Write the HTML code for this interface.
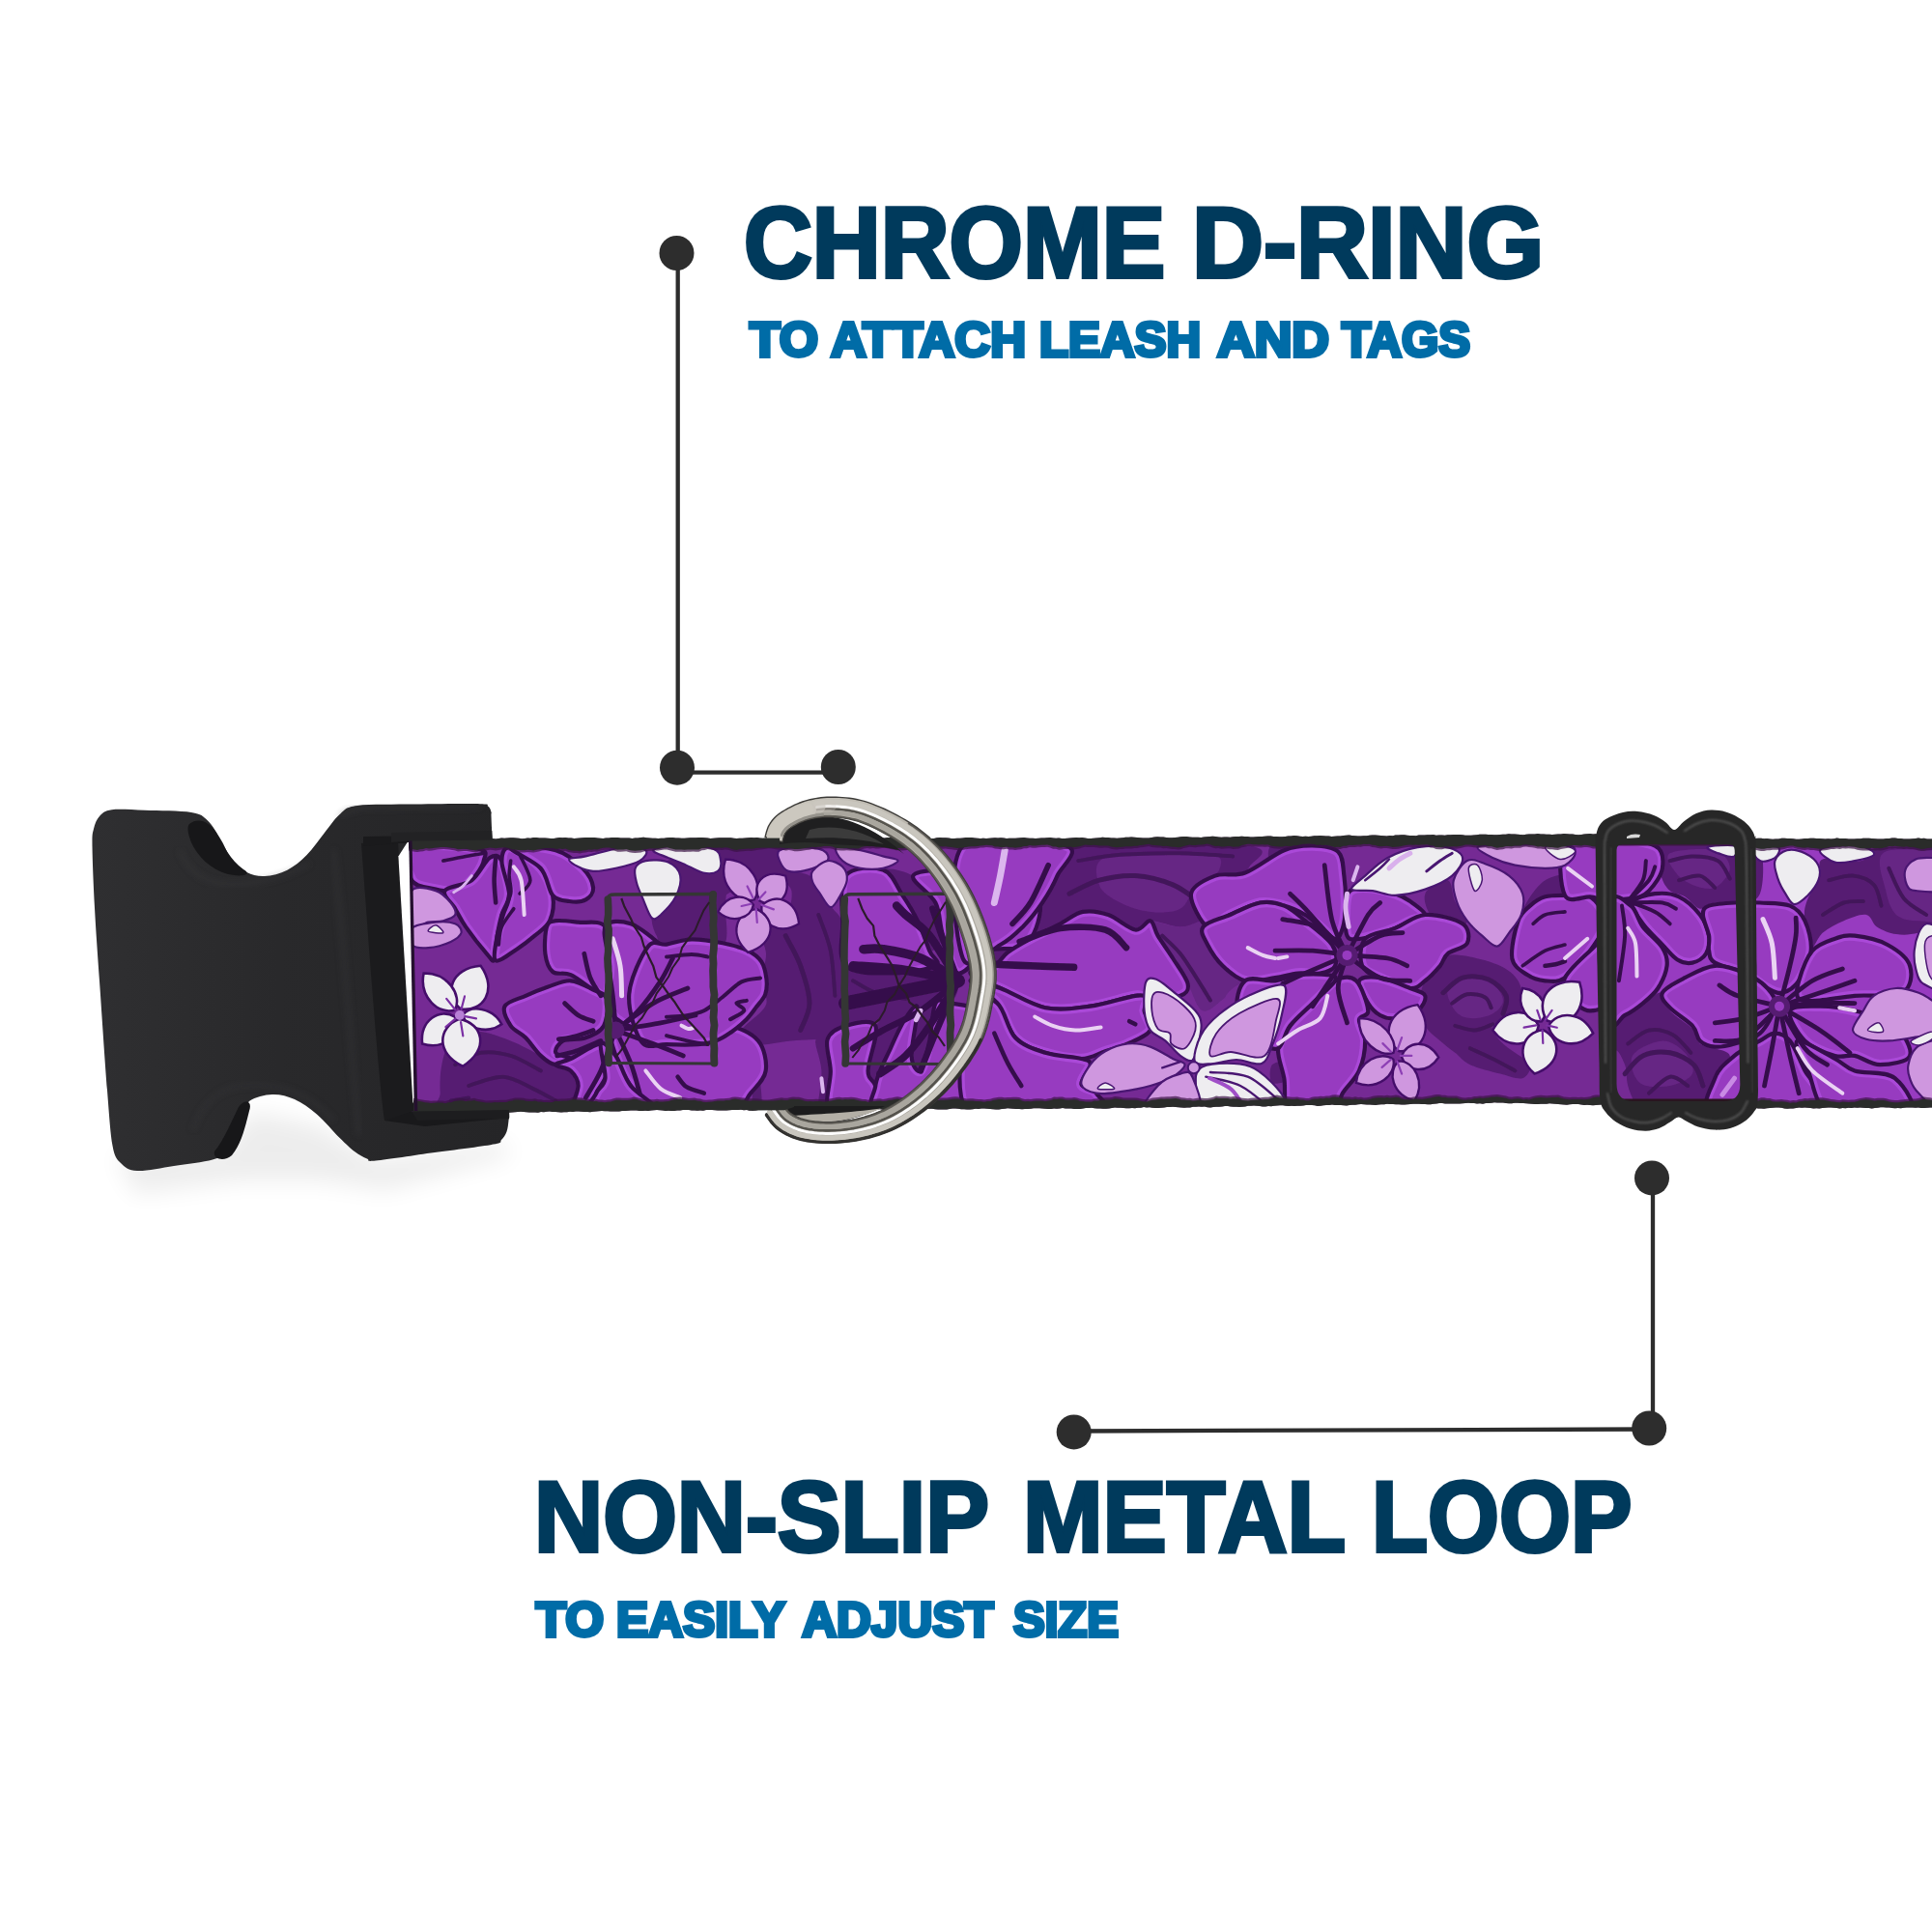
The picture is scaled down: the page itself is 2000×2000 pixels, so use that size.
<!DOCTYPE html>
<html lang="en">
<head>
<meta charset="utf-8">
<title>Collar features</title>
<style>
html,body{margin:0;padding:0;background:#fff;}
body{width:2000px;height:2000px;overflow:hidden;}
svg{display:block;}
text{font-family:"Liberation Sans",sans-serif;font-weight:bold;stroke-linejoin:miter;paint-order:stroke fill;}
.t1{fill:#003a5c;stroke:#003a5c;stroke-width:4px;font-size:103.2px;}
.t2{fill:#006ca7;stroke:#006ca7;stroke-width:4px;font-size:49.8px;}
</style>
</head>
<body>
<svg width="2000" height="2000" viewBox="0 0 2000 2000">
<rect width="2000" height="2000" fill="#ffffff"/>
<defs>
<clipPath id="clipA"><path d="M424.5,870 L424,870.1 L600,869.3 L1100,869.5 L1350,867.5 L1590,865.5 L1664,865.5 L1664,1145 L1664,1142.0 L1640,1141.8 L1560,1139.8 L1430,1141.5 L1130,1145.5 L660,1147.8 L600,1149.0 L424,1150.5 L430.5,1150Z"/></clipPath>
<clipPath id="clipB"><path d="M1664,873 L1810,873 L1810,870 L2000,870 L2000,1145.5 L1810,1145.5 L1810,1140.5 L1664,1140.5Z"/></clipPath>
<filter id="softP" x="0" y="0" width="100%" height="100%" filterUnits="userSpaceOnUse"><feGaussianBlur stdDeviation="0.55"/></filter>
</defs>
<g id="labels">
<text class="t1" y="286.75"><tspan x="770.0" textLength="436.1" lengthAdjust="spacingAndGlyphs">CHROME</tspan> <tspan x="1234.0" textLength="364.3" lengthAdjust="spacingAndGlyphs">D-RING</tspan></text>
<text class="t2" y="368.75"><tspan x="776.0" textLength="71.0" lengthAdjust="spacingAndGlyphs">TO</tspan> <tspan x="860.0" textLength="202.0" lengthAdjust="spacingAndGlyphs">ATTACH</tspan> <tspan x="1076.0" textLength="167.1" lengthAdjust="spacingAndGlyphs">LEASH</tspan> <tspan x="1260.0" textLength="116.0" lengthAdjust="spacingAndGlyphs">AND</tspan> <tspan x="1389.0" textLength="133.0" lengthAdjust="spacingAndGlyphs">TAGS</tspan></text>
<text class="t1" y="1605.5"><tspan x="553.0" textLength="469.1" lengthAdjust="spacingAndGlyphs">NON-SLIP</tspan> <tspan x="1059.0" textLength="332.3" lengthAdjust="spacingAndGlyphs">METAL</tspan> <tspan x="1420.0" textLength="269.4" lengthAdjust="spacingAndGlyphs">LOOP</tspan></text>
<text class="t2" y="1693.7"><tspan x="554.8" textLength="70.2" lengthAdjust="spacingAndGlyphs">TO</tspan> <tspan x="638.0" textLength="174.0" lengthAdjust="spacingAndGlyphs">EASILY</tspan> <tspan x="830.2" textLength="198.4" lengthAdjust="spacingAndGlyphs">ADJUST</tspan> <tspan x="1049.0" textLength="109.0" lengthAdjust="spacingAndGlyphs">SIZE</tspan></text>
</g>
<g id="callouts" fill="#2d2d2d" stroke="#2d2d2d" stroke-width="4.3" stroke-linecap="butt">
<line x1="701.7" y1="262" x2="701.7" y2="795"/>
<line x1="701" y1="799.6" x2="868" y2="799.6"/>
<circle cx="700.5" cy="262" r="18" stroke="none"/>
<circle cx="701" cy="794.7" r="18" stroke="none"/>
<circle cx="867.8" cy="794" r="18" stroke="none"/>
<line x1="1711" y1="1219" x2="1711" y2="1478"/>
<line x1="1112" y1="1481.5" x2="1707" y2="1479.5"/>
<circle cx="1710" cy="1219.4" r="18" stroke="none"/>
<circle cx="1707.2" cy="1478.5" r="18" stroke="none"/>
<circle cx="1111.7" cy="1482.4" r="18" stroke="none"/>
</g>
<g id="buckle">
<defs><linearGradient id="bkG" x1="0" y1="0" x2="1" y2="0"><stop offset="0" stop-color="#2f2f31"/><stop offset="0.45" stop-color="#29292b"/><stop offset="1" stop-color="#252527"/></linearGradient><filter id="blur12" x="-20%" y="-50%" width="140%" height="200%"><feGaussianBlur stdDeviation="12"/></filter><filter id="blur3"><feGaussianBlur stdDeviation="3"/></filter></defs>
<path d="M120,1195 L230,1190 L260,1150 L330,1165 L390,1200 L520,1182 L530,1196 L400,1232 L330,1222 L250,1222 L140,1236Z" fill="#000" opacity="0.07" filter="url(#blur12)"/>
<path d="M95.5,876C95.3,862.3 95.8,863.2 97,858C98.2,852.8 99.9,848.3 103,845C106.1,841.7 107.9,839.2 115.7,838.2C123.5,837.2 136.3,838.3 150,838.8C163.7,839.3 187.2,839.2 198,841C208.8,842.8 209.8,844.7 215,849.5C220.2,854.3 224.8,863 229,869.7C233.2,876.5 235.6,884.5 240,890C244.4,895.5 249.8,900.2 255.5,903C261.2,905.8 267,907.4 274,907C281,906.6 290.1,904.4 297.4,900.7C304.7,897 311.2,891.5 317.6,885C324,878.5 330.3,869 336,862C341.7,855 346,847.7 351.7,843C357.4,838.3 356.9,835.7 370,834C383.1,832.3 408.8,832.9 430,832.6C451.2,832.3 484.5,831.9 497,832.2C509.5,832.5 503.1,832.9 505,834.5C506.9,836.1 507.9,836.8 508.6,842C509.4,847.2 507.3,823 509.5,866C511.7,909 519.1,1052.7 522,1100C524.9,1147.3 526.2,1140 527,1150C527.8,1160 526.9,1156.4 526.5,1160C526.1,1163.6 525.8,1168.2 524.5,1171.5C523.2,1174.8 521.3,1177.8 519,1180C516.7,1182.2 522.3,1182.3 510.8,1184.5C499.3,1186.7 470.3,1190.2 450,1193C429.7,1195.8 400.7,1200.4 389,1201.5C377.3,1202.6 383.7,1201.1 380,1199.5C376.3,1197.9 371.7,1195.6 367,1192C362.3,1188.4 358.2,1184.4 351.7,1178C345.2,1171.6 335.8,1160.2 328,1153.5C320.2,1146.8 312.7,1141.4 305,1138C297.3,1134.6 289.6,1132.7 281.9,1133C274.2,1133.3 263.8,1135.7 258.6,1139.6C253.4,1143.5 253.1,1150.7 250.8,1156.6C248.5,1162.5 247.2,1169.1 244.6,1175C242,1180.9 239.1,1187.8 235,1192C230.9,1196.2 229.2,1198 220,1200.5C210.8,1203 193,1205.1 180,1207C167,1208.9 151.2,1212.5 142,1212C132.8,1211.5 129.2,1208.3 125,1204C120.8,1199.7 118.8,1198.5 116.5,1186C114.2,1173.5 113.2,1156.4 111,1128.7C108.8,1101 105.5,1051.5 103.3,1020C101.1,988.5 99.3,964 98,940C96.7,916 95.7,889.7 95.5,876Z" fill="url(#bkG)"/>
<path d="M196,853 C205,846 216,850 224,862 C232,876 238,890 252,900 C262,906 250,908 236,905 C218,900 204,886 198,872 C195,864 193,857 196,853Z" fill="#171719"/>
<path d="M222,1192 C232,1180 240,1160 247,1146 C252,1138 262,1138 258,1150 C254,1166 250,1184 240,1196 C232,1203 220,1200 222,1192Z" fill="#171719"/>
<path d="M186,880 C192,896 204,910 226,914 C250,918 290,912 320,894" fill="none" stroke="#3a3a3d" stroke-width="3" opacity="0.55" filter="url(#blur3)"/>
<path d="M200,1170 C206,1150 220,1128 250,1124 C290,1120 320,1132 346,1160" fill="none" stroke="#38383b" stroke-width="3" opacity="0.5" filter="url(#blur3)"/>
<path d="M374,873 L412,871 L427.5,1142 L431,1150 L398,1160 C390,1100 380,950 374,873Z" fill="#1b1b1d"/>
<path d="M376,866 L509,864 L509.5,872 L412,873 L376,876Z" fill="#1a1a1c"/>
<path d="M398,1160 L431,1149 L527,1147 L527,1157 L440,1166Z" fill="#19191b"/>
<path d="M352,846 C360,838 372,836 384,836 L498,834.5" fill="none" stroke="#3b3b3e" stroke-width="3" opacity="0.6" filter="url(#blur3)"/>
<path d="M345,880 C355,960 362,1080 372,1175" fill="none" stroke="#363639" stroke-width="5" opacity="0.5" filter="url(#blur3)"/>
<path d="M412.4,886.5 L421.5,872.3 L424.3,871.5 L430,1141.5 L427.4,1141.5Z" fill="#ffffff"/>
</g>
<g id="pattern" filter="url(#softP)">
<g clip-path="url(#clipA)">
<rect x="415" y="860" width="1260" height="295" fill="#742c94"/>
<path d="M457.3,1102.2C459.1,1093.7 460.4,1086.2 466.6,1080.5C472.8,1074.8 484.2,1068.6 494.5,1068.1C504.9,1067.6 517.8,1073.3 528.7,1077.4C539.6,1081.5 552,1088.8 559.8,1092.9C567.5,1097.1 569.3,1099.6 575.3,1102.2C581.2,1104.8 590.3,1104.8 595.5,1108.4C600.6,1112.1 605.8,1118.8 606.3,1124C606.9,1129.2 601.2,1134.3 598.6,1139.5C596,1144.7 613.8,1152.4 590.8,1155C567.8,1157.6 482.9,1158.9 460.4,1155C437.9,1151.1 456.2,1140.5 455.7,1131.7C455.2,1122.9 455.5,1110.8 457.3,1102.2Z" fill="#571d72"/>
<path d="M429.3,878.6C432.9,872.7 444.8,875.3 451.1,875.5C457.3,875.8 466.6,876.3 466.6,880.2C466.6,884.1 457.3,893.6 451.1,898.8C444.8,904 432.9,914.6 429.3,911.2C425.7,907.9 425.7,884.6 429.3,878.6Z" fill="#571d72"/>
<path d="M704.2,906.6C707.6,900.4 713,896.2 720,891.1C727,885.9 731.4,878.1 746.1,875.5C760.8,872.9 796.6,870.4 808.2,875.5C819.8,880.7 819.8,900.6 816,906.6C812.1,912.5 796.6,907.4 784.9,911.2C773.3,915.1 756.9,921.9 746.1,929.9C735.3,937.9 727.8,947.7 720,959.4C712.2,971 705.5,995.6 699.5,999.8C693.5,1003.9 687.1,992 684,984.2C680.9,976.5 678.3,962.5 680.9,953.2C683.5,943.9 695.6,936.1 699.5,928.3C703.4,920.6 700.7,912.8 704.2,906.6Z" fill="#571d72"/>
<path d="M807,905C810.1,902.4 829.2,901.1 838,906.6C846.8,912 854.1,929.4 859.8,937.6C865.4,945.9 869.6,945.9 872.2,956.3C874.8,966.6 867,991.2 875.3,999.8C883.6,1008.3 906.3,1007.5 921.9,1007.5C937.4,1007.5 956.8,999.8 968.4,999.8C980.1,999.8 989.2,1001 991.7,1007.5C994.3,1014 993,1030.8 984,1038.6C974.9,1046.3 952.9,1050.2 937.4,1054.1C921.9,1058 903.7,1058.5 890.8,1061.9C877.9,1065.2 871.7,1071.7 859.8,1074.3C847.8,1076.9 832.3,1076.1 819.4,1077.4C806.4,1078.7 792.7,1082 782.1,1082C771.5,1082 757.5,1080.8 755.7,1077.4C753.9,1074 765,1068.1 771.2,1061.9C777.5,1055.7 790.1,1047.9 793,1040.1C795.8,1032.4 788.3,1024.1 788.3,1015.3C788.3,1006.5 793.2,996.6 793,987.3C792.7,978 783.4,966.1 786.8,959.4C790.1,952.7 807.7,953.2 813.2,947C818.6,940.7 820.4,929.1 819.4,922.1C818.3,915.1 803.9,907.6 807,905Z" fill="#571d72"/>
<path d="M914.1,900.4C915.9,897 936.1,900.9 945.2,906.6C954.2,912.3 963.3,924.2 968.4,934.5C973.6,944.9 977.2,960.4 976.2,968.7C975.2,977 966.6,986.8 962.2,984.2C957.8,981.6 954.5,962.7 949.8,953.2C945.2,943.6 940.2,935.6 934.3,926.8C928.3,918 912.3,903.7 914.1,900.4Z" fill="#571d72"/>
<path d="M772.8,1083.6C773.3,1077.9 779.8,1076.6 782.1,1082C784.4,1087.5 785.7,1105.3 786.8,1116.2C787.8,1127.1 789.6,1142.1 788.3,1147.3C787,1152.4 780.6,1152.4 779,1147.3C777.5,1142.1 780,1126.8 779,1116.2C778,1105.6 772.3,1089.3 772.8,1083.6Z" fill="#571d72"/>
<path d="M844.2,1077.4C845.3,1072 854.1,1070.7 856.6,1075.8C859.2,1081 859.2,1096.5 859.8,1108.4C860.3,1120.4 861.8,1140.8 859.8,1147.3C857.7,1153.7 848.9,1153.7 847.3,1147.3C845.8,1140.8 851,1120.1 850.4,1108.4C849.9,1096.8 843.2,1082.8 844.2,1077.4Z" fill="#571d72"/>
<path d="M906.3,1061.9C912.8,1052.8 934.8,1050.2 937.4,1054.1C940,1058 927,1073.5 921.9,1085.2C916.7,1096.8 910.2,1120.1 906.3,1124C902.5,1127.9 898.6,1118.8 898.6,1108.4C898.6,1098.1 899.9,1070.9 906.3,1061.9Z" fill="#571d72"/>
<path d="M949.8,1043.2C954,1034.2 966.4,1032.9 968.4,1038.6C970.5,1044.3 964.8,1065.7 962.2,1077.4C959.6,1089 956,1105.9 952.9,1108.4C949.8,1111 944.1,1103.8 943.6,1092.9C943.1,1082 945.7,1052.3 949.8,1043.2Z" fill="#571d72"/>
<path d="M1103.9,875.5C1136.7,870.4 1260.2,871.9 1291.7,875.5C1323.3,879.2 1295.9,891.3 1293.3,897.3C1290.7,903.2 1282.9,906.6 1276.2,911.2C1269.5,915.9 1258.9,920.3 1252.9,925.2C1247,930.1 1241,936.1 1240.5,940.7C1240,945.4 1252.9,950.1 1249.8,953.2C1246.7,956.3 1231.7,959.4 1221.9,959.4C1212,959.4 1198.6,952.7 1190.8,953.2C1183,953.7 1182.5,963.5 1175.3,962.5C1168,961.4 1156.4,950.1 1147.3,947C1138.3,943.9 1129.2,942.3 1120.9,943.9C1112.7,945.4 1106.7,951.6 1097.6,956.3C1088.6,960.9 1075.6,966.9 1066.6,971.8C1057.5,976.7 1049.5,981.1 1043.3,985.8C1037.1,990.4 1035.8,996.1 1029.3,999.8C1022.8,1003.4 1009.9,1008.8 1004.5,1007.5C999,1006.2 991.5,996.9 996.7,992C1001.9,987.1 1025.2,983.4 1035.5,978C1045.9,972.6 1051.6,966.6 1058.8,959.4C1066.1,952.1 1073.1,943.3 1079,934.5C1085,925.7 1090.4,916.4 1094.5,906.6C1098.7,896.7 1071,880.7 1103.9,875.5Z" fill="#571d72"/>
<path d="M1147.3,886.4C1166,881 1230.7,881 1249.8,883.3C1269,885.6 1264.3,894.4 1262.2,900.4C1260.2,906.3 1244.1,912.3 1237.4,919C1230.7,925.7 1229.6,936.6 1221.9,940.7C1214.1,944.9 1201.2,944.9 1190.8,943.9C1180.5,942.8 1168.6,939.2 1159.8,934.5C1151,929.9 1140.1,923.9 1138,915.9C1135.9,907.9 1128.7,891.8 1147.3,886.4Z" fill="#662584"/>
<path d="M1187.7,953.2C1191.6,951.6 1211.5,959.4 1221.9,959.4C1232.2,959.4 1243.1,950.3 1249.8,953.2C1256.5,956 1258.1,968.7 1262.2,976.5C1266.4,984.2 1270.5,993 1274.7,999.8C1278.8,1006.5 1288.1,1011.4 1287.1,1016.8C1286,1022.3 1275.4,1027.4 1268.4,1032.4C1261.5,1037.3 1251.6,1048.7 1245.2,1046.3C1238.7,1044 1234.8,1027.4 1229.6,1018.4C1224.5,1009.3 1219.3,1000.3 1214.1,992C1208.9,983.7 1203,975.2 1198.6,968.7C1194.2,962.2 1183.8,954.7 1187.7,953.2Z" fill="#662584"/>
<path d="M1268.4,1032.4C1269,1028.7 1278.5,1019.7 1287.1,1016.8C1295.7,1014 1314.5,1013 1320,1015.3C1325.5,1017.6 1326,1026.9 1320,1030.8C1314,1034.7 1292.6,1038.3 1284,1038.6C1275.4,1038.8 1267.9,1036 1268.4,1032.4Z" fill="#742c94"/>
<path d="M1316.9,874C1324.1,869.6 1353.6,871.6 1360.4,874C1367.1,876.3 1361.4,884.6 1357.3,888C1353.1,891.3 1342.3,892.1 1335.5,894.2C1328.8,896.2 1320,903.7 1316.9,900.4C1313.8,897 1309.6,878.4 1316.9,874Z" fill="#571d72"/>
<path d="M1475.3,1015.3C1478.9,1008.8 1486.9,1004.2 1490.8,999.8C1494.7,995.4 1493.4,990.4 1498.6,988.9C1503.7,987.3 1512.8,988.6 1521.9,990.4C1530.9,992.2 1544.6,995.6 1552.9,999.8C1561.2,1003.9 1567.7,1008.8 1571.6,1015.3C1575.4,1021.7 1576.7,1032.1 1576.2,1038.6C1575.7,1045 1573.6,1050.2 1568.4,1054.1C1563.3,1058 1547.7,1058 1545.2,1061.9C1542.6,1065.7 1549,1072.7 1552.9,1077.4C1556.8,1082 1563.3,1085.7 1568.4,1089.8C1573.6,1094 1582.7,1097.8 1584,1102.2C1585.3,1106.6 1581.4,1114.7 1576.2,1116.2C1571,1117.8 1562,1113.9 1552.9,1111.6C1543.9,1109.2 1529.6,1105.9 1521.9,1102.2C1514.1,1098.6 1511.5,1094 1506.3,1089.8C1501.2,1085.7 1496,1082 1490.8,1077.4C1485.6,1072.7 1478.9,1068.3 1475.3,1061.9C1471.7,1055.4 1469.1,1046.3 1469.1,1038.6C1469.1,1030.8 1471.7,1021.7 1475.3,1015.3Z" fill="#571d72"/>
<path d="M1498.6,1023C1501.2,1017.3 1514.1,1013 1521.9,1012.2C1529.6,1011.4 1539.5,1014.5 1545.2,1018.4C1550.8,1022.3 1556,1030.3 1556,1035.5C1556,1040.6 1550.8,1046.3 1545.2,1049.4C1539.5,1052.5 1528.3,1054.6 1521.9,1054.1C1515.4,1053.6 1510.2,1051.5 1506.3,1046.3C1502.5,1041.2 1496,1028.7 1498.6,1023Z" fill="#662584"/>
<path d="M1316.9,1102.2C1320,1098.6 1330.9,1098.1 1335.5,1099.1C1340.2,1100.2 1344.8,1105.3 1344.8,1108.4C1344.8,1111.6 1340.2,1115.7 1335.5,1117.8C1330.9,1119.8 1320,1123.5 1316.9,1120.9C1313.8,1118.3 1313.8,1105.9 1316.9,1102.2Z" fill="#571d72"/>
<path d="M1475.3,925.2C1477.9,918.7 1493.4,909.9 1498.6,911.2C1503.7,912.5 1503,926 1506.3,933C1509.7,940 1518.8,948.8 1518.8,953.2C1518.8,957.6 1512.3,959.9 1506.3,959.4C1500.4,958.9 1488.2,955.8 1483,950.1C1477.9,944.4 1472.7,931.7 1475.3,925.2Z" fill="#571d72"/>
<path d="M1574.7,947C1574.7,944.9 1579.8,934.3 1584,928.3C1588.1,922.4 1593.5,914.9 1599.5,911.2C1605.5,907.6 1616.6,904 1620,906.6C1623.4,909.2 1623.4,923.1 1620,926.8C1616.6,930.4 1605.5,926 1599.5,928.3C1593.5,930.7 1588.1,937.6 1584,940.7C1579.8,943.9 1574.7,949 1574.7,947Z" fill="#571d72"/>
<path d="M682.2,894.8C694.5,885.3 736.8,887.5 748.2,894.8C759.6,902.2 750.6,925 750.8,938.8C751,952.6 755.3,971.7 749.5,977.6C743.7,983.5 725.8,974.1 715.9,974.4C706,974.7 696.9,983.3 690,979.6C683.1,975.8 675.8,965.9 674.5,951.7C673.2,937.6 669.9,904.3 682.2,894.8Z" fill="#571d72"/>
<path d="M1493.9,1027.7C1497.3,1025.1 1506.3,1014.5 1514.1,1012.2C1521.9,1009.8 1533,1010.6 1540.5,1013.7C1548,1016.8 1556.5,1024.9 1559.1,1030.8C1561.7,1036.8 1556.5,1046.3 1556,1049.4" fill="none" stroke="#43145a" stroke-width="5" stroke-linecap="round" stroke-linejoin="round"/>
<path d="M1506.3,1061.9C1509.7,1062.6 1520.1,1066.8 1526.5,1066.5C1533,1066.3 1542,1061.3 1545.2,1060.3" fill="none" stroke="#43145a" stroke-width="4" stroke-linecap="round" stroke-linejoin="round"/>
<path d="M1503.2,1038.6C1505.8,1037 1513.1,1030.3 1518.8,1029.3C1524.5,1028.2 1533.3,1030 1537.4,1032.4C1541.5,1034.7 1542.6,1041.4 1543.6,1043.2" fill="none" stroke="#43145a" stroke-width="4" stroke-linecap="round" stroke-linejoin="round"/>
<path d="M1521.9,1085.2C1525.7,1087 1537.4,1092.1 1545.2,1096C1552.9,1099.9 1564.6,1106.4 1568.4,1108.4" fill="none" stroke="#43145a" stroke-width="4" stroke-linecap="round" stroke-linejoin="round"/>
<path d="M471.2,1102.2C475.6,1100.2 488.1,1091.4 497.6,1089.8C507.2,1088.3 518.3,1089.8 528.7,1092.9C539,1096 554.6,1105.9 559.8,1108.4" fill="none" stroke="#43145a" stroke-width="4" stroke-linecap="round" stroke-linejoin="round"/>
<path d="M485.2,1124C491.2,1122.4 509.8,1114.1 520.9,1114.7C532.1,1115.2 542.9,1122.9 552,1127.1C561,1131.2 571.4,1137.4 575.3,1139.5" fill="none" stroke="#43145a" stroke-width="4" stroke-linecap="round" stroke-linejoin="round"/>
<path d="M466.6,1139.5 L485.2,1136.4" fill="none" stroke="#43145a" stroke-width="4" stroke-linecap="round" stroke-linejoin="round"/>
<path d="M1116.3,891.1C1123.5,890 1142.2,886.1 1159.8,884.8C1177.3,883.6 1202.5,883 1221.9,883.3C1241.3,883.6 1267.2,885.9 1276.2,886.4" fill="none" stroke="#43145a" stroke-width="4" stroke-linecap="round" stroke-linejoin="round"/>
<path d="M1107,925.2C1112.1,922.9 1126.6,914.3 1138,911.2C1149.4,908.1 1162.6,905.8 1175.3,906.6C1188,907.4 1203.2,911.5 1214.1,915.9C1225,920.3 1236.1,930.1 1240.5,933" fill="none" stroke="#43145a" stroke-width="5" stroke-linecap="round" stroke-linejoin="round"/>
<path d="M1203.2,968.7C1206.3,971.8 1215.7,979.6 1221.9,987.3C1228.1,995.1 1235.3,1007.3 1240.5,1015.3C1245.7,1023.3 1250.8,1032.1 1252.9,1035.5" fill="none" stroke="#43145a" stroke-width="4" stroke-linecap="round" stroke-linejoin="round"/>
<path d="M813.2,968.7C815.8,973.9 824.6,988.1 828.7,999.8C832.8,1011.4 838,1027.4 838,1038.6C838,1049.7 830.2,1061.9 828.7,1066.5" fill="none" stroke="#43145a" stroke-width="5" stroke-linecap="round" stroke-linejoin="round"/>
<path d="M847.3,947C849.4,953.2 856.9,970.2 859.8,984.2C862.6,998.2 863.6,1023 864.4,1030.8" fill="none" stroke="#43145a" stroke-width="4" stroke-linecap="round" stroke-linejoin="round"/>
<path d="M883,1015.3C886.9,1017.3 897.3,1024.6 906.3,1027.7C915.4,1030.8 932.2,1032.9 937.4,1033.9" fill="none" stroke="#43145a" stroke-width="4" stroke-linecap="round" stroke-linejoin="round"/>
<clipPath id="pc1"><path id="pp1" d="M426.2,877.1C437.6,871.6 482.1,876.3 494.5,878.6C507,881 501.8,885.6 500.7,891.1C499.7,896.5 493.2,906.1 488.3,911.2C483.4,916.4 477.5,920.6 471.2,922.1C465,923.7 458.6,922.4 451.1,920.6C443.6,918.7 430.4,918.5 426.2,911.2C422.1,904 414.8,882.5 426.2,877.1Z"/></clipPath><g clip-path="url(#pc1)"><use href="#pp1" fill="#973bc0"/><use href="#pp1" fill="none" stroke="#aa4ad8" stroke-width="10.5"/></g><use href="#pp1" fill="none" stroke="#36104c" stroke-width="4.2" stroke-linejoin="round"/>
<clipPath id="pc2"><path id="pp2" d="M460.4,922.1C463.2,917.2 480.6,916.9 488.3,911.2C496.1,905.5 501.8,891.3 507,888C512.1,884.6 516,884.8 519.4,891.1C522.7,897.3 527.1,915.9 527.1,925.2C527.1,934.5 521.4,939.7 519.4,947C517.3,954.2 516,960.9 514.7,968.7C513.4,976.5 513.4,990.4 511.6,993.5C509.8,996.6 508.8,993 503.9,987.3C498.9,981.6 487.5,967.1 482.1,959.4C476.7,951.6 474.9,947 471.2,940.7C467.6,934.5 457.5,927 460.4,922.1Z"/></clipPath><g clip-path="url(#pc2)"><use href="#pp2" fill="#973bc0"/><use href="#pp2" fill="none" stroke="#aa4ad8" stroke-width="10.5"/></g><use href="#pp2" fill="none" stroke="#36104c" stroke-width="4.2" stroke-linejoin="round"/>
<clipPath id="pc3"><path id="pp3" d="M519.4,891.1C519.6,883 522,875.8 528.7,877.1C535.4,878.4 552.5,890.5 559.8,898.8C567,907.1 570.6,917.7 572.2,926.8C573.7,935.8 572.2,946.2 569.1,953.2C566,960.2 559.2,963.8 553.5,968.7C547.8,973.6 541.6,978.4 534.9,982.7C528.2,986.9 516.5,996.6 513.2,994.3C509.8,992 513.4,976.6 514.7,968.7C516,960.8 518.9,954.2 520.9,947C523,939.7 527.4,934.5 527.1,925.2C526.9,915.9 519.1,899.1 519.4,891.1Z"/></clipPath><g clip-path="url(#pc3)"><use href="#pp3" fill="#973bc0"/><use href="#pp3" fill="none" stroke="#aa4ad8" stroke-width="10.5"/></g><use href="#pp3" fill="none" stroke="#36104c" stroke-width="4.2" stroke-linejoin="round"/>
<clipPath id="pc4"><path id="pp4" d="M528.7,877.1C531.3,874 562.9,876.6 575.3,880.2C587.7,883.8 596.8,892.3 603.2,898.8C609.7,905.3 613.6,913.6 614.1,919C614.6,924.4 610.5,929.1 606.3,931.4C602.2,933.8 594.9,933.8 589.3,933C583.6,932.2 577.1,932.5 572.2,926.8C567.3,921.1 567,907.1 559.8,898.8C552.5,890.5 526.1,880.2 528.7,877.1Z"/></clipPath><g clip-path="url(#pc4)"><use href="#pp4" fill="#973bc0"/><use href="#pp4" fill="none" stroke="#aa4ad8" stroke-width="10.5"/></g><use href="#pp4" fill="none" stroke="#36104c" stroke-width="4.2" stroke-linejoin="round"/>
<clipPath id="pc5"><path id="pp5" d="M566,959.4C567.8,953.7 569.8,953.9 575.3,953.2C580.7,952.4 590,953.7 598.6,954.7C607.1,955.8 621.1,951.9 626.5,959.4C632,966.9 630.9,987.8 631.2,999.8C631.4,1011.7 630.9,1026.7 628.1,1030.8C625.2,1034.9 620.3,1028.2 614.1,1024.6C607.9,1021 597.8,1012.2 590.8,1009.1C583.8,1006 576.6,1009.6 572.2,1006C567.8,1002.3 565.4,995.1 564.4,987.3C563.4,979.6 564.2,965.1 566,959.4Z"/></clipPath><g clip-path="url(#pc5)"><use href="#pp5" fill="#973bc0"/><use href="#pp5" fill="none" stroke="#aa4ad8" stroke-width="10.5"/></g><use href="#pp5" fill="none" stroke="#36104c" stroke-width="4.2" stroke-linejoin="round"/>
<clipPath id="pc6"><path id="pp6" d="M522.5,1041.7C525.1,1036.5 536.7,1034.2 544.2,1030.8C551.7,1027.4 559.8,1024.1 567.5,1021.5C575.3,1018.9 583,1014.8 590.8,1015.3C598.6,1015.8 607.9,1021.5 614.1,1024.6C620.3,1027.7 626.3,1027.7 628.1,1033.9C629.9,1040.1 628.6,1055.1 625,1061.9C621.3,1068.6 613.3,1071.7 606.3,1074.3C599.3,1076.9 588.2,1074.8 583,1077.4C577.9,1080 574,1086.7 575.3,1089.8C576.6,1092.9 590.8,1094 590.8,1096C590.8,1098.1 580.5,1102.8 575.3,1102.2C570.1,1101.7 564.9,1097.6 559.8,1092.9C554.6,1088.3 549.4,1079.5 544.2,1074.3C539,1069.1 532.3,1067.3 528.7,1061.9C525.1,1056.4 519.9,1046.9 522.5,1041.7Z"/></clipPath><g clip-path="url(#pc6)"><use href="#pp6" fill="#973bc0"/><use href="#pp6" fill="none" stroke="#aa4ad8" stroke-width="10.5"/></g><use href="#pp6" fill="none" stroke="#36104c" stroke-width="4.2" stroke-linejoin="round"/>
<clipPath id="pc7"><path id="pp7" d="M575.3,1102.2C575.3,1100.2 583,1099.6 590.8,1096C598.6,1092.4 614.6,1081 621.9,1080.5C629.1,1080 633.5,1087 634.3,1092.9C635.1,1098.9 629.4,1109.7 626.5,1116.2C623.7,1122.7 619.8,1125.3 617.2,1131.7C614.6,1138.2 615.4,1151.1 611,1155C606.6,1158.9 592.9,1160.2 590.8,1155C588.7,1149.9 598.6,1131.7 598.6,1124C598.6,1116.2 594.7,1112.1 590.8,1108.4C586.9,1104.8 575.3,1104.3 575.3,1102.2Z"/></clipPath><g clip-path="url(#pc7)"><use href="#pp7" fill="#973bc0"/><use href="#pp7" fill="none" stroke="#aa4ad8" stroke-width="10.5"/></g><use href="#pp7" fill="none" stroke="#36104c" stroke-width="4.2" stroke-linejoin="round"/>
<clipPath id="pc8"><path id="pp8" d="M626.5,959.4C630.1,952.1 643.3,953.2 652.9,956.3C662.5,959.4 674.9,970.8 684,978C693,985.3 698.2,994.1 707.3,999.8C716.3,1005.4 729.3,1005.7 738.3,1012.2C747.4,1018.6 759,1030.3 761.6,1038.6C764.2,1046.9 761.6,1057.2 753.9,1061.9C746.1,1066.5 729.3,1065.7 715,1066.5C700.8,1067.3 681.4,1068.6 668.4,1066.5C655.5,1064.5 644.1,1060.1 637.4,1054.1C630.7,1048.1 629.1,1039.9 628.1,1030.8C627,1021.7 631.4,1011.7 631.2,999.8C630.9,987.8 622.9,966.6 626.5,959.4Z"/></clipPath><g clip-path="url(#pc8)"><use href="#pp8" fill="#973bc0"/><use href="#pp8" fill="none" stroke="#aa4ad8" stroke-width="10.5"/></g><use href="#pp8" fill="none" stroke="#36104c" stroke-width="4.2" stroke-linejoin="round"/>
<clipPath id="pc9"><path id="pp9" d="M634.3,1066.5C639.5,1062.1 655,1066.5 668.4,1066.5C681.9,1066.5 700.8,1067.3 715,1066.5C729.3,1065.7 742.2,1060.1 753.9,1061.9C765.5,1063.7 778.4,1069.6 784.9,1077.4C791.4,1085.2 794,1099.4 792.7,1108.4C791.4,1117.5 783.6,1124 777.1,1131.7C770.7,1139.5 769.4,1151.1 753.9,1155C738.3,1158.9 700.8,1160.2 684,1155C667.2,1149.9 660.7,1134.3 652.9,1124C645.2,1113.6 640.5,1102.5 637.4,1092.9C634.3,1083.3 629.1,1070.9 634.3,1066.5Z"/></clipPath><g clip-path="url(#pc9)"><use href="#pp9" fill="#973bc0"/><use href="#pp9" fill="none" stroke="#aa4ad8" stroke-width="10.5"/></g><use href="#pp9" fill="none" stroke="#36104c" stroke-width="4.2" stroke-linejoin="round"/>
<clipPath id="pc10"><path id="pp10" d="M621.9,1080.5C623.7,1076.6 632.2,1085.7 637.4,1092.9C642.6,1100.2 645.2,1113.6 652.9,1124C660.7,1134.3 691,1149.9 684,1155C677,1160.2 622.1,1158.9 611,1155C599.9,1151.1 614.6,1138.2 617.2,1131.7C619.8,1125.3 625.7,1124.8 626.5,1116.2C627.3,1107.7 620.1,1084.4 621.9,1080.5Z"/></clipPath><g clip-path="url(#pc10)"><use href="#pp10" fill="#973bc0"/><use href="#pp10" fill="none" stroke="#aa4ad8" stroke-width="10.5"/></g><use href="#pp10" fill="none" stroke="#36104c" stroke-width="4.2" stroke-linejoin="round"/>
<clipPath id="pc11"><path id="pp11" d="M670.6,980.2C677.1,971.6 682.5,978.9 690,977.6C697.5,976.3 706.2,972.7 715.9,972.4C725.6,972.2 738.5,974.4 748.2,976.3C757.9,978.3 767.4,980.9 774.1,984.1C780.8,987.3 785.1,990.8 788.3,995.7C791.6,1000.7 792.8,1008.2 793.5,1013.8C794.1,1019.4 793.9,1024.6 792.2,1029.4C790.5,1034.1 786.4,1038 783.1,1042.3C779.9,1046.6 777.1,1050.9 772.8,1055.2C768.5,1059.6 762.4,1064.5 757.3,1068.2C752.1,1071.8 747.6,1075.1 741.7,1077.2C735.9,1079.4 731,1080.5 722.3,1081.1C713.7,1081.8 699.7,1081.5 690,1081.1C680.3,1080.7 670.6,1087.1 664.1,1078.5C657.7,1069.9 650.1,1045.8 651.2,1029.4C652.3,1013 664.1,988.8 670.6,980.2Z"/></clipPath><g clip-path="url(#pc11)"><use href="#pp11" fill="#973bc0"/><use href="#pp11" fill="none" stroke="#aa4ad8" stroke-width="10.5"/></g><use href="#pp11" fill="none" stroke="#36104c" stroke-width="4.2" stroke-linejoin="round"/>
<clipPath id="pc12"><path id="pp12" d="M875.3,906.6C882.3,897.3 904.3,897 914.1,900.4C923.9,903.7 928.3,918 934.3,926.8C940.2,935.6 945.2,943.6 949.8,953.2C954.5,962.7 959.1,976.5 962.2,984.2C965.3,992 975.2,995.9 968.4,999.8C961.7,1003.6 937.4,1007.5 921.9,1007.5C906.3,1007.5 883.6,1008.3 875.3,999.8C867,991.2 872.2,971.8 872.2,956.3C872.2,940.7 868.3,915.9 875.3,906.6Z"/></clipPath><g clip-path="url(#pc12)"><use href="#pp12" fill="#973bc0"/><use href="#pp12" fill="none" stroke="#aa4ad8" stroke-width="10.5"/></g><use href="#pp12" fill="none" stroke="#36104c" stroke-width="4.2" stroke-linejoin="round"/>
<clipPath id="pc13"><path id="pp13" d="M945.2,906.6C947.7,900.6 969.7,901.4 984,898.8C998.2,896.2 1017.6,891.8 1030.6,891.1C1043.5,890.3 1053.9,886.4 1061.6,894.2C1069.4,901.9 1077.1,923.7 1077.1,937.6C1077.1,951.6 1070.7,970.2 1061.6,978C1052.6,985.8 1034.4,979.3 1022.8,984.2C1011.1,989.1 999.5,1010.1 991.7,1007.5C984,1004.9 980.1,980.9 976.2,968.7C972.3,956.5 973.6,944.9 968.4,934.5C963.3,924.2 942.6,912.5 945.2,906.6Z"/></clipPath><g clip-path="url(#pc13)"><use href="#pp13" fill="#973bc0"/><use href="#pp13" fill="none" stroke="#aa4ad8" stroke-width="10.5"/></g><use href="#pp13" fill="none" stroke="#36104c" stroke-width="4.2" stroke-linejoin="round"/>
<clipPath id="pc14"><path id="pp14" d="M875.3,1061.9C883.6,1059.5 902.5,1054.1 906.3,1061.9C910.2,1069.6 898.6,1098.1 898.6,1108.4C898.6,1118.8 903.7,1116.2 906.3,1124C908.9,1131.7 921.9,1149.9 914.1,1155C906.3,1160.2 868.8,1162.8 859.8,1155C850.7,1147.3 860.3,1121.6 859.8,1108.4C859.2,1095.2 854.1,1083.6 856.6,1075.8C859.2,1068.1 867,1064.2 875.3,1061.9Z"/></clipPath><g clip-path="url(#pc14)"><use href="#pp14" fill="#973bc0"/><use href="#pp14" fill="none" stroke="#aa4ad8" stroke-width="10.5"/></g><use href="#pp14" fill="none" stroke="#36104c" stroke-width="4.2" stroke-linejoin="round"/>
<clipPath id="pc15"><path id="pp15" d="M921.9,1085.2C927,1073.5 932.7,1061.1 937.4,1054.1C942,1047.1 948.8,1036.8 949.8,1043.2C950.8,1049.7 943.1,1082 943.6,1092.9C944.1,1103.8 949.8,1111 952.9,1108.4C956,1105.9 959.6,1089 962.2,1077.4C964.8,1065.7 964.8,1045 968.4,1038.6C972.1,1032.1 976.2,1037.3 984,1038.6C991.7,1039.9 1004.7,1039.9 1015,1046.3C1025.4,1052.8 1039.6,1064.5 1046.1,1077.4C1052.6,1090.3 1053.9,1111 1053.9,1124C1053.9,1136.9 1069.4,1149.9 1046.1,1155C1022.8,1160.2 937.4,1160.2 914.1,1155C890.8,1149.9 905,1135.6 906.3,1124C907.6,1112.3 916.7,1096.8 921.9,1085.2Z"/></clipPath><g clip-path="url(#pc15)"><use href="#pp15" fill="#973bc0"/><use href="#pp15" fill="none" stroke="#aa4ad8" stroke-width="10.5"/></g><use href="#pp15" fill="none" stroke="#36104c" stroke-width="4.2" stroke-linejoin="round"/>
<clipPath id="pc16"><path id="pp16" d="M996.7,875.5C1014.6,856.1 1087.5,870.4 1103.9,875.5C1120.2,880.7 1098.7,896.7 1094.5,906.6C1090.4,916.4 1085,925.7 1079,934.5C1073.1,943.3 1066.1,952.1 1058.8,959.4C1051.6,966.6 1045.9,972.6 1035.5,978C1025.2,983.4 1003.2,1009.1 996.7,992C990.2,974.9 978.9,894.9 996.7,875.5Z"/></clipPath><g clip-path="url(#pc16)"><use href="#pp16" fill="#973bc0"/><use href="#pp16" fill="none" stroke="#aa4ad8" stroke-width="10.5"/></g><use href="#pp16" fill="none" stroke="#36104c" stroke-width="4.2" stroke-linejoin="round"/>
<clipPath id="pc17"><path id="pp17" d="M1029.3,999.8C1035.8,996.1 1037.1,990.4 1043.3,985.8C1049.5,981.1 1057.5,976.7 1066.6,971.8C1075.6,966.9 1088.6,960.9 1097.6,956.3C1106.7,951.6 1112.7,945.4 1120.9,943.9C1129.2,942.3 1138.3,943.9 1147.3,947C1156.4,950.1 1168,961.4 1175.3,962.5C1182.5,963.5 1186.9,952.1 1190.8,953.2C1194.7,954.2 1194.7,962.2 1198.6,968.7C1202.5,975.2 1208.9,983.7 1214.1,992C1219.3,1000.3 1228.3,1011.9 1229.6,1018.4C1230.9,1024.9 1228.9,1028.2 1221.9,1030.8C1214.9,1033.4 1195.5,1033.9 1187.7,1033.9C1179.9,1033.9 1185.1,1029.5 1175.3,1030.8C1165.4,1032.1 1144.2,1039.6 1128.7,1041.7C1113.2,1043.7 1097.6,1046.3 1082.1,1043.2C1066.6,1040.1 1048.5,1029 1035.5,1023C1022.6,1017.1 1005.5,1011.4 1004.5,1007.5C1003.4,1003.6 1022.8,1003.4 1029.3,999.8Z"/></clipPath><g clip-path="url(#pc17)"><use href="#pp17" fill="#973bc0"/><use href="#pp17" fill="none" stroke="#aa4ad8" stroke-width="10.5"/></g><use href="#pp17" fill="none" stroke="#36104c" stroke-width="4.2" stroke-linejoin="round"/>
<clipPath id="pc18"><path id="pp18" d="M1004.5,1015.3C1005,1012.7 1022.6,1018.4 1035.5,1023C1048.5,1027.7 1066.6,1040.1 1082.1,1043.2C1097.6,1046.3 1113.2,1043.7 1128.7,1041.7C1144.2,1039.6 1165.4,1032.1 1175.3,1030.8C1185.1,1029.5 1186.1,1031.3 1187.7,1033.9C1189.3,1036.5 1184.1,1040.9 1184.6,1046.3C1185.1,1051.8 1193.7,1060.8 1190.8,1066.5C1188,1072.2 1175.3,1076.9 1167.5,1080.5C1159.8,1084.1 1152.2,1085.7 1144.2,1088.3C1136.2,1090.8 1129.7,1095.8 1119.4,1096C1109,1096.3 1093.5,1093.4 1082.1,1089.8C1070.7,1086.2 1059.3,1082.8 1051.1,1074.3C1042.8,1065.7 1040.2,1048.4 1032.4,1038.6C1024.7,1028.7 1004,1017.9 1004.5,1015.3Z"/></clipPath><g clip-path="url(#pc18)"><use href="#pp18" fill="#973bc0"/><use href="#pp18" fill="none" stroke="#aa4ad8" stroke-width="10.5"/></g><use href="#pp18" fill="none" stroke="#36104c" stroke-width="4.2" stroke-linejoin="round"/>
<clipPath id="pc19"><path id="pp19" d="M1004.5,1038.6C1009.1,1019.2 1024.7,1032.6 1032.4,1038.6C1040.2,1044.5 1042.8,1065.7 1051.1,1074.3C1059.3,1082.8 1070.7,1086.2 1082.1,1089.8C1093.5,1093.4 1111.6,1094 1119.4,1096C1127.1,1098.1 1128.7,1097.8 1128.7,1102.2C1128.7,1106.6 1118.3,1117.5 1119.4,1122.4C1120.4,1127.3 1131.8,1126.3 1134.9,1131.7C1138,1137.2 1159.8,1151.1 1138,1155C1116.3,1158.9 1026.7,1174.4 1004.5,1155C982.2,1135.6 999.8,1058 1004.5,1038.6Z"/></clipPath><g clip-path="url(#pc19)"><use href="#pp19" fill="#973bc0"/><use href="#pp19" fill="none" stroke="#aa4ad8" stroke-width="10.5"/></g><use href="#pp19" fill="none" stroke="#36104c" stroke-width="4.2" stroke-linejoin="round"/>
<clipPath id="pc20"><path id="pp20" d="M1233,925.2C1234.3,916.4 1248.6,910.2 1257.9,906.6C1267.2,903 1277,907.9 1288.9,903.5C1300.8,899.1 1317.7,884.8 1329.3,880.2C1341,875.5 1349.5,875.3 1358.8,875.5C1368.1,875.8 1379.8,876.6 1385.2,881.7C1390.7,886.9 1390.1,897.3 1391.4,906.6C1392.7,915.9 1393.2,928.6 1393,937.6C1392.7,946.7 1391.7,955.2 1389.9,960.9C1388.1,966.6 1386,972.1 1382.1,971.8C1378.2,971.5 1371.8,963.5 1366.6,959.4C1361.4,955.2 1357.3,950.6 1351.1,947C1344.8,943.3 1337.1,939.7 1329.3,937.6C1321.6,935.6 1313.8,933 1304.5,934.5C1295.2,936.1 1282.5,942.8 1273.4,947C1264.4,951.1 1256.9,963 1250.1,959.4C1243.4,955.8 1231.7,934 1233,925.2Z"/></clipPath><g clip-path="url(#pc20)"><use href="#pp20" fill="#973bc0"/><use href="#pp20" fill="none" stroke="#aa4ad8" stroke-width="10.5"/></g><use href="#pp20" fill="none" stroke="#36104c" stroke-width="4.2" stroke-linejoin="round"/>
<clipPath id="pc21"><path id="pp21" d="M1393,937.6C1393.5,929.9 1393.8,925.2 1397.6,922.1C1401.5,919 1408.5,918.5 1416.3,919C1424,919.5 1437,922.9 1444.2,925.2C1451.5,927.5 1454.6,929.4 1459.8,933C1464.9,936.6 1475.3,943.6 1475.3,947C1475.3,950.3 1464.9,950.8 1459.8,953.2C1454.6,955.5 1450.7,958.3 1444.2,960.9C1437.8,963.5 1427.1,966.9 1420.9,968.7C1414.7,970.5 1411.4,971.8 1407,971.8C1402.6,971.8 1396.9,974.4 1394.5,968.7C1392.2,963 1392.5,945.4 1393,937.6Z"/></clipPath><g clip-path="url(#pc21)"><use href="#pp21" fill="#973bc0"/><use href="#pp21" fill="none" stroke="#aa4ad8" stroke-width="10.5"/></g><use href="#pp21" fill="none" stroke="#36104c" stroke-width="4.2" stroke-linejoin="round"/>
<clipPath id="pc22"><path id="pp22" d="M1413.2,971.8C1418.9,965.3 1433.9,965.1 1444.2,960.9C1454.6,956.8 1463.6,947.7 1475.3,947C1486.9,946.2 1506.9,951.4 1514.1,956.3C1521.3,961.2 1521.3,971.3 1518.8,976.5C1516.2,981.6 1503.2,983.4 1498.6,987.3C1493.9,991.2 1494.7,995.1 1490.8,999.8C1486.9,1004.4 1480.5,1011.4 1475.3,1015.3C1470.1,1019.2 1467.5,1023.6 1459.8,1023C1452,1022.5 1437,1016.1 1428.7,1012.2C1420.4,1008.3 1412.7,1006.5 1410.1,999.8C1407.5,993 1407.5,978.3 1413.2,971.8Z"/></clipPath><g clip-path="url(#pc22)"><use href="#pp22" fill="#973bc0"/><use href="#pp22" fill="none" stroke="#aa4ad8" stroke-width="10.5"/></g><use href="#pp22" fill="none" stroke="#36104c" stroke-width="4.2" stroke-linejoin="round"/>
<clipPath id="pc23"><path id="pp23" d="M1407,1015.3C1409,1010.9 1419.9,1010.9 1428.7,1012.2C1437.5,1013.5 1452,1019.9 1459.8,1023C1467.5,1026.1 1474,1026.9 1475.3,1030.8C1476.6,1034.7 1472.7,1042.5 1467.5,1046.3C1462.3,1050.2 1450.7,1053.3 1444.2,1054.1C1437.8,1054.9 1433.4,1053.6 1428.7,1051C1424,1048.4 1419.9,1044.5 1416.3,1038.6C1412.7,1032.6 1404.9,1019.7 1407,1015.3Z"/></clipPath><g clip-path="url(#pc23)"><use href="#pp23" fill="#973bc0"/><use href="#pp23" fill="none" stroke="#aa4ad8" stroke-width="10.5"/></g><use href="#pp23" fill="none" stroke="#36104c" stroke-width="4.2" stroke-linejoin="round"/>
<clipPath id="pc24"><path id="pp24" d="M1382.1,1015.3C1389.6,1011.4 1398.2,1010.1 1403.9,1015.3C1409.5,1020.5 1415.8,1039.6 1416.3,1046.3C1416.8,1053.1 1407.5,1050.5 1407,1055.7C1406.4,1060.8 1413.2,1068.6 1413.2,1077.4C1413.2,1086.2 1410.8,1099.4 1407,1108.4C1403.1,1117.5 1394.5,1124 1389.9,1131.7C1385.2,1139.5 1388.1,1151.1 1379,1155C1369.9,1158.9 1343.8,1161.5 1335.5,1155C1327.2,1148.6 1331.4,1127.9 1329.3,1116.2C1327.2,1104.6 1322.1,1094.2 1323.1,1085.2C1324.1,1076.1 1329.6,1069.6 1335.5,1061.9C1341.5,1054.1 1351.1,1046.3 1358.8,1038.6C1366.6,1030.8 1374.6,1019.2 1382.1,1015.3Z"/></clipPath><g clip-path="url(#pc24)"><use href="#pp24" fill="#973bc0"/><use href="#pp24" fill="none" stroke="#aa4ad8" stroke-width="10.5"/></g><use href="#pp24" fill="none" stroke="#36104c" stroke-width="4.2" stroke-linejoin="round"/>
<clipPath id="pc25"><path id="pp25" d="M1245.5,959.4C1249.3,954.2 1263.6,951.1 1273.4,947C1283.3,942.8 1295.2,936.1 1304.5,934.5C1313.8,933 1321.6,934.5 1329.3,937.6C1337.1,940.7 1342.8,946.4 1351.1,953.2C1359.3,959.9 1373.8,970.2 1379,978C1384.2,985.8 1384.2,994.8 1382.1,999.8C1380,1004.7 1373.1,1006.2 1366.6,1007.5C1360.1,1008.8 1351.1,1006.7 1343.3,1007.5C1335.5,1008.3 1329.1,1010.9 1320,1012.2C1310.9,1013.5 1298,1017.3 1288.9,1015.3C1279.9,1013.2 1272.1,1006 1265.7,999.8C1259.2,993.5 1253.5,984.7 1250.1,978C1246.8,971.3 1241.6,964.6 1245.5,959.4Z"/></clipPath><g clip-path="url(#pc25)"><use href="#pp25" fill="#973bc0"/><use href="#pp25" fill="none" stroke="#aa4ad8" stroke-width="10.5"/></g><use href="#pp25" fill="none" stroke="#36104c" stroke-width="4.2" stroke-linejoin="round"/>
<clipPath id="pc26"><path id="pp26" d="M1288.9,1015.3C1295.4,1010.1 1310.9,1016.3 1320,1015.3C1329.1,1014.2 1334.2,1010.1 1343.3,1009.1C1352.3,1008 1367.9,1008 1374.3,1009.1C1380.8,1010.1 1384.7,1010.4 1382.1,1015.3C1379.5,1020.2 1366.6,1030.8 1358.8,1038.6C1351.1,1046.3 1341.5,1054.1 1335.5,1061.9C1329.6,1069.6 1328.3,1082.6 1323.1,1085.2C1317.9,1087.7 1311.5,1083.9 1304.5,1077.4C1297.5,1070.9 1283.8,1056.7 1281.2,1046.3C1278.6,1036 1282.5,1020.5 1288.9,1015.3Z"/></clipPath><g clip-path="url(#pc26)"><use href="#pp26" fill="#973bc0"/><use href="#pp26" fill="none" stroke="#aa4ad8" stroke-width="10.5"/></g><use href="#pp26" fill="none" stroke="#36104c" stroke-width="4.2" stroke-linejoin="round"/>
<clipPath id="pc27"><path id="pp27" d="M1571.6,953.2C1574.7,944.1 1579.3,941.8 1584,937.6C1588.6,933.5 1593.5,930.1 1599.5,928.3C1605.5,926.5 1612.2,926.8 1620,926.8C1627.8,926.8 1639.2,923.9 1646.1,928.3C1653,932.7 1661.6,943.9 1661.6,953.2C1661.6,962.5 1653,974.4 1646.1,984.2C1639.2,994.1 1627.8,1007 1620,1012.2C1612.2,1017.3 1606,1015.8 1599.5,1015.3C1593,1014.8 1586.6,1013 1580.9,1009.1C1575.2,1005.2 1566.9,1001.3 1565.3,992C1563.8,982.7 1568.4,962.2 1571.6,953.2Z"/></clipPath><g clip-path="url(#pc27)"><use href="#pp27" fill="#973bc0"/><use href="#pp27" fill="none" stroke="#aa4ad8" stroke-width="10.5"/></g><use href="#pp27" fill="none" stroke="#36104c" stroke-width="4.2" stroke-linejoin="round"/>
<clipPath id="pc28"><path id="pp28" d="M1620,875.5C1628.2,867 1661.1,866.7 1669.4,875.5C1677.6,884.3 1673.3,919.5 1669.4,928.3C1665.5,937.1 1654.3,928.6 1646.1,928.3C1637.9,928.1 1624.3,935.6 1620,926.8C1615.7,918 1611.8,884.1 1620,875.5Z"/></clipPath><g clip-path="url(#pc28)"><use href="#pp28" fill="#973bc0"/><use href="#pp28" fill="none" stroke="#aa4ad8" stroke-width="10.5"/></g><use href="#pp28" fill="none" stroke="#36104c" stroke-width="4.2" stroke-linejoin="round"/>
<clipPath id="pc29"><path id="pp29" d="M1620,1012.2C1623.9,1004.4 1637.9,991.5 1646.1,984.2C1654.3,977 1665.5,960.9 1669.4,968.7C1673.3,976.5 1673.3,1017.9 1669.4,1030.8C1665.5,1043.7 1653.9,1046.3 1646.1,1046.3C1638.3,1046.3 1627.1,1036.5 1622.8,1030.8C1618.4,1025.1 1616.1,1019.9 1620,1012.2Z"/></clipPath><g clip-path="url(#pc29)"><use href="#pp29" fill="#973bc0"/><use href="#pp29" fill="none" stroke="#aa4ad8" stroke-width="10.5"/></g><use href="#pp29" fill="none" stroke="#36104c" stroke-width="4.2" stroke-linejoin="round"/>
<path d="M458.8,891.1C462.7,890.3 475.1,887.7 482.1,886.4C489.1,885.1 497.6,883.8 500.7,883.3" fill="none" stroke="#36104c" stroke-width="3.6" stroke-linecap="round" stroke-linejoin="round"/>
<path d="M513.2,888C512.9,891.8 511.6,903.5 511.6,911.2C511.6,919 512.9,930.7 513.2,934.5" fill="none" stroke="#36104c" stroke-width="4.6" stroke-linecap="round" stroke-linejoin="round"/>
<path d="M528.7,891.1C528.4,893.6 527.1,900.9 527.1,906.6C527.1,912.3 530,918.5 528.7,925.2C527.4,931.9 520.9,943.3 519.4,947" fill="none" stroke="#36104c" stroke-width="3.6" stroke-linecap="round" stroke-linejoin="round"/>
<path d="M538,884.8C539.8,889.2 548.9,904.5 548.9,911.2C548.9,918 539.8,922.9 538,925.2" fill="none" stroke="#36104c" stroke-width="3.6" stroke-linecap="round" stroke-linejoin="round"/>
<path d="M531.8,940.7C529.7,943.9 522,953.2 519.4,959.4C516.8,965.6 516.8,974.9 516.3,978" fill="none" stroke="#36104c" stroke-width="3.6" stroke-linecap="round" stroke-linejoin="round"/>
<path d="M604.8,987.3C605.8,991.5 608.1,1004.9 611,1012.2C613.8,1019.4 620.1,1027.7 621.9,1030.8" fill="none" stroke="#36104c" stroke-width="4.8" stroke-linecap="round" stroke-linejoin="round"/>
<path d="M584.6,1038.6C586.9,1040.6 593.7,1047.9 598.6,1051C603.5,1054.1 611.5,1056.2 614.1,1057.2" fill="none" stroke="#36104c" stroke-width="4.8" stroke-linecap="round" stroke-linejoin="round"/>
<path d="M578.4,1075.8C581.2,1075.3 589.5,1074.3 595.5,1072.7C601.4,1071.2 611,1067.6 614.1,1066.5" fill="none" stroke="#36104c" stroke-width="4.8" stroke-linecap="round" stroke-linejoin="round"/>
<path d="M576.8,1092.9C579.9,1092.1 588,1090.8 595.5,1088.3C603,1085.7 617.5,1079.2 621.9,1077.4" fill="none" stroke="#36104c" stroke-width="4.8" stroke-linecap="round" stroke-linejoin="round"/>
<path d="M637.4,1066.5C641.3,1063.2 652.9,1054.9 660.7,1046.3C668.4,1037.8 678,1024.3 684,1015.3C689.9,1006.2 694.3,995.9 696.4,992" fill="none" stroke="#36104c" stroke-width="4.8" stroke-linecap="round" stroke-linejoin="round"/>
<path d="M637.4,1066.5C643.9,1061.9 663.8,1045.8 676.2,1038.6C688.6,1031.3 706,1025.6 711.9,1023" fill="none" stroke="#36104c" stroke-width="4.8" stroke-linecap="round" stroke-linejoin="round"/>
<path d="M637.4,1066.5C645.2,1065.2 670.2,1061.3 684,1058.8C697.7,1056.2 714,1052.3 720,1051" fill="none" stroke="#36104c" stroke-width="4.8" stroke-linecap="round" stroke-linejoin="round"/>
<path d="M637.4,1066.5C643.9,1068.9 664.6,1076.1 676.2,1080.5C687.9,1084.9 702.1,1090.8 707.3,1092.9" fill="none" stroke="#36104c" stroke-width="4.8" stroke-linecap="round" stroke-linejoin="round"/>
<path d="M637.4,1066.5C640,1072.2 648.8,1089.8 652.9,1100.7C657.1,1111.6 660.7,1126.6 662.2,1131.7" fill="none" stroke="#36104c" stroke-width="4.8" stroke-linecap="round" stroke-linejoin="round"/>
<path d="M634.3,1074.3C632.2,1080 626.5,1098.1 621.9,1108.4C617.2,1118.8 608.9,1131.7 606.3,1136.4" fill="none" stroke="#36104c" stroke-width="4.8" stroke-linecap="round" stroke-linejoin="round"/>
<path d="M637.4,1066.5C636.9,1060.6 635.6,1041.9 634.3,1030.8C633,1019.7 630.4,1004.9 629.6,999.8" fill="none" stroke="#36104c" stroke-width="4.8" stroke-linecap="round" stroke-linejoin="round"/>
<circle cx="637.4" cy="1066.5" r="9" fill="#571d72"/>
<path d="M690,990.6C694.3,990.1 708.8,988 715.9,988C723,988 729.9,990.1 732.7,990.6" fill="none" stroke="#36104c" stroke-width="4.0" stroke-linecap="round" stroke-linejoin="round"/>
<path d="M787,1012.5C783.8,1013.2 774.1,1013.2 767.6,1016.4C761.2,1019.7 754.7,1027 748.2,1032C741.7,1036.9 735.3,1042.9 728.8,1046.2C722.3,1049.4 715.9,1050.3 709.4,1051.4C702.9,1052.4 693.2,1052.4 690,1052.7" fill="none" stroke="#36104c" stroke-width="4.0" stroke-linecap="round" stroke-linejoin="round"/>
<path d="M772.8,1035.8C771.1,1036.3 762.9,1036.7 762.4,1038.4C762,1040.1 771.3,1043.4 770.2,1046.2C769.1,1049 758.3,1053.7 756,1055.2" fill="none" stroke="#36104c" stroke-width="4.0" stroke-linecap="round" stroke-linejoin="round"/>
<path d="M690,1072.1C694.3,1073.1 708.8,1077 715.9,1078.5C723,1080 729.9,1080.7 732.7,1081.1" fill="none" stroke="#36104c" stroke-width="4.0" stroke-linecap="round" stroke-linejoin="round"/>
<path d="M701.6,1114.7C703.2,1116.5 706.2,1122.3 710.7,1125.1C715.2,1127.9 725.8,1130.5 728.8,1131.6" fill="none" stroke="#36104c" stroke-width="4.6" stroke-linecap="round" stroke-linejoin="round"/>
<path d="M705.5,1061.7C706.6,1062.2 710.1,1064.5 712,1064.9C713.9,1065.4 716.3,1064.4 717.2,1064.3" fill="none" stroke="#ead3f3" stroke-width="4" stroke-linecap="round" stroke-linejoin="round"/>
<path d="M991.7,1015.3C985.3,1011.4 965.9,997.4 952.9,992C940,986.6 923.9,984.2 914.1,982.7C904.3,981.1 897.3,982.7 893.9,982.7" fill="none" stroke="#36104c" stroke-width="9.6" stroke-linecap="round" stroke-linejoin="round"/>
<path d="M991.7,1015.3C982.7,1013.5 955.5,1007 937.4,1004.4C919.3,1001.8 892.1,1000.5 883,999.8" fill="none" stroke="#36104c" stroke-width="9.6" stroke-linecap="round" stroke-linejoin="round"/>
<path d="M991.7,1015.3C986.8,1007.5 971.3,980.1 962.2,968.7C953.2,957.3 943.1,952.1 937.4,947C931.7,941.8 929.6,939.2 928.1,937.6" fill="none" stroke="#36104c" stroke-width="8.6" stroke-linecap="round" stroke-linejoin="round"/>
<path d="M991.7,1015.3C988.9,1007.5 979.1,981.1 974.7,968.7C970.3,956.3 966.9,945.4 965.3,940.7" fill="none" stroke="#36104c" stroke-width="6.6" stroke-linecap="round" stroke-linejoin="round"/>
<path d="M991.7,1015.3C985.3,1020.5 965.9,1037.8 952.9,1046.3C940,1054.9 925.7,1060.1 914.1,1066.5C902.5,1073 888.2,1082 883,1085.2" fill="none" stroke="#36104c" stroke-width="6.6" stroke-linecap="round" stroke-linejoin="round"/>
<path d="M991.7,1015.3C986.8,1023 971.3,1048.9 962.2,1061.9C953.2,1074.8 945.9,1084.6 937.4,1092.9C928.9,1101.2 915.4,1108.4 911,1111.6" fill="none" stroke="#36104c" stroke-width="7.6" stroke-linecap="round" stroke-linejoin="round"/>
<path d="M991.7,1015.3C987.9,1024.3 974.9,1054.1 968.4,1069.6C962,1085.2 955.5,1102 952.9,1108.4" fill="none" stroke="#36104c" stroke-width="6.6" stroke-linecap="round" stroke-linejoin="round"/>
<path d="M991.7,1015.3C985.3,1016.6 972.3,1019.2 952.9,1023C933.5,1026.9 888.2,1036 875.3,1038.6" fill="none" stroke="#36104c" stroke-width="14.6" stroke-linecap="round" stroke-linejoin="round"/>
<path d="M1085.2,895.7C1082.1,902.2 1072.8,924.4 1066.6,934.5C1060.4,944.6 1051.1,952.7 1048,956.3" fill="none" stroke="#36104c" stroke-width="5.6" stroke-linecap="round" stroke-linejoin="round"/>
<path d="M1029.3,998.2C1035.5,998.5 1052.9,999.2 1066.6,999.8C1080.3,1000.3 1104.1,1001 1111.6,1001.3" fill="none" stroke="#36104c" stroke-width="7.6" stroke-linecap="round" stroke-linejoin="round"/>
<path d="M1055.7,974.9C1062.7,972.6 1082.9,963 1097.6,960.9C1112.4,958.9 1132.8,959.1 1144.2,962.5C1155.6,965.8 1162.3,978 1166,981.1" fill="none" stroke="#36104c" stroke-width="6.6" stroke-linecap="round" stroke-linejoin="round"/>
<path d="M1029.3,1069.6C1031.6,1074.8 1038.6,1091.6 1043.3,1100.7C1048,1109.7 1054.9,1120.1 1057.3,1124" fill="none" stroke="#36104c" stroke-width="4.6" stroke-linecap="round" stroke-linejoin="round"/>
<path d="M1169.1,1057.2 L1175.3,1060.3" fill="none" stroke="#36104c" stroke-width="4.6" stroke-linecap="round" stroke-linejoin="round"/>
<path d="M1394.5,988.9C1389.9,984.2 1377.7,967.1 1366.6,960.9C1355.5,954.7 1334.2,953.2 1327.8,951.6" fill="none" stroke="#36104c" stroke-width="4.8" stroke-linecap="round" stroke-linejoin="round"/>
<path d="M1394.5,988.9C1388.6,988.1 1371.2,985 1358.8,984.2C1346.4,983.4 1326.5,984.2 1320,984.2" fill="none" stroke="#36104c" stroke-width="4.8" stroke-linecap="round" stroke-linejoin="round"/>
<path d="M1394.5,988.9C1387.3,992 1362.2,1002.6 1351.1,1007.5C1339.9,1012.4 1331.6,1016.6 1327.8,1018.4" fill="none" stroke="#36104c" stroke-width="4.8" stroke-linecap="round" stroke-linejoin="round"/>
<path d="M1394.5,988.9C1390.7,994.6 1377.2,1014.2 1371.2,1023C1365.3,1031.8 1360.9,1038.6 1358.8,1041.7" fill="none" stroke="#36104c" stroke-width="4.8" stroke-linecap="round" stroke-linejoin="round"/>
<path d="M1394.5,988.9C1393,994.6 1385.2,1011.4 1385.2,1023C1385.2,1034.7 1393,1052.8 1394.5,1058.8" fill="none" stroke="#36104c" stroke-width="4.8" stroke-linecap="round" stroke-linejoin="round"/>
<path d="M1394.5,988.9C1400.2,992.8 1417.8,1007.8 1428.7,1012.2C1439.6,1016.6 1454.6,1014.8 1459.8,1015.3" fill="none" stroke="#36104c" stroke-width="4.8" stroke-linecap="round" stroke-linejoin="round"/>
<path d="M1394.5,988.9C1401.5,989.4 1426.1,990.2 1436.5,992C1446.8,993.8 1453.3,998.5 1456.6,999.8" fill="none" stroke="#36104c" stroke-width="4.8" stroke-linecap="round" stroke-linejoin="round"/>
<path d="M1394.5,988.9C1400.2,985.5 1419.1,972.6 1428.7,968.7C1438.3,964.8 1448.1,966.1 1452,965.6" fill="none" stroke="#36104c" stroke-width="4.8" stroke-linecap="round" stroke-linejoin="round"/>
<path d="M1394.5,988.9C1398.2,981.9 1410.6,956 1416.3,947C1422,937.9 1426.6,936.6 1428.7,934.5" fill="none" stroke="#36104c" stroke-width="4.8" stroke-linecap="round" stroke-linejoin="round"/>
<path d="M1394.5,988.9C1391.9,982.9 1382.9,968.7 1379,953.2C1375.1,937.6 1372.5,905.3 1371.2,895.7" fill="none" stroke="#36104c" stroke-width="4.8" stroke-linecap="round" stroke-linejoin="round"/>
<path d="M1394.5,988.9C1387.3,980.9 1360.9,951.4 1351.1,940.7C1341.2,930.1 1338.1,927.8 1335.5,925.2" fill="none" stroke="#36104c" stroke-width="4.8" stroke-linecap="round" stroke-linejoin="round"/>
<circle cx="1394.5" cy="988.9" r="11" fill="#571d72"/>
<circle cx="1394.5" cy="988.9" r="5" fill="#973bc0"/>
<path d="M1587.1,956.3C1589.2,954.7 1594,949 1599.5,947C1605,944.9 1616.6,944.4 1620,943.9" fill="none" stroke="#36104c" stroke-width="3.6" stroke-linecap="round" stroke-linejoin="round"/>
<path d="M1576.2,999.8C1580.1,997.2 1592.2,987.8 1599.5,984.2C1606.8,980.6 1616.6,979 1620,978" fill="none" stroke="#36104c" stroke-width="3.6" stroke-linecap="round" stroke-linejoin="round"/>
<path d="M1599.5,999.8C1601.3,999.5 1607,999 1610.4,998.2C1613.8,997.4 1618.4,995.6 1620,995.1" fill="none" stroke="#36104c" stroke-width="4.6" stroke-linecap="round" stroke-linejoin="round"/>
<path d="M488.3,906.6C486.8,908.4 482.1,914.6 479,917.5C475.9,920.3 471.2,922.6 469.7,923.7" fill="none" stroke="#d9b3ee" stroke-width="3" stroke-linecap="round" stroke-linejoin="round"/>
<path d="M531.8,897.3C533.1,899.6 537.8,903 539.6,911.2C541.4,919.5 542.2,941 542.7,947" fill="none" stroke="#ead3f3" stroke-width="4" stroke-linecap="round" stroke-linejoin="round"/>
<path d="M634.3,971.8C635.6,976.5 640.5,989.9 642,999.8C643.6,1009.6 643.3,1025.6 643.6,1030.8" fill="none" stroke="#ead3f3" stroke-width="5" stroke-linecap="round" stroke-linejoin="round"/>
<path d="M668.4,1108.4C671,1111.6 678,1122.4 684,1127.1C689.9,1131.7 700.8,1134.8 704.2,1136.4" fill="none" stroke="#ead3f3" stroke-width="4" stroke-linecap="round" stroke-linejoin="round"/>
<path d="M1040.2,880.2C1039.4,884.6 1037.3,897.5 1035.5,906.6C1033.7,915.6 1030.4,929.9 1029.3,934.5" fill="none" stroke="#dbb6ee" stroke-width="7" stroke-linecap="round" stroke-linejoin="round"/>
<path d="M1071.2,1052.5C1074.3,1054.1 1082.9,1059.5 1089.9,1061.9C1096.9,1064.2 1104.9,1066.3 1113.2,1066.5C1121.4,1066.8 1135.2,1063.9 1139.6,1063.4" fill="none" stroke="#ead3f3" stroke-width="4" stroke-linecap="round" stroke-linejoin="round"/>
<path d="M1291.7,981.1C1294.3,982.4 1302.6,987.1 1307.3,988.9C1312,990.7 1317.9,991.5 1320,992" fill="none" stroke="#ead3f3" stroke-width="4" stroke-linecap="round" stroke-linejoin="round"/>
<path d="M1394.5,925.2C1394.3,927.8 1392.7,935.1 1393,940.7C1393.2,946.4 1395.6,956.3 1396.1,959.4" fill="none" stroke="#dbb6ee" stroke-width="5" stroke-linecap="round" stroke-linejoin="round"/>
<path d="M1405.4,897.3 L1400.7,911.2" fill="none" stroke="#dbb6ee" stroke-width="4" stroke-linecap="round" stroke-linejoin="round"/>
<path d="M1323.1,1080.5C1326.5,1078.2 1336,1070.9 1343.3,1066.5C1350.5,1062.1 1361.4,1060.1 1366.6,1054.1C1371.8,1048.1 1373.1,1034.7 1374.3,1030.8" fill="none" stroke="#ead3f3" stroke-width="4" stroke-linecap="round" stroke-linejoin="round"/>
<path d="M1323.1,992 L1332.4,990.4" fill="none" stroke="#ead3f3" stroke-width="4" stroke-linecap="round" stroke-linejoin="round"/>
<path d="M952.9,1046.3 L948.3,1055.7" fill="none" stroke="#dbb6ee" stroke-width="5" stroke-linecap="round" stroke-linejoin="round"/>
<path d="M850.4,1116.2 L852,1130.2" fill="none" stroke="#dbb6ee" stroke-width="4" stroke-linecap="round" stroke-linejoin="round"/>
<path d="M1623.1,898.8 L1648,917.5" fill="none" stroke="#ead3f3" stroke-width="4" stroke-linecap="round" stroke-linejoin="round"/>
<path d="M1620,992 L1643.3,971.8" fill="none" stroke="#ead3f3" stroke-width="4" stroke-linecap="round" stroke-linejoin="round"/>
<path d="M476.9,1044.5C500.2,1048 515.5,1024.9 497.6,999.8C466.4,1002.2 458.9,1028.9 476.9,1044.5Z" fill="#eeedf0" stroke="#45106b" stroke-width="2.6" stroke-linejoin="miter"/>
<path d="M471,1045.4C478.9,1029.9 463.1,1006.9 438.6,1007.5C433.7,1032.2 454.1,1051.1 471,1045.4Z" fill="#eeedf0" stroke="#45106b" stroke-width="2.6" stroke-linejoin="miter"/>
<path d="M479.2,1050.6C481.6,1063.9 503.4,1071.6 519.4,1060.3C510.3,1043 487.4,1039.9 479.2,1050.6Z" fill="#eeedf0" stroke="#45106b" stroke-width="2.6" stroke-linejoin="miter"/>
<path d="M470.9,1052.6C455.4,1043 434.5,1055.9 437.1,1080.5C460.7,1087.7 477.4,1069.7 470.9,1052.6Z" fill="#eeedf0" stroke="#45106b" stroke-width="2.6" stroke-linejoin="miter"/>
<path d="M475.6,1054.9C453,1063.2 450.9,1090.7 479,1103.8C507.1,1086.3 500.2,1059.5 475.6,1054.9Z" fill="#eeedf0" stroke="#45106b" stroke-width="2.6" stroke-linejoin="miter"/>
<circle cx="475.9" cy="1051.0" r="5" fill="#b77fd6"/>
<path d="M477.6,1044.6 L481,1031.4" fill="none" stroke="#7a2fa3" stroke-width="2.2" stroke-linecap="round" stroke-linejoin="round"/>
<path d="M471.4,1045.4 L462.2,1033.9" fill="none" stroke="#7a2fa3" stroke-width="2.2" stroke-linecap="round" stroke-linejoin="round"/>
<path d="M481.5,1052.1 L493,1054.4" fill="none" stroke="#7a2fa3" stroke-width="2.2" stroke-linecap="round" stroke-linejoin="round"/>
<path d="M471.1,1054.9 L461.4,1063" fill="none" stroke="#7a2fa3" stroke-width="2.2" stroke-linecap="round" stroke-linejoin="round"/>
<path d="M477,1058 L479.3,1072.3" fill="none" stroke="#7a2fa3" stroke-width="2.2" stroke-linecap="round" stroke-linejoin="round"/>
<path d="M426.2,922.1C430.4,915.9 444.3,920 451.1,922.1C457.8,924.2 463.2,930.4 466.6,934.5C469.9,938.7 472.5,943.9 471.2,947C469.9,950.1 463.5,951.9 458.8,953.2C454.2,954.5 448.7,953.7 443.3,954.7C437.9,955.8 429.1,964.8 426.2,959.4C423.4,953.9 422.1,928.3 426.2,922.1Z" fill="#cf97df" stroke="#4a1772" stroke-width="2.2" stroke-linejoin="round"/>
<path d="M426.2,960.9C430.4,957 443.6,955.5 451.1,954.7C458.6,953.9 466.8,954.5 471.2,956.3C475.6,958.1 478.2,962.5 477.5,965.6C476.7,968.7 472.3,972.3 466.6,974.9C460.9,977.5 450,980.6 443.3,981.1C436.6,981.6 429.1,981.4 426.2,978C423.4,974.6 422.1,964.8 426.2,960.9Z" fill="#cf97df" stroke="#4a1772" stroke-width="2.2" stroke-linejoin="round"/>
<path d="M443.3,964C442,962.7 448.5,957.6 451.1,957.8C453.6,958.1 460.1,964.6 458.8,965.6C457.5,966.6 444.6,965.3 443.3,964Z" fill="#eeedf0" stroke="#4a1772" stroke-width="1.5" stroke-linejoin="round"/>
<path d="M589.3,889.5C590.5,887.7 597,888.5 606.3,886.4C615.7,884.3 634.8,878.1 645.2,877.1C655.5,876 665.6,877.9 668.4,880.2C671.3,882.5 667.4,888 662.2,891.1C657.1,894.2 645.4,897 637.4,898.8C629.4,900.6 620.6,902.2 614.1,901.9C607.6,901.7 602.7,899.3 598.6,897.3C594.4,895.2 588,891.3 589.3,889.5Z" fill="#eeedf0" stroke="#4a1772" stroke-width="2.2" stroke-linejoin="round"/>
<path d="M657.6,898.8C659.1,894.9 662.8,892.1 668.4,891.1C674.1,890 685.8,890 691.7,892.6C697.7,895.2 702.9,900.6 704.2,906.6C705.5,912.5 702.9,921.6 699.5,928.3C696.1,935.1 688.1,943.3 684,947C679.8,950.6 677.8,952.9 674.7,950.1C671.6,947.2 667.9,935.8 665.3,929.9C662.8,923.9 660.4,919.5 659.1,914.3C657.8,909.2 656,902.7 657.6,898.8Z" fill="#eeedf0" stroke="#4a1772" stroke-width="2.2" stroke-linejoin="round"/>
<path d="M676.2,880.2C677.5,878.1 689.2,875.8 699.5,875.5C709.9,875.3 730.6,876 738.3,878.6C746.1,881.2 745.3,887.2 746.1,891.1C746.9,894.9 746,899.9 743,901.9C739.9,904 733.7,904.8 727.8,903.5C721.8,902.2 713.3,896.7 707.3,894.2C701.3,891.6 696.9,890.3 691.7,888C686.6,885.6 674.9,882.3 676.2,880.2Z" fill="#eeedf0" stroke="#4a1772" stroke-width="2.2" stroke-linejoin="round"/>
<path d="M780.8,931.3C791.3,915.5 777.6,890.2 751.1,889.5C743.2,914.6 762.4,935.9 780.8,931.3Z" fill="#cf97df" stroke="#45106b" stroke-width="2.4" stroke-linejoin="miter"/>
<path d="M786.7,932.8C802.8,941.8 819.7,929.4 813.2,906.6C789,899 777,916.2 786.7,932.8Z" fill="#cf97df" stroke="#45106b" stroke-width="2.4" stroke-linejoin="miter"/>
<path d="M788.5,937.7C786.2,955.9 806.5,968.9 827.1,956.3C824.5,930.5 801.4,923.7 788.5,937.7Z" fill="#cf97df" stroke="#45106b" stroke-width="2.4" stroke-linejoin="miter"/>
<path d="M783.5,941.1C762.1,943.1 753.6,967.3 774.3,985.8C803.3,976.9 803.9,951.2 783.5,941.1Z" fill="#cf97df" stroke="#45106b" stroke-width="2.4" stroke-linejoin="miter"/>
<path d="M779.9,936.7C772.4,924.3 751.6,925.6 743.3,943.9C757.7,957 777.5,950.6 779.9,936.7Z" fill="#cf97df" stroke="#45106b" stroke-width="2.4" stroke-linejoin="miter"/>
<path d="M779.3,928.9 L773.6,917.5" fill="none" stroke="#8d3fb5" stroke-width="2.2" stroke-linecap="round" stroke-linejoin="round"/>
<path d="M785.5,930.9 L792.4,923.4" fill="none" stroke="#8d3fb5" stroke-width="2.2" stroke-linecap="round" stroke-linejoin="round"/>
<path d="M788.3,936.8 L800.9,941.4" fill="none" stroke="#8d3fb5" stroke-width="2.2" stroke-linecap="round" stroke-linejoin="round"/>
<path d="M782.7,941.2 L783.8,955" fill="none" stroke="#8d3fb5" stroke-width="2.2" stroke-linecap="round" stroke-linejoin="round"/>
<path d="M777.4,935.7 L767.6,938" fill="none" stroke="#8d3fb5" stroke-width="2.2" stroke-linecap="round" stroke-linejoin="round"/>
<path d="M807,880.2C810.6,877.9 821.2,877.1 828.7,877.1C836.2,877.1 847.3,877.9 852,880.2C856.6,882.5 859.2,887.7 856.6,891.1C854.1,894.4 843.2,898.6 836.5,900.4C829.7,902.2 821.2,903.5 816.3,901.9C811.4,900.4 808.5,894.7 807,891.1C805.4,887.4 803.3,882.5 807,880.2Z" fill="#cf97df" stroke="#4a1772" stroke-width="2.2" stroke-linejoin="round"/>
<path d="M866,877.1C869.1,875.3 882.8,878.6 890.8,880.2C898.8,881.7 907.6,884.6 914.1,886.4C920.6,888.2 929.6,889 929.6,891.1C929.6,893.1 920.6,897.5 914.1,898.8C907.6,900.1 897.8,900.1 890.8,898.8C883.8,897.5 876.3,894.7 872.2,891.1C868,887.4 862.9,878.9 866,877.1Z" fill="#cf97df" stroke="#4a1772" stroke-width="2.2" stroke-linejoin="round"/>
<path d="M841.1,901.9C843.7,898.3 851.5,891.8 856.6,891.1C861.8,890.3 868.8,893.9 872.2,897.3C875.5,900.6 877.3,906.1 876.8,911.2C876.3,916.4 871.9,923.7 869.1,928.3C866.2,933 863.1,939.7 859.8,939.2C856.4,938.7 852,929.6 848.9,925.2C845.8,920.8 842.4,916.7 841.1,912.8C839.8,908.9 838.5,905.5 841.1,901.9Z" fill="#cf97df" stroke="#4a1772" stroke-width="2.2" stroke-linejoin="round"/>
<path d="M1186.1,1016.8C1188.2,1011.4 1192.4,1012.2 1197,1013.7C1201.7,1015.3 1207.4,1020.7 1214.1,1026.1C1220.8,1031.6 1232.5,1040.6 1237.4,1046.3C1242.3,1052 1243.1,1054.6 1243.6,1060.3C1244.1,1066 1242,1074.3 1240.5,1080.5C1238.9,1086.7 1237.4,1095.5 1234.3,1097.6C1231.2,1099.6 1226.5,1096.3 1221.9,1092.9C1217.2,1089.6 1211.5,1081.8 1206.3,1077.4C1201.2,1073 1194.4,1071.7 1190.8,1066.5C1187.2,1061.3 1185.4,1054.6 1184.6,1046.3C1183.8,1038.1 1184.1,1022.3 1186.1,1016.8Z" fill="#eeedf0" stroke="#4a1772" stroke-width="2.2" stroke-linejoin="round"/>
<path d="M1195.5,1027.7C1199.1,1025.4 1207.6,1028.5 1214.1,1032.4C1220.6,1036.2 1230.4,1045.3 1234.3,1051C1238.2,1056.7 1238.7,1060.8 1237.4,1066.5C1236.1,1072.2 1230.7,1082.8 1226.5,1085.2C1222.4,1087.5 1215.1,1083.1 1212.5,1080.5C1210,1077.9 1213.3,1072.2 1211,1069.6C1208.7,1067 1201.7,1068.9 1198.6,1065C1195.5,1061.1 1192.9,1052.5 1192.4,1046.3C1191.8,1040.1 1191.8,1030 1195.5,1027.7Z" fill="#cf97df" stroke="#4a1772" stroke-width="1.8" stroke-linejoin="round"/>
<path d="M1119.4,1122.4C1118.3,1117.5 1124.6,1107.9 1128.7,1102.2C1132.8,1096.5 1137.8,1091.9 1144.2,1088.3C1150.7,1084.6 1159.8,1081.3 1167.5,1080.5C1175.3,1079.7 1183,1081 1190.8,1083.6C1198.6,1086.2 1208.1,1092.9 1214.1,1096C1220.1,1099.1 1226.5,1099.1 1226.5,1102.2C1226.5,1105.3 1220.1,1111 1214.1,1114.7C1208.1,1118.3 1199.9,1121.4 1190.8,1124C1181.7,1126.6 1169.1,1128.9 1159.8,1130.2C1150.4,1131.5 1141.6,1133 1134.9,1131.7C1128.2,1130.4 1120.4,1127.3 1119.4,1122.4Z" fill="#cf97df" stroke="#4a1772" stroke-width="2.2" stroke-linejoin="round"/>
<path d="M1237,1099C1234.8,1094.2 1238.8,1080.2 1243,1072C1247.2,1063.8 1253.5,1057 1262,1050C1270.5,1043 1282.8,1035 1294,1030C1305.2,1025 1323.5,1016.7 1329,1020C1334.5,1023.3 1329,1039.7 1327,1050C1325,1060.3 1320.5,1073.5 1317,1082C1313.5,1090.5 1312.2,1098.5 1306,1101C1299.8,1103.5 1288.3,1097 1280,1097C1271.7,1097 1263.2,1100.7 1256,1101C1248.8,1101.3 1239.2,1103.8 1237,1099Z" fill="#eeedf0" stroke="#4a1772" stroke-width="2.2" stroke-linejoin="round"/>
<path d="M1259,1070C1264,1062.7 1272.5,1055 1283,1049C1293.5,1043 1315.7,1032.8 1322,1034C1328.3,1035.2 1323.2,1046.2 1321,1056C1318.8,1065.8 1316.8,1087.5 1309,1093C1301.2,1098.5 1283.3,1089 1274,1089C1264.7,1089 1255.5,1096.2 1253,1093C1250.5,1089.8 1254,1077.3 1259,1070Z" fill="#cf97df" stroke="#4a1772" stroke-width="1.8" stroke-linejoin="round"/>
<path d="M1241,1107C1245,1103 1253.2,1101.5 1262,1101C1270.8,1100.5 1285,1100.8 1294,1104C1303,1107.2 1309.7,1113.8 1316,1120C1322.3,1126.2 1329,1135 1332,1141C1335,1147 1348.8,1153.5 1334,1156C1319.2,1158.5 1259,1161.2 1243,1156C1227,1150.8 1238.3,1133.2 1238,1125C1237.7,1116.8 1237,1111 1241,1107Z" fill="#eeedf0" stroke="#4a1772" stroke-width="2.2" stroke-linejoin="round"/>
<path d="M1183,1155C1176.1,1149.9 1192.1,1131.2 1198.6,1124C1205,1116.7 1215.9,1113.1 1221.9,1111.6C1227.8,1110 1231.2,1107.4 1234.3,1114.7C1237.4,1121.9 1249,1148.3 1240.5,1155C1232,1161.8 1190,1160.2 1183,1155Z" fill="#cf97df" stroke="#4a1772" stroke-width="2.2" stroke-linejoin="round"/>
<path d="M1136.5,1127.1C1134.9,1126 1141.4,1120.9 1144.2,1120.9C1147.1,1120.9 1154.8,1126 1153.5,1127.1C1152.2,1128.1 1138,1128.1 1136.5,1127.1Z" fill="#eeedf0" stroke="#4a1772" stroke-width="1.5" stroke-linejoin="round"/>
<circle cx="1235.8" cy="1105.3" r="6" fill="#cf97df" stroke="#4a1772" stroke-width="2"/>
<path d="M1248.3,1114.7C1254.2,1116.2 1272.8,1118.5 1284,1124C1295.1,1129.4 1309.9,1143.4 1315,1147.3" fill="none" stroke="#4a1772" stroke-width="2.4" stroke-linecap="round" stroke-linejoin="round"/>
<path d="M1252.9,1110C1259.4,1110.8 1279.8,1109.7 1291.7,1114.7C1303.6,1119.6 1318.9,1135.4 1324.3,1139.5" fill="none" stroke="#4a1772" stroke-width="2.4" stroke-linecap="round" stroke-linejoin="round"/>
<path d="M1203.2,1105.3 L1221.9,1099.1" fill="none" stroke="#4a1772" stroke-width="2.4" stroke-linecap="round" stroke-linejoin="round"/>
<path d="M1252,1116C1255.8,1118 1268.7,1122.3 1275,1128C1281.3,1133.7 1287.5,1146.3 1290,1150" fill="none" stroke="#a050c8" stroke-width="4" stroke-linecap="round" stroke-linejoin="round"/>
<path d="M1399.2,920.6C1397.9,918 1407,912 1413.2,906.6C1419.4,901.1 1427.4,892.9 1436.5,888C1445.5,883 1457.2,878.9 1467.5,877.1C1477.9,875.3 1490.8,875.3 1498.6,877.1C1506.3,878.9 1513.3,883 1514.1,888C1514.9,892.9 1509.7,901.1 1503.2,906.6C1496.8,912 1485.1,917.2 1475.3,920.6C1465.4,923.9 1453.3,926.5 1444.2,926.8C1435.2,927 1428.4,923.1 1420.9,922.1C1413.4,921.1 1400.5,923.1 1399.2,920.6Z" fill="#eeedf0" stroke="#4a1772" stroke-width="2.2" stroke-linejoin="round"/>
<path d="M1504.8,911.2C1506.6,904.3 1513.3,893.9 1518.8,891.1C1524.2,888.2 1530.1,891.6 1537.4,894.2C1544.6,896.7 1555.8,901.4 1562.2,906.6C1568.7,911.8 1574.1,918.5 1576.2,925.2C1578.3,931.9 1577,940.2 1574.7,947C1572.3,953.7 1566.4,960.2 1562.2,965.6C1558.1,971 1554.5,979 1549.8,979.6C1545.2,980.1 1539.5,973.1 1534.3,968.7C1529.1,964.3 1523.2,959.1 1518.8,953.2C1514.4,947.2 1510.2,940 1507.9,933C1505.6,926 1503,918.2 1504.8,911.2Z" fill="#cf97df" stroke="#4a1772" stroke-width="2.2" stroke-linejoin="round"/>
<path d="M1529.6,877.1C1530.9,874.9 1537.9,875.1 1552.9,874.8C1568,874.4 1607.1,873.3 1620,874.8C1632.9,876.2 1630.6,879.8 1630.6,883.3C1630.6,886.8 1625.2,893.1 1620,895.7C1614.8,898.3 1608.1,898.8 1599.5,898.8C1590.9,898.8 1577.5,897.5 1568.4,895.7C1559.4,893.9 1551.6,891.1 1545.2,888C1538.7,884.8 1528.3,879.3 1529.6,877.1Z" fill="#cf97df" stroke="#4a1772" stroke-width="2.2" stroke-linejoin="round"/>
<path d="M1599.5,877.1C1600.3,874.8 1614.8,874.8 1620,875.5C1625.2,876.3 1631.4,879.4 1630.6,881.7C1629.7,884.1 1620.2,890.3 1615,889.5C1609.9,888.7 1598.7,879.4 1599.5,877.1Z" fill="#eeedf0" stroke="#4a1772" stroke-width="1.5" stroke-linejoin="round"/>
<path d="M1413.2,911.2C1415.8,909.2 1424.6,902.4 1428.7,898.8C1432.8,895.2 1436.5,891.1 1438,889.5" fill="none" stroke="#4a1772" stroke-width="2.5" stroke-linecap="round" stroke-linejoin="round"/>
<path d="M1476.8,901.9C1479.2,900.1 1486.4,894.2 1490.8,891.1C1495.2,888 1501.2,884.6 1503.2,883.3" fill="none" stroke="#4a1772" stroke-width="3" stroke-linecap="round" stroke-linejoin="round"/>
<path d="M1438,898.8C1439.8,897.3 1445.3,892.1 1448.9,889.5C1452.5,886.9 1457.9,884.3 1459.8,883.3" fill="none" stroke="#d9b0ec" stroke-width="5" stroke-linecap="round" stroke-linejoin="round"/>
<path d="M1520.3,898.8C1520.8,894.4 1527.3,893.6 1529.6,895.7C1532,897.8 1534.8,906.8 1534.3,911.2C1533.8,915.6 1528.9,924.2 1526.5,922.1C1524.2,920 1519.8,903.2 1520.3,898.8Z" fill="#eeedf0" stroke="#4a1772" stroke-width="1.5" stroke-linejoin="round"/>
<path d="M1448.3,1088.2C1471.5,1089.9 1485.8,1064.6 1467.5,1040.1C1435.7,1045 1429.4,1073.4 1448.3,1088.2Z" fill="#cf97df" stroke="#45106b" stroke-width="2.4" stroke-linejoin="miter"/>
<path d="M1442.5,1089.8C1447.6,1075.2 1429.7,1053.5 1407,1054.1C1405.8,1077.4 1427.6,1095.3 1442.5,1089.8Z" fill="#cf97df" stroke="#45106b" stroke-width="2.4" stroke-linejoin="miter"/>
<path d="M1450.8,1093.7C1455.7,1109.6 1477,1113 1489.3,1094.5C1477.6,1075 1456.2,1077.7 1450.8,1093.7Z" fill="#cf97df" stroke="#45106b" stroke-width="2.4" stroke-linejoin="miter"/>
<path d="M1442.4,1096.6C1429.2,1087.1 1406.3,1098.3 1403.9,1120.9C1426,1129.3 1445.7,1113.1 1442.4,1096.6Z" fill="#cf97df" stroke="#45106b" stroke-width="2.4" stroke-linejoin="miter"/>
<path d="M1448,1098.4C1435.4,1109.6 1441.4,1133.7 1464.4,1139.5C1475.8,1120.3 1464.3,1098.4 1448,1098.4Z" fill="#cf97df" stroke="#45106b" stroke-width="2.4" stroke-linejoin="miter"/>
<path d="M1446.5,1086.8 L1451.1,1074.1" fill="none" stroke="#8d3fb5" stroke-width="2.2" stroke-linecap="round" stroke-linejoin="round"/>
<path d="M1440,1088.7 L1431.4,1080.1" fill="none" stroke="#8d3fb5" stroke-width="2.2" stroke-linecap="round" stroke-linejoin="round"/>
<path d="M1449.8,1092.9 L1461.3,1092.9" fill="none" stroke="#8d3fb5" stroke-width="2.2" stroke-linecap="round" stroke-linejoin="round"/>
<path d="M1439.8,1096.8 L1430.6,1104.9" fill="none" stroke="#8d3fb5" stroke-width="2.2" stroke-linecap="round" stroke-linejoin="round"/>
<path d="M1446.5,1099.1 L1451.1,1111.7" fill="none" stroke="#8d3fb5" stroke-width="2.2" stroke-linecap="round" stroke-linejoin="round"/>
<path d="M1592.7,1061.8C1584.4,1043.2 1557.6,1042.3 1545.2,1066.5C1562.4,1088.8 1588.4,1082.3 1592.7,1061.8Z" fill="#eeedf0" stroke="#45106b" stroke-width="2.6" stroke-linejoin="miter"/>
<path d="M1596,1057.2C1605.3,1045.8 1596.8,1025.4 1576.2,1023C1568.9,1041.3 1581.9,1059.2 1596,1057.2Z" fill="#eeedf0" stroke="#45106b" stroke-width="2.6" stroke-linejoin="miter"/>
<path d="M1601.5,1056.5C1623.1,1065.6 1644.9,1046.2 1635.2,1016.8C1603.7,1011.4 1588.4,1036.4 1601.5,1056.5Z" fill="#eeedf0" stroke="#45106b" stroke-width="2.6" stroke-linejoin="miter"/>
<path d="M1597.4,1066.2C1576,1068.5 1567.6,1093.1 1588.6,1111.6C1616.9,1102.2 1617.4,1076.2 1597.4,1066.2Z" fill="#eeedf0" stroke="#45106b" stroke-width="2.6" stroke-linejoin="miter"/>
<path d="M1603.1,1062C1606.3,1080.5 1631.4,1088.1 1649.2,1069.6C1638.2,1046.9 1612.1,1045.8 1603.1,1062Z" fill="#eeedf0" stroke="#45106b" stroke-width="2.6" stroke-linejoin="miter"/>
<path d="M1590.2,1061.4 L1577.6,1063.7" fill="none" stroke="#7a2fa3" stroke-width="2.2" stroke-linecap="round" stroke-linejoin="round"/>
<path d="M1594.7,1055.6 L1591.3,1045.8" fill="none" stroke="#7a2fa3" stroke-width="2.2" stroke-linecap="round" stroke-linejoin="round"/>
<path d="M1599.8,1055.6 L1606.6,1045.8" fill="none" stroke="#7a2fa3" stroke-width="2.2" stroke-linecap="round" stroke-linejoin="round"/>
<path d="M1596.7,1066.7 L1597.3,1080" fill="none" stroke="#7a2fa3" stroke-width="2.2" stroke-linecap="round" stroke-linejoin="round"/>
<path d="M1601.4,1061.4 L1611.8,1063.7" fill="none" stroke="#7a2fa3" stroke-width="2.2" stroke-linecap="round" stroke-linejoin="round"/>
</g>
<g clip-path="url(#clipB)">
<rect x="1655" y="860" width="350" height="300" fill="#973bc0"/>
<path d="M1713.2,874C1725.8,868.5 1777.3,873.7 1795.5,874C1813.6,874.2 1817.5,867 1821.9,875.5C1826.3,884.1 1826.3,914.9 1821.9,925.2C1817.5,935.6 1803.2,936.1 1795.5,937.6C1787.7,939.2 1781.2,934 1775.3,934.5C1769.3,935.1 1764.9,941.8 1759.8,940.7C1754.6,939.7 1749.4,931.4 1744.2,928.3C1739,925.2 1732.8,925.7 1728.7,922.1C1724.6,918.5 1722,914.6 1719.4,906.6C1716.8,898.6 1700.5,879.4 1713.2,874Z" fill="#571d72"/>
<path d="M1728.7,883.3C1735.4,879.4 1764.9,877.6 1775.3,880.2C1785.6,882.8 1790.8,892.3 1790.8,898.8C1790.8,905.3 1781.7,916.2 1775.3,919C1768.8,921.9 1758.7,918.5 1752,915.9C1745.3,913.3 1738.8,908.9 1734.9,903.5C1731,898 1722,887.2 1728.7,883.3Z" fill="#662584"/>
<path d="M1671.2,1057.2C1676.2,1038.1 1692.7,1045 1700.7,1040.1C1708.8,1035.2 1714.7,1026.7 1719.4,1027.7C1724,1028.7 1723.3,1040.1 1728.7,1046.3C1734.1,1052.5 1746.8,1059.3 1752,1065C1757.2,1070.7 1755.9,1077.1 1759.8,1080.5C1763.6,1083.9 1770.1,1083.1 1775.3,1085.2C1780.5,1087.2 1789.5,1087.7 1790.8,1092.9C1792.1,1098.1 1785.6,1105.9 1783,1116.2C1780.5,1126.6 1793.9,1148.6 1775.3,1155C1756.6,1161.5 1688.6,1171.3 1671.2,1155C1653.9,1138.7 1666.3,1076.4 1671.2,1057.2Z" fill="#571d72"/>
<path d="M1689.9,1092.9C1693.8,1085.7 1711.9,1077.9 1720.9,1077.4C1730,1076.9 1739,1084.1 1744.2,1089.8C1749.4,1095.5 1754.6,1105.9 1752,1111.6C1749.4,1117.2 1737.8,1122.4 1728.7,1124C1719.6,1125.5 1704.1,1126 1697.6,1120.9C1691.2,1115.7 1686,1100.2 1689.9,1092.9Z" fill="#662584"/>
<path d="M1671.2,1089.8C1669.4,1098.6 1667.4,1144.2 1671.2,1155C1675.1,1165.9 1692.2,1160.2 1694.5,1155C1696.9,1149.9 1687.3,1132.8 1685.2,1124C1683.1,1115.2 1684.4,1107.9 1682.1,1102.2C1679.8,1096.5 1673.1,1081 1671.2,1089.8Z" fill="#742c94"/>
<path d="M1869.9,934.5C1872.5,926.8 1881,914.1 1883.9,906.6C1886.7,899.1 1879.7,892.1 1887,889.5C1894.2,886.9 1918.5,892.9 1927.3,891.1C1936.1,889.2 1927.6,881.2 1939.8,878.6C1951.9,876 1987.1,876 2000,875.5C2012.9,875 2014.5,862.6 2017.4,875.5C2020.3,888.5 2022.6,938.2 2017.4,953.2C2012.2,968.2 1995.4,963.3 1986.3,965.6C1977.3,967.9 1970.3,968.2 1963,967.1C1955.8,966.1 1948,962.7 1942.9,959.4C1937.7,956 1937.7,948 1932,947C1926.3,945.9 1916.2,950.1 1908.7,953.2C1901.2,956.3 1892.9,960.4 1887,965.6C1881,970.8 1876.1,986.3 1873,984.2C1869.9,982.2 1868.8,961.4 1868.3,953.2C1867.8,944.9 1867.3,942.3 1869.9,934.5Z" fill="#571d72"/>
<path d="M1949.1,883.3C1957,876.3 1988.6,880.7 2000,880.2C2011.4,879.7 2014.5,869.1 2017.4,880.2C2020.3,891.3 2022.6,934.8 2017.4,947C2012.2,959.1 1995.4,953.2 1986.3,953.2C1977.3,953.2 1968.7,952.1 1963,947C1957.3,941.8 1954.5,932.7 1952.2,922.1C1949.8,911.5 1941.1,890.3 1949.1,883.3Z" fill="#662584"/>
<path d="M1685.2,1080.5C1688.8,1078.2 1699.2,1068.1 1707,1066.5C1714.7,1065 1724.6,1067.3 1731.8,1071.2C1739,1075.1 1747.3,1086.7 1750.4,1089.8" fill="none" stroke="#43145a" stroke-width="4" stroke-linecap="round" stroke-linejoin="round"/>
<path d="M1682.1,1111.6C1685.2,1108.4 1693,1096.5 1700.7,1092.9C1708.5,1089.3 1719.9,1088.3 1728.7,1089.8C1737.5,1091.4 1747.8,1096.5 1753.5,1102.2C1759.2,1107.9 1761.3,1120.4 1762.9,1124" fill="none" stroke="#43145a" stroke-width="5" stroke-linecap="round" stroke-linejoin="round"/>
<path d="M1707,1131.7C1710.6,1128.9 1722,1116 1728.7,1114.7C1735.4,1113.4 1744.2,1122.4 1747.3,1124" fill="none" stroke="#43145a" stroke-width="4" stroke-linecap="round" stroke-linejoin="round"/>
<path d="M1728.7,891.1C1732.6,890.3 1743.7,886.4 1752,886.4C1760.3,886.4 1771.9,887.2 1778.4,891.1C1784.9,894.9 1788.7,906.6 1790.8,909.7" fill="none" stroke="#43145a" stroke-width="4" stroke-linecap="round" stroke-linejoin="round"/>
<path d="M1738,911.2C1741.6,910.5 1753.5,905.3 1759.8,906.6C1766,907.9 1772.7,916.9 1775.3,919" fill="none" stroke="#43145a" stroke-width="4" stroke-linecap="round" stroke-linejoin="round"/>
<path d="M1893.2,911.2C1897.3,910.5 1910.2,905.8 1918,906.6C1925.8,907.4 1934.8,910.7 1939.8,915.9C1944.7,921.1 1946.2,934 1947.5,937.6" fill="none" stroke="#43145a" stroke-width="4" stroke-linecap="round" stroke-linejoin="round"/>
<path d="M1887,947C1890.6,944.9 1901.7,936.9 1908.7,934.5C1915.7,932.2 1925.5,933.2 1928.9,933" fill="none" stroke="#43145a" stroke-width="4" stroke-linecap="round" stroke-linejoin="round"/>
<path d="M1955.3,898.8C1957.9,904 1964.3,921.9 1970.8,929.9C1977.3,937.9 1990.2,944.1 1994.1,947" fill="none" stroke="#43145a" stroke-width="4" stroke-linecap="round" stroke-linejoin="round"/>
<clipPath id="pc30"><path id="pp30" d="M1666.6,874C1674.3,865.7 1704.1,871.4 1713.2,875.5C1722.2,879.7 1722,891.1 1720.9,898.8C1719.9,906.6 1712.1,916.9 1707,922.1C1701.8,927.3 1696.6,929.4 1689.9,929.9C1683.1,930.4 1670.5,934.5 1666.6,925.2C1662.7,915.9 1658.8,882.3 1666.6,874Z"/></clipPath><g clip-path="url(#pc30)"><use href="#pp30" fill="#973bc0"/><use href="#pp30" fill="none" stroke="#aa4ad8" stroke-width="10.5"/></g><use href="#pp30" fill="none" stroke="#36104c" stroke-width="4.2" stroke-linejoin="round"/>
<clipPath id="pc31"><path id="pp31" d="M1689.9,934.5C1691.9,929.4 1705.1,926.3 1713.2,925.2C1721.2,924.2 1730.2,924.7 1738,928.3C1745.8,931.9 1754.6,940.2 1759.8,947C1764.9,953.7 1768,962 1769.1,968.7C1770.1,975.4 1768.8,982.7 1766,987.3C1763.1,992 1756.9,995.6 1752,996.6C1747.1,997.7 1741.6,996.6 1736.5,993.5C1731.3,990.4 1726.9,984.2 1720.9,978C1715,971.8 1705.9,963.5 1700.7,956.3C1695.6,949 1687.8,939.7 1689.9,934.5Z"/></clipPath><g clip-path="url(#pc31)"><use href="#pp31" fill="#973bc0"/><use href="#pp31" fill="none" stroke="#aa4ad8" stroke-width="10.5"/></g><use href="#pp31" fill="none" stroke="#36104c" stroke-width="4.2" stroke-linejoin="round"/>
<clipPath id="pc32"><path id="pp32" d="M1666.6,937.6C1670.2,918.2 1682.6,934 1688.3,937.6C1694,941.3 1695.3,952.1 1700.7,959.4C1706.2,966.6 1716.8,974.4 1720.9,981.1C1725.1,987.8 1726.4,992.8 1725.6,999.8C1724.8,1006.7 1720.4,1016.6 1716.3,1023C1712.1,1029.5 1706.4,1033.9 1700.7,1038.6C1695.1,1043.2 1687.8,1048.4 1682.1,1051C1676.4,1053.6 1669.2,1073 1666.6,1054.1C1664,1035.2 1663,957 1666.6,937.6Z"/></clipPath><g clip-path="url(#pc32)"><use href="#pp32" fill="#973bc0"/><use href="#pp32" fill="none" stroke="#aa4ad8" stroke-width="10.5"/></g><use href="#pp32" fill="none" stroke="#36104c" stroke-width="4.2" stroke-linejoin="round"/>
<clipPath id="pc33"><path id="pp33" d="M1762.9,947C1762.9,941.8 1763.6,939.7 1769.1,937.6C1774.5,935.6 1786.7,935.1 1795.5,934.5C1804.3,934 1812.3,934 1821.9,934.5C1831.4,935.1 1845.2,934.5 1852.9,937.6C1860.7,940.7 1864.8,945.4 1868.4,953.2C1872.1,960.9 1875.7,973.9 1874.7,984.2C1873.6,994.6 1867.2,1008 1862.2,1015.3C1857.3,1022.5 1850.6,1026.4 1845.2,1027.7C1839.7,1029 1836.1,1026.4 1829.6,1023C1823.2,1019.7 1815.4,1011.9 1806.3,1007.5C1797.3,1003.1 1781.5,1000.5 1775.3,996.6C1769.1,992.8 1770.1,988.9 1769.1,984.2C1768,979.6 1770.1,974.9 1769.1,968.7C1768,962.5 1762.9,952.1 1762.9,947Z"/></clipPath><g clip-path="url(#pc33)"><use href="#pp33" fill="#973bc0"/><use href="#pp33" fill="none" stroke="#aa4ad8" stroke-width="10.5"/></g><use href="#pp33" fill="none" stroke="#36104c" stroke-width="4.2" stroke-linejoin="round"/>
<clipPath id="pc34"><path id="pp34" d="M1720.9,1027.7C1723.5,1022.5 1735.2,1016.8 1744.2,1012.2C1753.3,1007.5 1764.9,1000.5 1775.3,999.8C1785.6,999 1797.3,1003.6 1806.3,1007.5C1815.4,1011.4 1824.5,1017.3 1829.6,1023C1834.8,1028.7 1838.7,1033.9 1837.4,1041.7C1836.1,1049.4 1828.9,1063.2 1821.9,1069.6C1814.9,1076.1 1803.2,1078.2 1795.5,1080.5C1787.7,1082.8 1781.2,1084.1 1775.3,1083.6C1769.3,1083.1 1763.6,1081 1759.8,1077.4C1755.9,1073.8 1757.2,1067.6 1752,1061.9C1746.8,1056.2 1733.9,1048.9 1728.7,1043.2C1723.5,1037.5 1718.3,1032.9 1720.9,1027.7Z"/></clipPath><g clip-path="url(#pc34)"><use href="#pp34" fill="#973bc0"/><use href="#pp34" fill="none" stroke="#aa4ad8" stroke-width="10.5"/></g><use href="#pp34" fill="none" stroke="#36104c" stroke-width="4.2" stroke-linejoin="round"/>
<clipPath id="pc35"><path id="pp35" d="M1862.2,1015.3C1864.6,1007 1870,991.5 1876.2,984.2C1882.4,977 1892.2,974.4 1899.5,971.8C1906.8,969.2 1910.9,967.7 1920,968.7C1929.1,969.7 1944.3,972.8 1953.9,978C1963.4,983.2 1974.6,991.5 1977.1,999.8C1979.7,1008 1978.9,1022.5 1969.4,1027.7C1959.9,1032.9 1934.2,1029.5 1920,1030.8C1905.8,1032.1 1893.6,1034.9 1884,1035.5C1874.3,1036 1865.9,1037.3 1862.2,1033.9C1858.6,1030.5 1859.9,1023.6 1862.2,1015.3Z"/></clipPath><g clip-path="url(#pc35)"><use href="#pp35" fill="#973bc0"/><use href="#pp35" fill="none" stroke="#aa4ad8" stroke-width="10.5"/></g><use href="#pp35" fill="none" stroke="#36104c" stroke-width="4.2" stroke-linejoin="round"/>
<clipPath id="pc36"><path id="pp36" d="M1852.9,1046.3C1855.5,1040.4 1872.8,1041.7 1884,1041.7C1895.2,1041.7 1907.1,1043 1920,1046.3C1932.9,1049.7 1952.1,1054.1 1961.6,1061.9C1971.1,1069.6 1979.7,1086.2 1977.1,1092.9C1974.6,1099.6 1955.6,1102.2 1946.1,1102.2C1936.6,1102.2 1927.8,1094.5 1920,1092.9C1912.2,1091.4 1908.1,1095.5 1899.5,1092.9C1890.9,1090.3 1876.2,1085.2 1868.4,1077.4C1860.7,1069.6 1850.3,1052.3 1852.9,1046.3Z"/></clipPath><g clip-path="url(#pc36)"><use href="#pp36" fill="#973bc0"/><use href="#pp36" fill="none" stroke="#aa4ad8" stroke-width="10.5"/></g><use href="#pp36" fill="none" stroke="#36104c" stroke-width="4.2" stroke-linejoin="round"/>
<clipPath id="pc37"><path id="pp37" d="M1775.3,1116.2C1778.6,1105.9 1787.7,1099.4 1795.5,1092.9C1803.2,1086.4 1814.9,1081.3 1821.9,1077.4C1828.9,1073.5 1832.2,1069.6 1837.4,1069.6C1842.6,1069.6 1847.7,1070.9 1852.9,1077.4C1858.1,1083.9 1862,1095.5 1868.4,1108.4C1874.9,1121.4 1907.3,1147.3 1891.7,1155C1876.2,1162.8 1794.7,1161.5 1775.3,1155C1755.9,1148.6 1771.9,1126.6 1775.3,1116.2Z"/></clipPath><g clip-path="url(#pc37)"><use href="#pp37" fill="#973bc0"/><use href="#pp37" fill="none" stroke="#aa4ad8" stroke-width="10.5"/></g><use href="#pp37" fill="none" stroke="#36104c" stroke-width="4.2" stroke-linejoin="round"/>
<clipPath id="pc38"><path id="pp38" d="M1860.7,1077.4C1865.3,1075.3 1889.6,1090.8 1899.5,1096C1909.4,1101.2 1909.6,1105.1 1920,1108.4C1930.4,1111.8 1952.1,1108.4 1961.6,1116.2C1971.1,1124 1988,1148.6 1977.1,1155C1966.3,1161.5 1914,1162.8 1896.4,1155C1878.8,1147.3 1877.5,1121.4 1871.6,1108.4C1865.6,1095.5 1856,1079.5 1860.7,1077.4Z"/></clipPath><g clip-path="url(#pc38)"><use href="#pp38" fill="#973bc0"/><use href="#pp38" fill="none" stroke="#aa4ad8" stroke-width="10.5"/></g><use href="#pp38" fill="none" stroke="#36104c" stroke-width="4.2" stroke-linejoin="round"/>
<path d="M1842,1041.7C1843.9,1034.7 1850.1,1011.9 1852.9,999.8C1855.8,987.6 1858.1,977 1859.1,968.7C1860.2,960.4 1859.1,953.2 1859.1,950.1" fill="none" stroke="#36104c" stroke-width="4.8" stroke-linecap="round" stroke-linejoin="round"/>
<path d="M1842,1041.7C1847.7,1037.3 1865.3,1021.7 1876.2,1015.3C1887.1,1008.8 1902.1,1004.9 1907.3,1002.9" fill="none" stroke="#36104c" stroke-width="4.8" stroke-linecap="round" stroke-linejoin="round"/>
<path d="M1842,1041.7C1849,1041.2 1871,1039.1 1884,1038.6C1897,1038.1 1914,1038.6 1920,1038.6" fill="none" stroke="#36104c" stroke-width="4.8" stroke-linecap="round" stroke-linejoin="round"/>
<path d="M1842,1041.7C1849,1045.8 1871.8,1058.5 1884,1066.5C1896.1,1074.5 1909.9,1085.9 1915,1089.8" fill="none" stroke="#36104c" stroke-width="4.8" stroke-linecap="round" stroke-linejoin="round"/>
<path d="M1842,1041.7C1846.4,1048.9 1860.2,1075.1 1868.4,1085.2C1876.7,1095.2 1887.9,1099.4 1891.7,1102.2" fill="none" stroke="#36104c" stroke-width="4.8" stroke-linecap="round" stroke-linejoin="round"/>
<path d="M1842,1041.7C1843.9,1050.2 1849.6,1077.9 1852.9,1092.9C1856.3,1107.9 1860.7,1125.3 1862.2,1131.7" fill="none" stroke="#36104c" stroke-width="4.8" stroke-linecap="round" stroke-linejoin="round"/>
<path d="M1842,1041.7C1840.8,1048.9 1836.9,1071.4 1834.3,1085.2C1831.7,1098.9 1827.8,1117.5 1826.5,1124" fill="none" stroke="#36104c" stroke-width="4.8" stroke-linecap="round" stroke-linejoin="round"/>
<path d="M1842,1041.7C1836.1,1043.7 1817.5,1051.3 1806.3,1054.1C1795.2,1056.9 1780.5,1058 1775.3,1058.8" fill="none" stroke="#36104c" stroke-width="4.8" stroke-linecap="round" stroke-linejoin="round"/>
<path d="M1842,1041.7C1834.8,1039.9 1808.9,1034.4 1798.6,1030.8C1788.2,1027.2 1783,1021.7 1779.9,1019.9" fill="none" stroke="#36104c" stroke-width="4.8" stroke-linecap="round" stroke-linejoin="round"/>
<path d="M1842,1041.7C1836.1,1047.1 1817.5,1068.3 1806.3,1074.3C1795.2,1080.2 1780.5,1076.9 1775.3,1077.4" fill="none" stroke="#36104c" stroke-width="4.8" stroke-linecap="round" stroke-linejoin="round"/>
<path d="M1842,1041.7C1849,1039.3 1871,1032.1 1884,1027.7C1897,1023.3 1914,1017.3 1920,1015.3" fill="none" stroke="#36104c" stroke-width="4.8" stroke-linecap="round" stroke-linejoin="round"/>
<circle cx="1842.0" cy="1041.7" r="11" fill="#571d72"/>
<circle cx="1842.0" cy="1041.7" r="5" fill="#973bc0"/>
<path d="M1685.2,933C1688.8,929.4 1702.3,917.2 1707,911.2C1711.6,905.3 1712.1,899.6 1713.2,897.3" fill="none" stroke="#36104c" stroke-width="4.0" stroke-linecap="round" stroke-linejoin="round"/>
<path d="M1685.2,933C1689.9,934.8 1705.9,940 1713.2,943.9C1720.4,947.7 1726.1,954.2 1728.7,956.3" fill="none" stroke="#36104c" stroke-width="4.0" stroke-linecap="round" stroke-linejoin="round"/>
<path d="M1685.2,933C1687.8,929.4 1697.6,918.2 1700.7,911.2C1703.9,904.3 1703.3,894.4 1703.9,891.1" fill="none" stroke="#36104c" stroke-width="4.0" stroke-linecap="round" stroke-linejoin="round"/>
<path d="M1679,937.6C1679.5,942.8 1682.6,955.8 1682.1,968.7C1681.6,981.6 1676.9,1007.5 1675.9,1015.3" fill="none" stroke="#36104c" stroke-width="4.0" stroke-linecap="round" stroke-linejoin="round"/>
<path d="M1686.8,934.5C1692.5,934.5 1712.9,933.5 1720.9,934.5C1729,935.6 1732.6,939.7 1734.9,940.7" fill="none" stroke="#36104c" stroke-width="4.0" stroke-linecap="round" stroke-linejoin="round"/>
<path d="M1825,951.6C1826.5,955.8 1832.2,966.4 1834.3,976.5C1836.4,986.6 1836.9,1006.2 1837.4,1012.2" fill="none" stroke="#ead3f3" stroke-width="5" stroke-linecap="round" stroke-linejoin="round"/>
<path d="M1860.7,1085.2C1863.3,1089 1868.4,1100.7 1876.2,1108.4C1884,1116.2 1902.1,1127.9 1907.3,1131.7" fill="none" stroke="#ead3f3" stroke-width="4" stroke-linecap="round" stroke-linejoin="round"/>
<path d="M1685.2,960.9C1686.5,963.5 1691.4,968.2 1693,976.5C1694.5,984.7 1694.3,1004.9 1694.5,1010.6" fill="none" stroke="#ead3f3" stroke-width="4" stroke-linecap="round" stroke-linejoin="round"/>
<path d="M1904.2,1043.2 L1920,1046.3" fill="none" stroke="#ead3f3" stroke-width="4" stroke-linecap="round" stroke-linejoin="round"/>
<path d="M1795.5,1116.2 L1783,1133.3" fill="none" stroke="#c98be4" stroke-width="5" stroke-linecap="round" stroke-linejoin="round"/>
<path d="M1814.1,877.1C1817.2,874.8 1836.6,875.3 1840.5,877.1C1844.4,878.9 1840.5,885.6 1837.4,888C1834.3,890.3 1825.7,892.9 1821.9,891.1C1818,889.2 1811,879.4 1814.1,877.1Z" fill="#eeedf0" stroke="#4a1772" stroke-width="2.2" stroke-linejoin="round"/>
<path d="M1837.4,891.1C1838.9,886.1 1844.6,881.5 1849.8,880.2C1855,878.9 1863,880.7 1868.4,883.3C1873.9,885.9 1880.1,891.1 1882.4,895.7C1884.8,900.4 1884.2,906.1 1882.4,911.2C1880.6,916.4 1875.7,922.6 1871.6,926.8C1867.4,930.9 1861.5,936.3 1857.6,936.1C1853.7,935.8 1851.1,929.6 1848.3,925.2C1845.4,920.8 1842.3,915.4 1840.5,909.7C1838.7,904 1835.8,896 1837.4,891.1Z" fill="#eeedf0" stroke="#4a1772" stroke-width="2.2" stroke-linejoin="round"/>
<path d="M1884,880.2C1885.3,877.3 1899.5,876 1907.3,875.5C1915,875 1925.1,875.5 1930.6,877.1C1936,878.6 1941.6,882.5 1939.9,884.8C1938.1,887.2 1926.7,889.8 1920,891.1C1913.3,892.3 1905.5,894.4 1899.5,892.6C1893.5,890.8 1882.7,883 1884,880.2Z" fill="#eeedf0" stroke="#4a1772" stroke-width="2.2" stroke-linejoin="round"/>
<path d="M1767.5,877.1C1769.6,875.5 1790.8,874 1795.5,875.5C1800.1,877.1 1797.5,884.8 1795.5,886.4C1793.4,888 1787.7,886.4 1783,884.8C1778.4,883.3 1765.4,878.6 1767.5,877.1Z" fill="#eeedf0" stroke="#4a1772" stroke-width="2.2" stroke-linejoin="round"/>
<path d="M1972.4,900.4C1973.9,896 1978.6,891.6 1983.2,889.5C1987.8,887.4 1994.3,887.7 2000,888C2005.7,888.2 2014.5,885.6 2017.4,891.1C2020.3,896.5 2023.1,915.4 2017.4,920.6C2011.7,925.7 1990.5,922.9 1983.2,922.1C1976,921.3 1975.7,919.5 1973.9,915.9C1972.1,912.3 1970.8,904.8 1972.4,900.4Z" fill="#cf97df" stroke="#4a1772" stroke-width="2.2" stroke-linejoin="round"/>
<path d="M1981.7,984.2C1982.2,978 1984.3,970.2 1986.3,965.6C1988.4,960.9 1991,957.3 1994.1,956.3C1997.2,955.2 2001.1,957.3 2005,959.4C2008.9,961.4 2015.3,958.1 2017.4,968.7C2019.5,979.3 2021.8,1014.8 2017.4,1023C2013,1031.3 1996.7,1021.7 1991,1018.4C1985.3,1015 1984.8,1008.6 1983.2,1002.9C1981.7,997.2 1981.2,990.4 1981.7,984.2Z" fill="#eeedf0" stroke="#4a1772" stroke-width="2.2" stroke-linejoin="round"/>
<path d="M1992.5,978C1993.1,970.8 1997.7,968.7 2001.9,968.7C2006,968.7 2014.8,970.2 2017.4,978C2020,985.8 2020.5,1009.6 2017.4,1015.3C2014.3,1021 2002.9,1018.4 1998.8,1012.2C1994.6,1006 1992,985.3 1992.5,978Z" fill="#cf97df" stroke="#4a1772" stroke-width="1.5" stroke-linejoin="round"/>
<path d="M1918,1066.5C1917.5,1061.6 1925.3,1052.3 1928.9,1046.3C1932.5,1040.4 1934.1,1034.7 1939.8,1030.8C1945.4,1026.9 1955.3,1023.6 1963,1023C1970.8,1022.5 1980.2,1025.6 1986.3,1027.7C1992.5,1029.8 1994.8,1032.4 2000,1035.5C2005.2,1038.6 2014.5,1041.2 2017.4,1046.3C2020.3,1051.5 2023.9,1061.9 2017.4,1066.5C2010.9,1071.2 1988.9,1072.5 1978.6,1074.3C1968.2,1076.1 1963,1077.1 1955.3,1077.4C1947.5,1077.7 1938.2,1077.7 1932,1075.8C1925.8,1074 1918.5,1071.4 1918,1066.5Z" fill="#cf97df" stroke="#4a1772" stroke-width="2.2" stroke-linejoin="round"/>
<path d="M1975.5,1102.2C1976.5,1097.1 1979.1,1089.3 1983.2,1085.2C1987.3,1081 1994.3,1078.7 2000,1077.4C2005.7,1076.1 2014.5,1064.5 2017.4,1077.4C2020.3,1090.3 2022.6,1146 2017.4,1155C2012.2,1164.1 1993.1,1138.2 1986.3,1131.7C1979.6,1125.3 1978.8,1121.1 1977,1116.2C1975.2,1111.3 1974.4,1107.4 1975.5,1102.2Z" fill="#cf97df" stroke="#4a1772" stroke-width="2.2" stroke-linejoin="round"/>
<path d="M1933.5,1066.5C1932.8,1065 1941.8,1058.5 1944.4,1058.8C1947,1059 1950.9,1066.8 1949.1,1068.1C1947.3,1069.4 1934.3,1068.1 1933.5,1066.5Z" fill="#eeedf0" stroke="#4a1772" stroke-width="1.5" stroke-linejoin="round"/>
<path d="M1978.6,1077.4C1980.8,1075.1 1996.4,1068.3 2000,1068.1C2003.6,1067.8 2002.3,1073.5 2000,1075.8C1997.7,1078.2 1989.9,1081.8 1986.3,1082C1982.8,1082.3 1976.3,1079.7 1978.6,1077.4Z" fill="#eeedf0" stroke="#4a1772" stroke-width="1.5" stroke-linejoin="round"/>
</g>
</g>
<g id="edges">
<path d="M423,868.5L426,868.5L429,868.4L432,868.5L435,868L438,867.7L441,867.9L444,868L447,867.9L450,867.9L453,868.3L456.1,868.3L459.1,868.2L462.1,868.2L465.1,867.9L468.1,867.7L471.1,867.6L474.1,867.9L477.1,868.1L480.1,868L483.1,868.2L486.1,868.4L489.1,868.3L492.1,868.1L495.1,867.4L498.1,867.7L501.1,867.7L504.1,867.5L507.1,868.1L510.1,867.9L513.1,868.4L516.2,867.9L519.2,867.6L522.2,867.7L525.2,867.4L528.2,867.2L531.2,867.3L534.2,867.5L537.2,867.8L540.2,868.3L543.2,867.9L546.2,867.6L549.2,867.7L552.2,867.1L555.2,867.1L558.2,867.4L561.2,867.4L564.2,867.6L567.2,867.8L570.2,867.9L573.2,868L576.2,867.5L579.3,867.1L582.3,867.3L585.3,867L588.3,867.4L591.3,867.4L594.3,867.9L597.3,867.8L600.3,867.5L603.3,867.3L606.3,867.1L609.3,867.1L612.3,866.9L615.3,867L618.3,867.5L621.3,867.7L624.3,868L627.3,867.5L630.3,867.5L633.3,867.1L636.3,867.1L639.3,866.9L642.4,867.4L645.4,867.5L648.4,867.4L651.4,867.6L654.4,867.9L657.4,867.4L660.4,867.4L663.4,867.1L666.4,866.8L669.4,867.2L672.4,867.4L675.4,867.7L678.4,867.7L681.4,868L684.4,867.7L687.4,867.7L690.4,867.3L693.4,867.1L696.4,866.9L699.4,867.5L702.5,867.6L705.5,867.8L708.5,867.8L711.5,867.6L714.5,867.3L717.5,867.3L720.5,867.2L723.5,867.1L726.5,867.1L729.5,867.3L732.5,867.5L735.5,868L738.5,867.8L741.5,867.6L744.5,867.3L747.5,867.3L750.5,867.3L753.5,867.2L756.5,867.2L759.5,867.8L762.5,867.9L765.6,867.8L768.6,867.7L771.6,867.4L774.6,867.3L777.6,867L780.6,867.3L783.6,867.1L786.6,867.7L789.6,867.9L792.6,867.8L795.6,867.6L798.6,867.6L801.6,867.5L804.6,867L807.6,867.2L810.6,867.3L813.6,867.6L816.6,867.8L819.6,867.9L822.6,867.6L825.6,867.8L828.7,867.3L831.7,867.3L834.7,867.2L837.7,867.1L840.7,867.6L843.7,867.9L846.7,867.7L849.7,868L852.7,867.7L855.7,867.7L858.7,867.5L861.7,867.2L864.7,867.2L867.7,867.4L870.7,867.4L873.7,868.1L876.7,867.9L879.7,867.7L882.7,867.8L885.7,867.1L888.8,867.2L891.8,867.1L894.8,867.4L897.8,867.7L900.8,867.7L903.8,867.7L906.8,867.9L909.8,867.9L912.8,867.7L915.8,867.4L918.8,867L921.8,867.1L924.8,867.5L927.8,867.9L930.8,867.8L933.8,868.1L936.8,867.6L939.8,867.8L942.8,867.3L945.8,867.2L948.8,867.2L951.9,867.6L954.9,867.6L957.9,867.9L960.9,868L963.9,867.9L966.9,867.9L969.9,867.3L972.9,867L975.9,867.3L978.9,867.3L981.9,867.4L984.9,868L987.9,868.1L990.9,867.8L993.9,867.8L996.9,867.4L999.9,867L1002.9,867L1005.9,867.1L1008.9,867.5L1011.9,867.7L1015,867.9L1018,867.8L1021,867.9L1024,867.7L1027,867.5L1030,867.3L1033,867.4L1036,867.3L1039,867.5L1042,868.1L1045,867.8L1048,867.8L1051,867.8L1054,867.5L1057,867.2L1060,867L1063,867.4L1066,867.8L1069,867.8L1072,868L1075.1,867.8L1078.1,867.6L1081.1,867.5L1084.1,867.3L1087.1,867L1090.1,867.5L1093.1,867.7L1096.1,867.6L1099.1,867.9L1102.1,867.9L1105.1,867.8L1108.1,867.6L1111.1,867.3L1114.1,866.9L1117.1,867.2L1120.1,867.1L1123.1,867.5L1126.1,867.9L1129.1,867.9L1132.1,867.7L1135.1,867.4L1138.2,867.3L1141.2,866.8L1144.2,867L1147.2,867.1L1150.2,867.4L1153.2,867.5L1156.2,867.7L1159.2,867.6L1162.2,867.2L1165.2,866.7L1168.2,866.8L1171.2,866.5L1174.2,866.8L1177.2,867L1180.2,867.2L1183.2,867.6L1186.2,867.4L1189.2,867.4L1192.2,866.9L1195.2,866.4L1198.2,866.2L1201.3,866.4L1204.3,866.5L1207.3,866.9L1210.3,867.3L1213.3,867.3L1216.3,867.1L1219.3,866.8L1222.3,866.2L1225.3,866.1L1228.3,866L1231.3,866.4L1234.3,866.8L1237.3,866.8L1240.3,866.8L1243.3,866.9L1246.3,866.5L1249.3,866.2L1252.3,865.9L1255.3,865.8L1258.3,866L1261.4,866.4L1264.4,866.7L1267.4,866.4L1270.4,866.6L1273.4,866.7L1276.4,866.2L1279.4,866L1282.4,866L1285.4,865.8L1288.4,866L1291.4,866.1L1294.4,866.4L1297.4,866.4L1300.4,866.3L1303.4,866.1L1306.4,865.9L1309.4,865.8L1312.4,865.6L1315.4,865.5L1318.4,866L1321.4,866L1324.5,866.3L1327.5,866.2L1330.5,866L1333.5,865.5L1336.5,865.6L1339.5,865.1L1342.5,865.3L1345.5,865.7L1348.5,865.9L1351.5,865.8L1354.5,866L1357.5,865.7L1360.5,865.3L1363.5,865.3L1366.5,864.9L1369.5,865.3L1372.5,865.4L1375.5,865.5L1378.5,865.9L1381.5,865.8L1384.5,865.5L1387.6,865.4L1390.6,865L1393.6,864.7L1396.6,864.6L1399.6,865L1402.6,865.3L1405.6,865.6L1408.6,865.4L1411.6,865.2L1414.6,865.3L1417.6,864.8L1420.6,864.6L1423.6,864.5L1426.6,864.8L1429.6,865.1L1432.6,865.3L1435.6,865.4L1438.6,865.1L1441.6,865.2L1444.6,864.6L1447.7,864.4L1450.7,864.3L1453.7,864.3L1456.7,864.7L1459.7,865L1462.7,864.9L1465.7,865.2L1468.7,864.6L1471.7,864.6L1474.7,864.6L1477.7,864.3L1480.7,864.2L1483.7,864.1L1486.7,864.7L1489.7,864.5L1492.7,864.6L1495.7,864.8L1498.7,864.3L1501.7,864.2L1504.7,863.9L1507.7,864.1L1510.8,864L1513.8,864.3L1516.8,864.7L1519.8,864.7L1522.8,864.7L1525.8,864.5L1528.8,864.3L1531.8,863.8L1534.8,863.8L1537.8,863.7L1540.8,864L1543.8,864.1L1546.8,864.2L1549.8,864.2L1552.8,863.9L1555.8,863.7L1558.8,863.8L1561.8,863.2L1564.8,863.5L1567.8,863.4L1570.8,863.7L1573.9,863.9L1576.9,864.2L1579.9,863.8L1582.9,863.6L1585.9,863.4L1588.9,863.4L1591.9,863.1L1594.9,863.6L1597.9,863.6L1600.9,863.8L1603.9,863.8L1606.9,864.1L1609.9,863.8L1612.9,863.4L1615.9,863.4L1618.9,863L1621.9,863.2L1624.9,863.6L1627.9,863.6L1630.9,863.9L1634,864.2L1637,863.9L1640,863.5L1643,863.2L1646,863L1649,863.4L1652,863.2L1655,863.8L1658,863.9L1661,864.2L1664,864.1L1664,878.8L1661,879.2L1658,879.2L1655,878.9L1652,878.6L1649,878.4L1646,877.6L1643,877.1L1640,876.9L1637,877.6L1634,877.5L1630.9,877.3L1627.9,877.2L1624.9,877.6L1621.9,878L1618.9,878.4L1615.9,879L1612.9,880L1609.9,879.7L1606.9,879.3L1603.9,879.3L1600.9,878.4L1597.9,878.9L1594.9,878.4L1591.9,878.6L1588.9,877.8L1585.9,877.2L1582.9,876.9L1579.9,876.4L1576.9,876.7L1573.9,877.7L1570.8,877.7L1567.8,877.8L1564.8,878.5L1561.8,878.2L1558.8,878.3L1555.8,879.2L1552.8,879.4L1549.8,880L1546.8,879.2L1543.8,878.3L1540.8,878.3L1537.8,877.3L1534.8,877.5L1531.8,877.7L1528.8,877.4L1525.8,877.2L1522.8,876.8L1519.8,876.6L1516.8,876.7L1513.8,877.6L1510.8,878.2L1507.7,878.7L1504.7,878.5L1501.7,878.8L1498.7,878.8L1495.7,878.5L1492.7,879.2L1489.7,879.2L1486.7,879.1L1483.7,877.7L1480.7,877.5L1477.7,876.4L1474.7,876.7L1471.7,876.8L1468.7,876.9L1465.7,876.7L1462.7,877L1459.7,876.7L1456.7,876.9L1453.7,877.5L1450.7,878.1L1447.7,878.7L1444.6,878.9L1441.6,879.1L1438.6,878.4L1435.6,878L1432.6,878.1L1429.6,878.5L1426.6,878.1L1423.6,877.2L1420.6,877L1417.6,875.9L1414.6,876.1L1411.6,875.9L1408.6,876.7L1405.6,876.6L1402.6,877L1399.6,877.1L1396.6,876.9L1393.6,877.9L1390.6,878L1387.6,879.1L1384.5,879L1381.5,879.1L1378.5,878.1L1375.5,877.4L1372.5,877L1369.5,877.2L1366.5,876.8L1363.5,877.1L1360.5,876.3L1357.5,875.9L1354.5,875.7L1351.5,875.9L1348.5,876L1345.5,876.8L1342.5,877.5L1339.5,877.4L1336.5,878.1L1333.5,878.2L1330.5,877.9L1327.5,878.6L1324.5,878.8L1321.4,878.4L1318.4,878.2L1315.4,877.6L1312.4,876.5L1309.4,876.8L1306.4,876.5L1303.4,876.6L1300.4,876.4L1297.4,876.5L1294.4,875.9L1291.4,876L1288.4,876.8L1285.4,877.3L1282.4,878.6L1279.4,878.7L1276.4,879L1273.4,878.2L1270.4,878.3L1267.4,878.6L1264.4,878.8L1261.4,878L1258.3,878.3L1255.3,877.5L1252.3,876.2L1249.3,875.8L1246.3,876.4L1243.3,876.6L1240.3,876.8L1237.3,877.2L1234.3,877.1L1231.3,876.8L1228.3,877.5L1225.3,878.1L1222.3,879.2L1219.3,879.5L1216.3,878.9L1213.3,879L1210.3,878.4L1207.3,878L1204.3,878.3L1201.3,877.6L1198.2,877.5L1195.2,877.2L1192.2,876.9L1189.2,875.9L1186.2,876.5L1183.2,876.9L1180.2,877.3L1177.2,878L1174.2,878L1171.2,878.5L1168.2,878.4L1165.2,878.5L1162.2,879L1159.2,879.1L1156.2,879.4L1153.2,879.3L1150.2,878.7L1147.2,877.7L1144.2,877.6L1141.2,877.7L1138.2,877.7L1135.1,877.3L1132.1,877L1129.1,877.1L1126.1,877L1123.1,876.8L1120.1,877.6L1117.1,878.5L1114.1,879L1111.1,879.4L1108.1,878.6L1105.1,878.9L1102.1,879L1099.1,879.5L1096.1,879.7L1093.1,878.7L1090.1,878.8L1087.1,877.4L1084.1,876.8L1081.1,877L1078.1,876.9L1075.1,877.2L1072,877.8L1069,877.8L1066,877.3L1063,878.2L1060,878.2L1057,879.3L1054,879.5L1051,879.9L1048,879.4L1045,879.5L1042,878.7L1039,879.3L1036,879.3L1033,878.7L1030,878.6L1027,877.5L1024,877.2L1021,877L1018,877.4L1015,877.6L1011.9,878.3L1008.9,878.5L1005.9,878.4L1002.9,878.7L999.9,879.3L996.9,879.7L993.9,880L990.9,880.1L987.9,879.7L984.9,879.2L981.9,879L978.9,878.4L975.9,878.8L972.9,878.4L969.9,878.3L966.9,878.3L963.9,877.5L960.9,877L957.9,877.6L954.9,878.5L951.9,879L948.8,879.2L945.8,879.7L942.8,879.5L939.8,879.7L936.8,880.2L933.8,880.5L930.8,880.3L927.8,880.2L924.8,879.6L921.8,879L918.8,878.3L915.8,877.7L912.8,878.1L909.8,878.5L906.8,878.6L903.8,878L900.8,878.4L897.8,878.1L894.8,878.5L891.8,879.3L888.8,880.6L885.7,880.6L882.7,880.5L879.7,880.6L876.7,880.3L873.7,880.5L870.7,880.5L867.7,880.3L864.7,879.9L861.7,878.8L858.7,878.3L855.7,878.3L852.7,878.2L849.7,878.9L846.7,879L843.7,879.5L840.7,879L837.7,879.7L834.7,880L831.7,880.4L828.7,880.9L825.6,881.2L822.6,881.3L819.6,880.6L816.6,880.1L813.6,880.4L810.6,880L807.6,879.8L804.6,879.4L801.6,879.1L798.6,878.4L795.6,878.2L792.6,878.8L789.6,879.2L786.6,879.5L783.6,880L780.6,880.6L777.6,881L774.6,880.7L771.6,880.9L768.6,881.2L765.6,881.5L762.5,882.1L759.5,881.6L756.5,880.6L753.5,879.8L750.5,879.5L747.5,880L744.5,879.7L741.5,879.9L738.5,879.9L735.5,879.5L732.5,879.1L729.5,880L726.5,880.2L723.5,881.7L720.5,881.8L717.5,881.6L714.5,881.8L711.5,881.8L708.5,881.9L705.5,881.8L702.5,881.7L699.4,881.7L696.4,880.9L693.4,880.2L690.4,879.5L687.4,879.6L684.4,880.1L681.4,880.6L678.4,880.6L675.4,880.8L672.4,880.7L669.4,881.1L666.4,881.4L663.4,882.5L660.4,882.8L657.4,882.9L654.4,882.8L651.4,882.3L648.4,881.3L645.4,881.6L642.4,881.7L639.3,881.7L636.3,880.7L633.3,880.3L630.3,879.6L627.3,879.7L624.3,880L621.3,880.7L618.3,881.7L615.3,881.5L612.3,882L609.3,881.7L606.3,882.4L603.3,882.8L600.3,883.5L597.3,882.9L594.3,883L591.3,882.6L588.3,881.9L585.3,880.8L582.3,881.2L579.3,880.7L576.2,881.1L573.2,880.5L570.2,880.1L567.2,880.1L564.2,880.3L561.2,880.6L558.2,881.5L555.2,881.9L552.2,882.6L549.2,882.2L546.2,881.9L543.2,882.4L540.2,882.5L537.2,882.2L534.2,882L531.2,881.6L528.2,880.8L525.2,880L522.2,879.5L519.2,879.6L516.2,879.9L513.1,880.4L510.1,880L507.1,879.8L504.1,880.3L501.1,880.6L498.1,881.4L495.1,881.8L492.1,882.5L489.1,882L486.1,881.6L483.1,881L480.1,881L477.1,881.3L474.1,881.4L471.1,880.4L468.1,880L465.1,879.4L462.1,879.2L459.1,879.1L456.1,879.3L453,879.6L450,879.9L447,880.4L444,880.7L441,880.2L438,881.3L435,881.5L432,882.1L429,881.7L426,881.2L423,880.5Z" fill="#3a1245" opacity="0.7"/>
<path d="M423,868.5L426,868.5L429,868.4L432,868.5L435,868L438,867.7L441,867.9L444,868L447,867.9L450,867.9L453,868.3L456.1,868.3L459.1,868.2L462.1,868.2L465.1,867.9L468.1,867.7L471.1,867.6L474.1,867.9L477.1,868.1L480.1,868L483.1,868.2L486.1,868.4L489.1,868.3L492.1,868.1L495.1,867.4L498.1,867.7L501.1,867.7L504.1,867.5L507.1,868.1L510.1,867.9L513.1,868.4L516.2,867.9L519.2,867.6L522.2,867.7L525.2,867.4L528.2,867.2L531.2,867.3L534.2,867.5L537.2,867.8L540.2,868.3L543.2,867.9L546.2,867.6L549.2,867.7L552.2,867.1L555.2,867.1L558.2,867.4L561.2,867.4L564.2,867.6L567.2,867.8L570.2,867.9L573.2,868L576.2,867.5L579.3,867.1L582.3,867.3L585.3,867L588.3,867.4L591.3,867.4L594.3,867.9L597.3,867.8L600.3,867.5L603.3,867.3L606.3,867.1L609.3,867.1L612.3,866.9L615.3,867L618.3,867.5L621.3,867.7L624.3,868L627.3,867.5L630.3,867.5L633.3,867.1L636.3,867.1L639.3,866.9L642.4,867.4L645.4,867.5L648.4,867.4L651.4,867.6L654.4,867.9L657.4,867.4L660.4,867.4L663.4,867.1L666.4,866.8L669.4,867.2L672.4,867.4L675.4,867.7L678.4,867.7L681.4,868L684.4,867.7L687.4,867.7L690.4,867.3L693.4,867.1L696.4,866.9L699.4,867.5L702.5,867.6L705.5,867.8L708.5,867.8L711.5,867.6L714.5,867.3L717.5,867.3L720.5,867.2L723.5,867.1L726.5,867.1L729.5,867.3L732.5,867.5L735.5,868L738.5,867.8L741.5,867.6L744.5,867.3L747.5,867.3L750.5,867.3L753.5,867.2L756.5,867.2L759.5,867.8L762.5,867.9L765.6,867.8L768.6,867.7L771.6,867.4L774.6,867.3L777.6,867L780.6,867.3L783.6,867.1L786.6,867.7L789.6,867.9L792.6,867.8L795.6,867.6L798.6,867.6L801.6,867.5L804.6,867L807.6,867.2L810.6,867.3L813.6,867.6L816.6,867.8L819.6,867.9L822.6,867.6L825.6,867.8L828.7,867.3L831.7,867.3L834.7,867.2L837.7,867.1L840.7,867.6L843.7,867.9L846.7,867.7L849.7,868L852.7,867.7L855.7,867.7L858.7,867.5L861.7,867.2L864.7,867.2L867.7,867.4L870.7,867.4L873.7,868.1L876.7,867.9L879.7,867.7L882.7,867.8L885.7,867.1L888.8,867.2L891.8,867.1L894.8,867.4L897.8,867.7L900.8,867.7L903.8,867.7L906.8,867.9L909.8,867.9L912.8,867.7L915.8,867.4L918.8,867L921.8,867.1L924.8,867.5L927.8,867.9L930.8,867.8L933.8,868.1L936.8,867.6L939.8,867.8L942.8,867.3L945.8,867.2L948.8,867.2L951.9,867.6L954.9,867.6L957.9,867.9L960.9,868L963.9,867.9L966.9,867.9L969.9,867.3L972.9,867L975.9,867.3L978.9,867.3L981.9,867.4L984.9,868L987.9,868.1L990.9,867.8L993.9,867.8L996.9,867.4L999.9,867L1002.9,867L1005.9,867.1L1008.9,867.5L1011.9,867.7L1015,867.9L1018,867.8L1021,867.9L1024,867.7L1027,867.5L1030,867.3L1033,867.4L1036,867.3L1039,867.5L1042,868.1L1045,867.8L1048,867.8L1051,867.8L1054,867.5L1057,867.2L1060,867L1063,867.4L1066,867.8L1069,867.8L1072,868L1075.1,867.8L1078.1,867.6L1081.1,867.5L1084.1,867.3L1087.1,867L1090.1,867.5L1093.1,867.7L1096.1,867.6L1099.1,867.9L1102.1,867.9L1105.1,867.8L1108.1,867.6L1111.1,867.3L1114.1,866.9L1117.1,867.2L1120.1,867.1L1123.1,867.5L1126.1,867.9L1129.1,867.9L1132.1,867.7L1135.1,867.4L1138.2,867.3L1141.2,866.8L1144.2,867L1147.2,867.1L1150.2,867.4L1153.2,867.5L1156.2,867.7L1159.2,867.6L1162.2,867.2L1165.2,866.7L1168.2,866.8L1171.2,866.5L1174.2,866.8L1177.2,867L1180.2,867.2L1183.2,867.6L1186.2,867.4L1189.2,867.4L1192.2,866.9L1195.2,866.4L1198.2,866.2L1201.3,866.4L1204.3,866.5L1207.3,866.9L1210.3,867.3L1213.3,867.3L1216.3,867.1L1219.3,866.8L1222.3,866.2L1225.3,866.1L1228.3,866L1231.3,866.4L1234.3,866.8L1237.3,866.8L1240.3,866.8L1243.3,866.9L1246.3,866.5L1249.3,866.2L1252.3,865.9L1255.3,865.8L1258.3,866L1261.4,866.4L1264.4,866.7L1267.4,866.4L1270.4,866.6L1273.4,866.7L1276.4,866.2L1279.4,866L1282.4,866L1285.4,865.8L1288.4,866L1291.4,866.1L1294.4,866.4L1297.4,866.4L1300.4,866.3L1303.4,866.1L1306.4,865.9L1309.4,865.8L1312.4,865.6L1315.4,865.5L1318.4,866L1321.4,866L1324.5,866.3L1327.5,866.2L1330.5,866L1333.5,865.5L1336.5,865.6L1339.5,865.1L1342.5,865.3L1345.5,865.7L1348.5,865.9L1351.5,865.8L1354.5,866L1357.5,865.7L1360.5,865.3L1363.5,865.3L1366.5,864.9L1369.5,865.3L1372.5,865.4L1375.5,865.5L1378.5,865.9L1381.5,865.8L1384.5,865.5L1387.6,865.4L1390.6,865L1393.6,864.7L1396.6,864.6L1399.6,865L1402.6,865.3L1405.6,865.6L1408.6,865.4L1411.6,865.2L1414.6,865.3L1417.6,864.8L1420.6,864.6L1423.6,864.5L1426.6,864.8L1429.6,865.1L1432.6,865.3L1435.6,865.4L1438.6,865.1L1441.6,865.2L1444.6,864.6L1447.7,864.4L1450.7,864.3L1453.7,864.3L1456.7,864.7L1459.7,865L1462.7,864.9L1465.7,865.2L1468.7,864.6L1471.7,864.6L1474.7,864.6L1477.7,864.3L1480.7,864.2L1483.7,864.1L1486.7,864.7L1489.7,864.5L1492.7,864.6L1495.7,864.8L1498.7,864.3L1501.7,864.2L1504.7,863.9L1507.7,864.1L1510.8,864L1513.8,864.3L1516.8,864.7L1519.8,864.7L1522.8,864.7L1525.8,864.5L1528.8,864.3L1531.8,863.8L1534.8,863.8L1537.8,863.7L1540.8,864L1543.8,864.1L1546.8,864.2L1549.8,864.2L1552.8,863.9L1555.8,863.7L1558.8,863.8L1561.8,863.2L1564.8,863.5L1567.8,863.4L1570.8,863.7L1573.9,863.9L1576.9,864.2L1579.9,863.8L1582.9,863.6L1585.9,863.4L1588.9,863.4L1591.9,863.1L1594.9,863.6L1597.9,863.6L1600.9,863.8L1603.9,863.8L1606.9,864.1L1609.9,863.8L1612.9,863.4L1615.9,863.4L1618.9,863L1621.9,863.2L1624.9,863.6L1627.9,863.6L1630.9,863.9L1634,864.2L1637,863.9L1640,863.5L1643,863.2L1646,863L1649,863.4L1652,863.2L1655,863.8L1658,863.9L1661,864.2L1664,864.1L1664,876.6L1661,877L1658,877L1655,876.7L1652,876.4L1649,876.2L1646,875.4L1643,874.9L1640,874.7L1637,875.4L1634,875.3L1630.9,875.1L1627.9,875L1624.9,875.4L1621.9,875.8L1618.9,876.2L1615.9,876.8L1612.9,877.8L1609.9,877.5L1606.9,877.1L1603.9,877.1L1600.9,876.2L1597.9,876.7L1594.9,876.2L1591.9,876.4L1588.9,875.6L1585.9,875L1582.9,874.7L1579.9,874.2L1576.9,874.5L1573.9,875.5L1570.8,875.5L1567.8,875.6L1564.8,876.3L1561.8,876L1558.8,876.1L1555.8,877L1552.8,877.2L1549.8,877.8L1546.8,877L1543.8,876.1L1540.8,876.1L1537.8,875.1L1534.8,875.3L1531.8,875.5L1528.8,875.2L1525.8,875L1522.8,874.6L1519.8,874.4L1516.8,874.5L1513.8,875.4L1510.8,876L1507.7,876.5L1504.7,876.3L1501.7,876.6L1498.7,876.6L1495.7,876.3L1492.7,877L1489.7,877L1486.7,876.9L1483.7,875.5L1480.7,875.3L1477.7,874.2L1474.7,874.5L1471.7,874.6L1468.7,874.7L1465.7,874.5L1462.7,874.8L1459.7,874.5L1456.7,874.7L1453.7,875.3L1450.7,875.9L1447.7,876.5L1444.6,876.7L1441.6,876.9L1438.6,876.2L1435.6,875.8L1432.6,875.9L1429.6,876.3L1426.6,875.9L1423.6,875L1420.6,874.8L1417.6,873.7L1414.6,873.9L1411.6,873.7L1408.6,874.5L1405.6,874.4L1402.6,874.8L1399.6,874.9L1396.6,874.7L1393.6,875.7L1390.6,875.8L1387.6,876.9L1384.5,876.8L1381.5,876.9L1378.5,875.9L1375.5,875.2L1372.5,874.8L1369.5,875L1366.5,874.6L1363.5,874.9L1360.5,874.1L1357.5,873.7L1354.5,873.5L1351.5,873.7L1348.5,873.8L1345.5,874.6L1342.5,875.3L1339.5,875.2L1336.5,875.9L1333.5,876L1330.5,875.7L1327.5,876.4L1324.5,876.6L1321.4,876.2L1318.4,876L1315.4,875.4L1312.4,874.3L1309.4,874.6L1306.4,874.3L1303.4,874.4L1300.4,874.2L1297.4,874.3L1294.4,873.7L1291.4,873.8L1288.4,874.6L1285.4,875.1L1282.4,876.4L1279.4,876.5L1276.4,876.8L1273.4,876L1270.4,876.1L1267.4,876.4L1264.4,876.6L1261.4,875.8L1258.3,876.1L1255.3,875.3L1252.3,874L1249.3,873.6L1246.3,874.2L1243.3,874.4L1240.3,874.6L1237.3,875L1234.3,874.9L1231.3,874.6L1228.3,875.3L1225.3,875.9L1222.3,877L1219.3,877.3L1216.3,876.7L1213.3,876.8L1210.3,876.2L1207.3,875.8L1204.3,876.1L1201.3,875.4L1198.2,875.3L1195.2,875L1192.2,874.7L1189.2,873.7L1186.2,874.3L1183.2,874.7L1180.2,875.1L1177.2,875.8L1174.2,875.8L1171.2,876.3L1168.2,876.2L1165.2,876.3L1162.2,876.8L1159.2,876.9L1156.2,877.2L1153.2,877.1L1150.2,876.5L1147.2,875.5L1144.2,875.4L1141.2,875.5L1138.2,875.5L1135.1,875.1L1132.1,874.8L1129.1,874.9L1126.1,874.8L1123.1,874.6L1120.1,875.4L1117.1,876.3L1114.1,876.8L1111.1,877.2L1108.1,876.4L1105.1,876.7L1102.1,876.8L1099.1,877.3L1096.1,877.5L1093.1,876.5L1090.1,876.6L1087.1,875.2L1084.1,874.6L1081.1,874.8L1078.1,874.7L1075.1,875L1072,875.6L1069,875.6L1066,875.1L1063,876L1060,876L1057,877.1L1054,877.3L1051,877.7L1048,877.2L1045,877.3L1042,876.5L1039,877.1L1036,877.1L1033,876.5L1030,876.4L1027,875.3L1024,875L1021,874.8L1018,875.2L1015,875.4L1011.9,876.1L1008.9,876.3L1005.9,876.2L1002.9,876.5L999.9,877.1L996.9,877.5L993.9,877.8L990.9,877.9L987.9,877.5L984.9,877L981.9,876.8L978.9,876.2L975.9,876.6L972.9,876.2L969.9,876.1L966.9,876.1L963.9,875.3L960.9,874.8L957.9,875.4L954.9,876.3L951.9,876.8L948.8,877L945.8,877.5L942.8,877.3L939.8,877.5L936.8,878L933.8,878.3L930.8,878.1L927.8,878L924.8,877.4L921.8,876.8L918.8,876.1L915.8,875.5L912.8,875.9L909.8,876.3L906.8,876.4L903.8,875.8L900.8,876.2L897.8,875.9L894.8,876.3L891.8,877.1L888.8,878.4L885.7,878.4L882.7,878.3L879.7,878.4L876.7,878.1L873.7,878.3L870.7,878.3L867.7,878.1L864.7,877.7L861.7,876.6L858.7,876.1L855.7,876.1L852.7,876L849.7,876.7L846.7,876.8L843.7,877.3L840.7,876.8L837.7,877.5L834.7,877.8L831.7,878.2L828.7,878.7L825.6,879L822.6,879.1L819.6,878.4L816.6,877.9L813.6,878.2L810.6,877.8L807.6,877.6L804.6,877.2L801.6,876.9L798.6,876.2L795.6,876L792.6,876.6L789.6,877L786.6,877.3L783.6,877.8L780.6,878.4L777.6,878.8L774.6,878.5L771.6,878.7L768.6,879L765.6,879.3L762.5,879.9L759.5,879.4L756.5,878.4L753.5,877.6L750.5,877.3L747.5,877.8L744.5,877.5L741.5,877.7L738.5,877.7L735.5,877.3L732.5,876.9L729.5,877.8L726.5,878L723.5,879.5L720.5,879.6L717.5,879.4L714.5,879.6L711.5,879.6L708.5,879.7L705.5,879.6L702.5,879.5L699.4,879.5L696.4,878.7L693.4,878L690.4,877.3L687.4,877.4L684.4,877.9L681.4,878.4L678.4,878.4L675.4,878.6L672.4,878.5L669.4,878.9L666.4,879.2L663.4,880.3L660.4,880.6L657.4,880.7L654.4,880.6L651.4,880.1L648.4,879.1L645.4,879.4L642.4,879.5L639.3,879.5L636.3,878.5L633.3,878.1L630.3,877.4L627.3,877.5L624.3,877.8L621.3,878.5L618.3,879.5L615.3,879.3L612.3,879.8L609.3,879.5L606.3,880.2L603.3,880.6L600.3,881.3L597.3,880.7L594.3,880.8L591.3,880.4L588.3,879.7L585.3,878.6L582.3,879L579.3,878.5L576.2,878.9L573.2,878.3L570.2,877.9L567.2,877.9L564.2,878.1L561.2,878.4L558.2,879.3L555.2,879.7L552.2,880.4L549.2,880L546.2,879.7L543.2,880.2L540.2,880.3L537.2,880L534.2,879.8L531.2,879.4L528.2,878.6L525.2,877.8L522.2,877.3L519.2,877.4L516.2,877.7L513.1,878.2L510.1,877.8L507.1,877.6L504.1,878.1L501.1,878.4L498.1,879.2L495.1,879.6L492.1,880.3L489.1,879.8L486.1,879.4L483.1,878.8L480.1,878.8L477.1,879.1L474.1,879.2L471.1,878.2L468.1,877.8L465.1,877.2L462.1,877L459.1,876.9L456.1,877.1L453,877.4L450,877.7L447,878.2L444,878.5L441,878L438,879.1L435,879.3L432,879.9L429,879.5L426,879L423,878.3Z" fill="#2a2c2a"/>
<path d="M428,1152.1L431,1151.8L434,1152.1L437,1152.5L440,1152.6L443,1152.5L446,1152.3L449,1152L452,1151.7L455,1151.7L458,1151.9L461,1151.7L464,1152.1L467,1152.6L470,1152.2L473,1152.1L476,1152.1L479,1151.9L482,1151.4L485,1151.4L488,1151.6L491,1151.7L494,1152.1L497,1152.4L500,1152.1L503,1152L506,1151.4L509,1151.3L512,1151.4L515,1151.1L518,1151.4L521,1151.6L524,1151.8L527,1151.7L530,1151.6L533,1151.3L536,1151.1L539,1150.8L542,1150.9L545,1151.2L548,1151.4L551,1151.4L554,1151.6L557,1151.7L560,1151.1L563,1151.2L566,1150.7L569,1150.5L572,1151.1L575,1151.1L578,1151.2L581,1151.6L584,1151.3L587,1151.2L590,1150.8L593,1150.9L596,1150.4L599,1150.5L602,1150.8L605,1151.1L608,1151L611,1151.2L614,1150.7L617,1150.5L620,1150.2L623,1150.1L626,1150.2L629,1150.3L632,1150.4L635,1150.6L638,1150.5L641,1150.5L644,1149.9L647,1150L650,1149.8L653,1149.5L656,1149.4L659,1149.6L662,1150.1L665,1150.1L668,1149.8L671,1149.9L674,1149.4L677,1149.2L680,1149L683,1149.2L686,1149.6L689,1149.9L692,1149.7L695,1149.9L698,1149.9L701,1149.4L704,1149.5L707,1149L710,1148.9L713,1149.1L716,1149.5L719,1149.5L722,1149.8L725,1149.6L728,1149.7L731,1149.1L734,1149.1L737,1149L740,1149.3L743,1149.4L746,1149.6L749,1149.6L752,1149.5L755,1149.3L758,1149L761,1149.1L764,1149L767,1148.8L770,1149.2L773,1149.1L776,1149.7L779,1149.7L782,1149.4L785,1149.1L788,1148.8L791,1148.8L794,1148.5L797,1149.1L800,1148.9L803,1149.5L806,1149.3L809,1149.2L812,1149.3L815,1148.6L818,1148.3L821,1148.3L824,1148.5L827,1148.8L830,1148.9L833,1149.4L836,1149L839,1149L842,1148.8L845,1148.7L848,1148.4L851,1148.5L854,1148.6L857,1149L860,1149.3L863,1149.3L866,1149.2L869,1148.7L872,1148.5L875,1148.4L878,1148L881,1148.2L884,1148.4L887,1148.7L890,1149L893,1149.1L896,1148.9L899,1148.2L902,1148.2L905,1148.2L908,1148.2L911,1148.3L914,1148.7L917,1149.1L920,1149L923,1148.5L926,1148.4L929,1147.8L932,1148L935,1148.2L938,1148.1L941,1148.7L944,1148.7L947,1148.8L950,1148.5L953,1148.2L956,1147.8L959,1148.1L962,1147.7L965,1147.8L968,1148.3L971,1148.5L974,1148.6L977,1148.4L980,1148.5L983,1148L986,1147.6L989,1147.5L992,1147.7L995,1148.3L998,1148.2L1001,1148.4L1004,1148.5L1007,1148.3L1010,1147.8L1013,1147.9L1016,1147.4L1019,1147.5L1022,1147.7L1025,1148.1L1028,1148.3L1031,1148.5L1034,1148.4L1037,1147.9L1040,1147.7L1043,1147.3L1046,1147.6L1049,1147.7L1052,1148L1055,1148L1058,1148.3L1061,1148L1064,1148L1067,1147.7L1070,1147.3L1073,1147.2L1076,1147.2L1079,1147.5L1082,1147.7L1085,1147.9L1088,1148L1091,1147.6L1094,1147.7L1097,1147.5L1100,1147.1L1103,1147.4L1106,1147.4L1109,1147.5L1112,1148L1115,1147.9L1118,1147.9L1121,1147.5L1124,1147L1127,1147L1130,1146.8L1133,1147.2L1136,1147.6L1139,1147.6L1142,1147.8L1145,1147.7L1148,1147.4L1151,1147L1154,1146.6L1157,1146.8L1160,1146.7L1163,1147L1166,1147.2L1169,1147.2L1172,1147L1175,1147.2L1178,1146.7L1181,1146.7L1184,1146.1L1187,1146.5L1190,1146.3L1193,1146.8L1196,1146.9L1199,1147L1202,1146.8L1205,1146.6L1208,1146L1211,1146L1214,1145.7L1217,1146L1220,1146.3L1223,1146.5L1226,1146.7L1229,1146.6L1232,1146.4L1235,1145.8L1238,1145.7L1241,1145.4L1244,1145.8L1247,1145.6L1250,1146.2L1253,1146.4L1256,1146.1L1259,1145.8L1262,1145.8L1265,1145.4L1268,1145L1271,1145L1274,1145.4L1277,1145.8L1280,1145.8L1283,1145.9L1286,1145.8L1289,1145.4L1292,1144.8L1295,1144.8L1298,1144.6L1301,1144.8L1304,1145.1L1307,1145.4L1310,1145.4L1313,1145.1L1316,1145.2L1319,1144.8L1322,1144.5L1325,1144.3L1328,1144.3L1331,1144.8L1334,1145.1L1337,1144.8L1340,1145L1343,1144.8L1346,1144.7L1349,1144.4L1352,1143.9L1355,1143.9L1358,1144.1L1361,1144.3L1364,1144.9L1367,1144.7L1370,1144.2L1373,1144L1376,1143.9L1379,1143.5L1382,1143.9L1385,1143.9L1388,1143.9L1391,1144.2L1394,1144.4L1397,1144L1400,1143.8L1403,1143.8L1406,1143.3L1409,1143.1L1412,1143.3L1415,1143.5L1418,1143.6L1421,1143.7L1424,1144L1427,1143.6L1430,1143.3L1433,1143.3L1436,1142.7L1439,1143.1L1442,1143L1445,1143.3L1448,1143.3L1451,1143.4L1454,1143.4L1457,1143.3L1460,1142.9L1463,1142.7L1466,1142.8L1469,1142.7L1472,1143L1475,1143L1478,1143.3L1481,1143.2L1484,1142.8L1487,1142.6L1490,1142.1L1493,1142L1496,1142.5L1499,1142.5L1502,1142.6L1505,1142.6L1508,1142.6L1511,1142.4L1514,1142.3L1517,1142.1L1520,1141.7L1523,1142.1L1526,1142.1L1529,1142.4L1532,1142.2L1535,1142.7L1538,1142.1L1541,1142.1L1544,1141.7L1547,1141.3L1550,1141.4L1553,1141.4L1556,1141.6L1559,1142L1562,1142.3L1565,1142.3L1568,1141.8L1571,1141.8L1574,1141.9L1577,1142L1580,1142.2L1583,1142.4L1586,1142.7L1589,1142.9L1592,1143L1595,1142.8L1598,1142.7L1601,1142.7L1604,1142.3L1607,1142.4L1610,1142.8L1613,1143L1616,1143.3L1619,1143.4L1622,1143.7L1625,1143.2L1628,1143.1L1631,1142.9L1634,1143.1L1637,1143.4L1640,1144L1643,1143.8L1646,1144L1649,1144.2L1652,1144L1655,1143.7L1658,1143.5L1661,1143.6L1664,1143.7L1664,1134.4L1661,1133.5L1658,1133.7L1655,1133.4L1652,1133.6L1649,1134L1646,1135.3L1643,1135.8L1640,1136.1L1637,1135.8L1634,1135.9L1631,1135.8L1628,1135.8L1625,1136.1L1622,1135.8L1619,1135.4L1616,1134.6L1613,1133.6L1610,1133.8L1607,1133.7L1604,1134.1L1601,1134.3L1598,1134L1595,1133.8L1592,1134L1589,1134.4L1586,1135.2L1583,1136.2L1580,1135.9L1577,1136.3L1574,1135.4L1571,1135.1L1568,1135.3L1565,1135.7L1562,1135.5L1559,1134.6L1556,1134L1553,1133.6L1550,1133L1547,1133.3L1544,1133.4L1541,1134.1L1538,1134.2L1535,1134.7L1532,1134.4L1529,1134.9L1526,1135.1L1523,1136.1L1520,1136.1L1517,1136.5L1514,1136.3L1511,1135.6L1508,1134.4L1505,1134.5L1502,1134.4L1499,1134.4L1496,1133.7L1493,1133.8L1490,1132.9L1487,1133L1484,1133.6L1481,1134.3L1478,1134.7L1475,1135.2L1472,1135.7L1469,1135.5L1466,1135.2L1463,1135.5L1460,1136.3L1457,1136.1L1454,1136L1451,1135.4L1448,1133.9L1445,1133.5L1442,1134.1L1439,1134.3L1436,1133.8L1433,1134.3L1430,1134.1L1427,1134.1L1424,1134.3L1421,1134.8L1418,1135.7L1415,1136.2L1412,1136.5L1409,1135.7L1406,1136.1L1403,1135.3L1400,1136L1397,1135.6L1394,1135.6L1391,1135.4L1388,1134.1L1385,1133.5L1382,1133.3L1379,1133.6L1376,1134.6L1373,1134.4L1370,1135L1367,1134.7L1364,1135.2L1361,1135.3L1358,1135.8L1355,1137L1352,1137L1349,1136.4L1346,1136.2L1343,1135.4L1340,1135.7L1337,1135.8L1334,1135.2L1331,1135.1L1328,1134.4L1325,1134.2L1322,1133.6L1319,1133.9L1316,1134.9L1313,1135.8L1310,1135.7L1307,1136L1304,1136.4L1301,1136.3L1298,1136.5L1295,1136.7L1292,1137.2L1289,1137.1L1286,1136.7L1283,1135.9L1280,1135.2L1277,1135.1L1274,1135.5L1271,1134.9L1268,1134.8L1265,1134.7L1262,1134.9L1259,1134.4L1256,1135.7L1253,1136.4L1250,1136.9L1247,1137L1244,1136.7L1241,1136.6L1238,1137L1235,1137.4L1232,1136.8L1229,1136.9L1226,1136.4L1223,1136.3L1220,1135.2L1217,1134.8L1214,1135L1211,1135.2L1208,1135.2L1205,1135.6L1202,1135.4L1199,1135.9L1196,1136.3L1193,1136.6L1190,1137.4L1187,1138.3L1184,1138.1L1181,1137.5L1178,1136.8L1175,1136.6L1172,1136.5L1169,1136.5L1166,1136.5L1163,1136.4L1160,1135.7L1157,1135.2L1154,1135L1151,1136L1148,1136.2L1145,1136.2L1142,1136.6L1139,1136.8L1136,1137.3L1133,1137.4L1130,1138.3L1127,1138.3L1124,1138.3L1121,1137.9L1118,1137.5L1115,1136.4L1112,1136.1L1109,1136.4L1106,1136.6L1103,1136.4L1100,1135.5L1097,1135.4L1094,1135.7L1091,1135.6L1088,1136.9L1085,1137.2L1082,1137.9L1079,1137.4L1076,1137.3L1073,1137.2L1070,1137.6L1067,1138L1064,1137.8L1061,1138.1L1058,1137.3L1055,1135.9L1052,1135.7L1049,1135.8L1046,1135.9L1043,1136.1L1040,1136.3L1037,1135.8L1034,1135.8L1031,1136.2L1028,1136.8L1025,1137.7L1022,1137.9L1019,1138.6L1016,1138L1013,1137.9L1010,1137.8L1007,1137.2L1004,1137.2L1001,1137.4L998,1137L995,1136L992,1135.4L989,1135.2L986,1135.6L983,1136.1L980,1136.4L977,1136.5L974,1136.6L971,1136.9L968,1136.9L965,1138L962,1138.3L959,1138.8L956,1138.4L953,1137.9L950,1137L947,1136.9L944,1136.6L941,1137.2L938,1136.5L935,1136.3L932,1135.8L929,1135.2L926,1135.8L923,1136.6L920,1136.8L917,1137.6L914,1137.9L911,1137.2L908,1137.5L905,1137.8L902,1138L899,1138.8L896,1137.9L893,1137.9L890,1137.3L887,1136.5L884,1135.9L881,1135.8L878,1136L875,1135.9L872,1136.2L869,1135.8L866,1136.1L863,1136.7L860,1137.3L857,1137.8L854,1138.3L851,1138.1L848,1137.9L845,1137.8L842,1138L839,1137.9L836,1138L833,1137.5L830,1136.6L827,1135.8L824,1135.8L821,1135.5L818,1135.9L815,1136.7L812,1136.8L809,1136.3L806,1136.8L803,1137.2L800,1137.8L797,1138.3L794,1138.5L791,1138.4L788,1138.1L785,1137.6L782,1137.2L779,1137.2L776,1137.3L773,1137.2L770,1136.4L767,1136.3L764,1135.7L761,1135.4L758,1135.7L755,1136.7L752,1136.9L749,1137.3L746,1137.3L743,1137.4L740,1137.9L737,1138.4L734,1138.6L731,1138.7L728,1138.5L725,1137.5L722,1137.2L719,1136.6L716,1136.7L713,1136.9L710,1136.4L707,1136L704,1135.5L701,1135.7L698,1136.1L695,1136.7L692,1137.7L689,1138L686,1138.3L683,1138.2L680,1137.7L677,1138.2L674,1138.2L671,1138.3L668,1138.1L665,1137.5L662,1136.8L659,1135.9L656,1135.6L653,1136.4L650,1136.8L647,1136.8L644,1136.7L641,1136.5L638,1136.6L635,1137.3L632,1138.3L629,1138.5L626,1139.1L623,1138.6L620,1138.5L617,1137.6L614,1138L611,1137.9L608,1137.4L605,1136.9L602,1136.6L599,1136.3L596,1136L593,1135.7L590,1136.9L587,1137.2L584,1137.4L581,1137.5L578,1137.8L575,1137.5L572,1138.8L569,1139L566,1138.8L563,1138.9L560,1138.3L557,1138.2L554,1137.2L551,1137.7L548,1137.7L545,1137.6L542,1136.8L539,1136.5L536,1136.4L533,1136.4L530,1137.3L527,1137.9L524,1138.7L521,1138.7L518,1138.7L515,1139L512,1138.9L509,1139.2L506,1139.2L503,1139.4L500,1138.7L497,1138.2L494,1137.8L491,1136.8L488,1137.2L485,1137.4L482,1137.8L479,1137.1L476,1137L473,1137.3L470,1137.9L467,1139.1L464,1139.1L461,1140.1L458,1139.4L455,1139.4L452,1139.4L449,1139.5L446,1139.7L443,1139.2L440,1139.1L437,1138.4L434,1137.9L431,1137.1L428,1137Z" fill="#3a1245" opacity="0.7"/>
<path d="M428,1152.1L431,1151.8L434,1152.1L437,1152.5L440,1152.6L443,1152.5L446,1152.3L449,1152L452,1151.7L455,1151.7L458,1151.9L461,1151.7L464,1152.1L467,1152.6L470,1152.2L473,1152.1L476,1152.1L479,1151.9L482,1151.4L485,1151.4L488,1151.6L491,1151.7L494,1152.1L497,1152.4L500,1152.1L503,1152L506,1151.4L509,1151.3L512,1151.4L515,1151.1L518,1151.4L521,1151.6L524,1151.8L527,1151.7L530,1151.6L533,1151.3L536,1151.1L539,1150.8L542,1150.9L545,1151.2L548,1151.4L551,1151.4L554,1151.6L557,1151.7L560,1151.1L563,1151.2L566,1150.7L569,1150.5L572,1151.1L575,1151.1L578,1151.2L581,1151.6L584,1151.3L587,1151.2L590,1150.8L593,1150.9L596,1150.4L599,1150.5L602,1150.8L605,1151.1L608,1151L611,1151.2L614,1150.7L617,1150.5L620,1150.2L623,1150.1L626,1150.2L629,1150.3L632,1150.4L635,1150.6L638,1150.5L641,1150.5L644,1149.9L647,1150L650,1149.8L653,1149.5L656,1149.4L659,1149.6L662,1150.1L665,1150.1L668,1149.8L671,1149.9L674,1149.4L677,1149.2L680,1149L683,1149.2L686,1149.6L689,1149.9L692,1149.7L695,1149.9L698,1149.9L701,1149.4L704,1149.5L707,1149L710,1148.9L713,1149.1L716,1149.5L719,1149.5L722,1149.8L725,1149.6L728,1149.7L731,1149.1L734,1149.1L737,1149L740,1149.3L743,1149.4L746,1149.6L749,1149.6L752,1149.5L755,1149.3L758,1149L761,1149.1L764,1149L767,1148.8L770,1149.2L773,1149.1L776,1149.7L779,1149.7L782,1149.4L785,1149.1L788,1148.8L791,1148.8L794,1148.5L797,1149.1L800,1148.9L803,1149.5L806,1149.3L809,1149.2L812,1149.3L815,1148.6L818,1148.3L821,1148.3L824,1148.5L827,1148.8L830,1148.9L833,1149.4L836,1149L839,1149L842,1148.8L845,1148.7L848,1148.4L851,1148.5L854,1148.6L857,1149L860,1149.3L863,1149.3L866,1149.2L869,1148.7L872,1148.5L875,1148.4L878,1148L881,1148.2L884,1148.4L887,1148.7L890,1149L893,1149.1L896,1148.9L899,1148.2L902,1148.2L905,1148.2L908,1148.2L911,1148.3L914,1148.7L917,1149.1L920,1149L923,1148.5L926,1148.4L929,1147.8L932,1148L935,1148.2L938,1148.1L941,1148.7L944,1148.7L947,1148.8L950,1148.5L953,1148.2L956,1147.8L959,1148.1L962,1147.7L965,1147.8L968,1148.3L971,1148.5L974,1148.6L977,1148.4L980,1148.5L983,1148L986,1147.6L989,1147.5L992,1147.7L995,1148.3L998,1148.2L1001,1148.4L1004,1148.5L1007,1148.3L1010,1147.8L1013,1147.9L1016,1147.4L1019,1147.5L1022,1147.7L1025,1148.1L1028,1148.3L1031,1148.5L1034,1148.4L1037,1147.9L1040,1147.7L1043,1147.3L1046,1147.6L1049,1147.7L1052,1148L1055,1148L1058,1148.3L1061,1148L1064,1148L1067,1147.7L1070,1147.3L1073,1147.2L1076,1147.2L1079,1147.5L1082,1147.7L1085,1147.9L1088,1148L1091,1147.6L1094,1147.7L1097,1147.5L1100,1147.1L1103,1147.4L1106,1147.4L1109,1147.5L1112,1148L1115,1147.9L1118,1147.9L1121,1147.5L1124,1147L1127,1147L1130,1146.8L1133,1147.2L1136,1147.6L1139,1147.6L1142,1147.8L1145,1147.7L1148,1147.4L1151,1147L1154,1146.6L1157,1146.8L1160,1146.7L1163,1147L1166,1147.2L1169,1147.2L1172,1147L1175,1147.2L1178,1146.7L1181,1146.7L1184,1146.1L1187,1146.5L1190,1146.3L1193,1146.8L1196,1146.9L1199,1147L1202,1146.8L1205,1146.6L1208,1146L1211,1146L1214,1145.7L1217,1146L1220,1146.3L1223,1146.5L1226,1146.7L1229,1146.6L1232,1146.4L1235,1145.8L1238,1145.7L1241,1145.4L1244,1145.8L1247,1145.6L1250,1146.2L1253,1146.4L1256,1146.1L1259,1145.8L1262,1145.8L1265,1145.4L1268,1145L1271,1145L1274,1145.4L1277,1145.8L1280,1145.8L1283,1145.9L1286,1145.8L1289,1145.4L1292,1144.8L1295,1144.8L1298,1144.6L1301,1144.8L1304,1145.1L1307,1145.4L1310,1145.4L1313,1145.1L1316,1145.2L1319,1144.8L1322,1144.5L1325,1144.3L1328,1144.3L1331,1144.8L1334,1145.1L1337,1144.8L1340,1145L1343,1144.8L1346,1144.7L1349,1144.4L1352,1143.9L1355,1143.9L1358,1144.1L1361,1144.3L1364,1144.9L1367,1144.7L1370,1144.2L1373,1144L1376,1143.9L1379,1143.5L1382,1143.9L1385,1143.9L1388,1143.9L1391,1144.2L1394,1144.4L1397,1144L1400,1143.8L1403,1143.8L1406,1143.3L1409,1143.1L1412,1143.3L1415,1143.5L1418,1143.6L1421,1143.7L1424,1144L1427,1143.6L1430,1143.3L1433,1143.3L1436,1142.7L1439,1143.1L1442,1143L1445,1143.3L1448,1143.3L1451,1143.4L1454,1143.4L1457,1143.3L1460,1142.9L1463,1142.7L1466,1142.8L1469,1142.7L1472,1143L1475,1143L1478,1143.3L1481,1143.2L1484,1142.8L1487,1142.6L1490,1142.1L1493,1142L1496,1142.5L1499,1142.5L1502,1142.6L1505,1142.6L1508,1142.6L1511,1142.4L1514,1142.3L1517,1142.1L1520,1141.7L1523,1142.1L1526,1142.1L1529,1142.4L1532,1142.2L1535,1142.7L1538,1142.1L1541,1142.1L1544,1141.7L1547,1141.3L1550,1141.4L1553,1141.4L1556,1141.6L1559,1142L1562,1142.3L1565,1142.3L1568,1141.8L1571,1141.8L1574,1141.9L1577,1142L1580,1142.2L1583,1142.4L1586,1142.7L1589,1142.9L1592,1143L1595,1142.8L1598,1142.7L1601,1142.7L1604,1142.3L1607,1142.4L1610,1142.8L1613,1143L1616,1143.3L1619,1143.4L1622,1143.7L1625,1143.2L1628,1143.1L1631,1142.9L1634,1143.1L1637,1143.4L1640,1144L1643,1143.8L1646,1144L1649,1144.2L1652,1144L1655,1143.7L1658,1143.5L1661,1143.6L1664,1143.7L1664,1136.6L1661,1135.7L1658,1135.9L1655,1135.6L1652,1135.8L1649,1136.2L1646,1137.5L1643,1138L1640,1138.3L1637,1138L1634,1138.1L1631,1138L1628,1138L1625,1138.3L1622,1138L1619,1137.6L1616,1136.8L1613,1135.8L1610,1136L1607,1135.9L1604,1136.3L1601,1136.5L1598,1136.2L1595,1136L1592,1136.2L1589,1136.6L1586,1137.4L1583,1138.4L1580,1138.1L1577,1138.5L1574,1137.6L1571,1137.3L1568,1137.5L1565,1137.9L1562,1137.7L1559,1136.8L1556,1136.2L1553,1135.8L1550,1135.2L1547,1135.5L1544,1135.6L1541,1136.3L1538,1136.4L1535,1136.9L1532,1136.6L1529,1137.1L1526,1137.3L1523,1138.3L1520,1138.3L1517,1138.7L1514,1138.5L1511,1137.8L1508,1136.6L1505,1136.7L1502,1136.6L1499,1136.6L1496,1135.9L1493,1136L1490,1135.1L1487,1135.2L1484,1135.8L1481,1136.5L1478,1136.9L1475,1137.4L1472,1137.9L1469,1137.7L1466,1137.4L1463,1137.7L1460,1138.5L1457,1138.3L1454,1138.2L1451,1137.6L1448,1136.1L1445,1135.7L1442,1136.3L1439,1136.5L1436,1136L1433,1136.5L1430,1136.3L1427,1136.3L1424,1136.5L1421,1137L1418,1137.9L1415,1138.4L1412,1138.7L1409,1137.9L1406,1138.3L1403,1137.5L1400,1138.2L1397,1137.8L1394,1137.8L1391,1137.6L1388,1136.3L1385,1135.7L1382,1135.5L1379,1135.8L1376,1136.8L1373,1136.6L1370,1137.2L1367,1136.9L1364,1137.4L1361,1137.5L1358,1138L1355,1139.2L1352,1139.2L1349,1138.6L1346,1138.4L1343,1137.6L1340,1137.9L1337,1138L1334,1137.4L1331,1137.3L1328,1136.6L1325,1136.4L1322,1135.8L1319,1136.1L1316,1137.1L1313,1138L1310,1137.9L1307,1138.2L1304,1138.6L1301,1138.5L1298,1138.7L1295,1138.9L1292,1139.4L1289,1139.3L1286,1138.9L1283,1138.1L1280,1137.4L1277,1137.3L1274,1137.7L1271,1137.1L1268,1137L1265,1136.9L1262,1137.1L1259,1136.6L1256,1137.9L1253,1138.6L1250,1139.1L1247,1139.2L1244,1138.9L1241,1138.8L1238,1139.2L1235,1139.6L1232,1139L1229,1139.1L1226,1138.6L1223,1138.5L1220,1137.4L1217,1137L1214,1137.2L1211,1137.4L1208,1137.4L1205,1137.8L1202,1137.6L1199,1138.1L1196,1138.5L1193,1138.8L1190,1139.6L1187,1140.5L1184,1140.3L1181,1139.7L1178,1139L1175,1138.8L1172,1138.7L1169,1138.7L1166,1138.7L1163,1138.6L1160,1137.9L1157,1137.4L1154,1137.2L1151,1138.2L1148,1138.4L1145,1138.4L1142,1138.8L1139,1139L1136,1139.5L1133,1139.6L1130,1140.5L1127,1140.5L1124,1140.5L1121,1140.1L1118,1139.7L1115,1138.6L1112,1138.3L1109,1138.6L1106,1138.8L1103,1138.6L1100,1137.7L1097,1137.6L1094,1137.9L1091,1137.8L1088,1139.1L1085,1139.4L1082,1140.1L1079,1139.6L1076,1139.5L1073,1139.4L1070,1139.8L1067,1140.2L1064,1140L1061,1140.3L1058,1139.5L1055,1138.1L1052,1137.9L1049,1138L1046,1138.1L1043,1138.3L1040,1138.5L1037,1138L1034,1138L1031,1138.4L1028,1139L1025,1139.9L1022,1140.1L1019,1140.8L1016,1140.2L1013,1140.1L1010,1140L1007,1139.4L1004,1139.4L1001,1139.6L998,1139.2L995,1138.2L992,1137.6L989,1137.4L986,1137.8L983,1138.3L980,1138.6L977,1138.7L974,1138.8L971,1139.1L968,1139.1L965,1140.2L962,1140.5L959,1141L956,1140.6L953,1140.1L950,1139.2L947,1139.1L944,1138.8L941,1139.4L938,1138.7L935,1138.5L932,1138L929,1137.4L926,1138L923,1138.8L920,1139L917,1139.8L914,1140.1L911,1139.4L908,1139.7L905,1140L902,1140.2L899,1141L896,1140.1L893,1140.1L890,1139.5L887,1138.7L884,1138.1L881,1138L878,1138.2L875,1138.1L872,1138.4L869,1138L866,1138.3L863,1138.9L860,1139.5L857,1140L854,1140.5L851,1140.3L848,1140.1L845,1140L842,1140.2L839,1140.1L836,1140.2L833,1139.7L830,1138.8L827,1138L824,1138L821,1137.7L818,1138.1L815,1138.9L812,1139L809,1138.5L806,1139L803,1139.4L800,1140L797,1140.5L794,1140.7L791,1140.6L788,1140.3L785,1139.8L782,1139.4L779,1139.4L776,1139.5L773,1139.4L770,1138.6L767,1138.5L764,1137.9L761,1137.6L758,1137.9L755,1138.9L752,1139.1L749,1139.5L746,1139.5L743,1139.6L740,1140.1L737,1140.6L734,1140.8L731,1140.9L728,1140.7L725,1139.7L722,1139.4L719,1138.8L716,1138.9L713,1139.1L710,1138.6L707,1138.2L704,1137.7L701,1137.9L698,1138.3L695,1138.9L692,1139.9L689,1140.2L686,1140.5L683,1140.4L680,1139.9L677,1140.4L674,1140.4L671,1140.5L668,1140.3L665,1139.7L662,1139L659,1138.1L656,1137.8L653,1138.6L650,1139L647,1139L644,1138.9L641,1138.7L638,1138.8L635,1139.5L632,1140.5L629,1140.7L626,1141.3L623,1140.8L620,1140.7L617,1139.8L614,1140.2L611,1140.1L608,1139.6L605,1139.1L602,1138.8L599,1138.5L596,1138.2L593,1137.9L590,1139.1L587,1139.4L584,1139.6L581,1139.7L578,1140L575,1139.7L572,1141L569,1141.2L566,1141L563,1141.1L560,1140.5L557,1140.4L554,1139.4L551,1139.9L548,1139.9L545,1139.8L542,1139L539,1138.7L536,1138.6L533,1138.6L530,1139.5L527,1140.1L524,1140.9L521,1140.9L518,1140.9L515,1141.2L512,1141.1L509,1141.4L506,1141.4L503,1141.6L500,1140.9L497,1140.4L494,1140L491,1139L488,1139.4L485,1139.6L482,1140L479,1139.3L476,1139.2L473,1139.5L470,1140.1L467,1141.3L464,1141.3L461,1142.3L458,1141.6L455,1141.6L452,1141.6L449,1141.7L446,1141.9L443,1141.4L440,1141.3L437,1140.6L434,1140.1L431,1139.3L428,1139.2Z" fill="#2a2c2a"/>
<path d="M423.2,868 L426.5,868 L432.3,1150 L428.8,1150Z" fill="#25102f"/>
<rect x="1664" y="872.5" width="146" height="3" fill="#3a1840"/>
<rect x="1664" y="1137.5" width="146" height="3.5" fill="#2a1420"/>
<path d="M1808,868.7L1811,868.2L1814,867.9L1817,868L1820.1,867.8L1823.1,867.8L1826.1,868.3L1829.1,868.1L1832.1,868.4L1835.1,868.7L1838.2,868.6L1841.2,868.4L1844.2,867.8L1847.2,867.8L1850.2,867.9L1853.2,868L1856.2,868.2L1859.3,868.7L1862.3,868.8L1865.3,868.5L1868.3,868.1L1871.3,868L1874.3,867.7L1877.4,867.7L1880.4,868L1883.4,868L1886.4,868.3L1889.4,868.4L1892.4,868.3L1895.5,868.6L1898.5,868.2L1901.5,867.6L1904.5,868L1907.5,868L1910.5,868.1L1913.5,868.6L1916.6,868.4L1919.6,868.5L1922.6,868.2L1925.6,868.2L1928.6,867.8L1931.6,867.8L1934.7,867.8L1937.7,868L1940.7,868.2L1943.7,868.4L1946.7,868.4L1949.7,868.5L1952.8,868L1955.8,867.9L1958.8,867.6L1961.8,867.6L1964.8,867.9L1967.8,868.1L1970.8,868.4L1973.9,868.4L1976.9,868.5L1979.9,868.3L1982.9,868.1L1985.9,867.6L1988.9,868L1992,867.8L1995,868.4L1998,868.5L2001,868.5L2001,879.6L1998,880L1995,880.3L1992,881L1988.9,881.1L1985.9,880.4L1982.9,879.6L1979.9,879.1L1976.9,879.1L1973.9,878.5L1970.8,879L1967.8,878.6L1964.8,878.5L1961.8,878L1958.8,878.5L1955.8,878.2L1952.8,879.2L1949.7,880L1946.7,880.5L1943.7,880.2L1940.7,880.4L1937.7,880L1934.7,880.4L1931.6,880.5L1928.6,880.5L1925.6,880.3L1922.6,879.8L1919.6,878.8L1916.6,878.4L1913.5,878.3L1910.5,878.6L1907.5,878.3L1904.5,879L1901.5,878.4L1898.5,879L1895.5,878.9L1892.4,879.7L1889.4,880.2L1886.4,880.6L1883.4,880.9L1880.4,880.5L1877.4,880.1L1874.3,879.9L1871.3,879.5L1868.3,879.9L1865.3,879.7L1862.3,879.2L1859.3,878.6L1856.2,877.6L1853.2,877.8L1850.2,878.1L1847.2,878.9L1844.2,879.5L1841.2,879.7L1838.2,879.7L1835.1,879.8L1832.1,880.2L1829.1,880.3L1826.1,881L1823.1,880.9L1820.1,880.4L1817,879.7L1814,879.1L1811,878.8L1808,879.2Z" fill="#3a1245" opacity="0.7"/>
<path d="M1808,868.7L1811,868.2L1814,867.9L1817,868L1820.1,867.8L1823.1,867.8L1826.1,868.3L1829.1,868.1L1832.1,868.4L1835.1,868.7L1838.2,868.6L1841.2,868.4L1844.2,867.8L1847.2,867.8L1850.2,867.9L1853.2,868L1856.2,868.2L1859.3,868.7L1862.3,868.8L1865.3,868.5L1868.3,868.1L1871.3,868L1874.3,867.7L1877.4,867.7L1880.4,868L1883.4,868L1886.4,868.3L1889.4,868.4L1892.4,868.3L1895.5,868.6L1898.5,868.2L1901.5,867.6L1904.5,868L1907.5,868L1910.5,868.1L1913.5,868.6L1916.6,868.4L1919.6,868.5L1922.6,868.2L1925.6,868.2L1928.6,867.8L1931.6,867.8L1934.7,867.8L1937.7,868L1940.7,868.2L1943.7,868.4L1946.7,868.4L1949.7,868.5L1952.8,868L1955.8,867.9L1958.8,867.6L1961.8,867.6L1964.8,867.9L1967.8,868.1L1970.8,868.4L1973.9,868.4L1976.9,868.5L1979.9,868.3L1982.9,868.1L1985.9,867.6L1988.9,868L1992,867.8L1995,868.4L1998,868.5L2001,868.5L2001,877.4L1998,877.8L1995,878.1L1992,878.8L1988.9,878.9L1985.9,878.2L1982.9,877.4L1979.9,876.9L1976.9,876.9L1973.9,876.3L1970.8,876.8L1967.8,876.4L1964.8,876.3L1961.8,875.8L1958.8,876.3L1955.8,876L1952.8,877L1949.7,877.8L1946.7,878.3L1943.7,878L1940.7,878.2L1937.7,877.8L1934.7,878.2L1931.6,878.3L1928.6,878.3L1925.6,878.1L1922.6,877.6L1919.6,876.6L1916.6,876.2L1913.5,876.1L1910.5,876.4L1907.5,876.1L1904.5,876.8L1901.5,876.2L1898.5,876.8L1895.5,876.7L1892.4,877.5L1889.4,878L1886.4,878.4L1883.4,878.7L1880.4,878.3L1877.4,877.9L1874.3,877.7L1871.3,877.3L1868.3,877.7L1865.3,877.5L1862.3,877L1859.3,876.4L1856.2,875.4L1853.2,875.6L1850.2,875.9L1847.2,876.7L1844.2,877.3L1841.2,877.5L1838.2,877.5L1835.1,877.6L1832.1,878L1829.1,878.1L1826.1,878.8L1823.1,878.7L1820.1,878.2L1817,877.5L1814,876.9L1811,876.6L1808,877Z" fill="#2a2c2a"/>
<path d="M1808,1146.9L1811,1146.7L1814,1147L1817,1147.1L1820.1,1147.4L1823.1,1147.4L1826.1,1147.7L1829.1,1147.2L1832.1,1147.1L1835.1,1146.8L1838.2,1146.5L1841.2,1146.6L1844.2,1146.8L1847.2,1147.5L1850.2,1147.7L1853.2,1147.5L1856.2,1147.4L1859.3,1147.1L1862.3,1146.6L1865.3,1146.8L1868.3,1146.5L1871.3,1146.7L1874.3,1147.1L1877.4,1147.5L1880.4,1147.3L1883.4,1147.4L1886.4,1147L1889.4,1146.7L1892.4,1146.6L1895.5,1146.5L1898.5,1146.7L1901.5,1146.9L1904.5,1147.4L1907.5,1147.1L1910.5,1147.3L1913.5,1146.8L1916.6,1147L1919.6,1146.4L1922.6,1146.7L1925.6,1146.5L1928.6,1146.8L1931.6,1146.9L1934.7,1147L1937.7,1147.4L1940.7,1146.9L1943.7,1146.7L1946.7,1146.2L1949.7,1146.2L1952.8,1146.6L1955.8,1146.5L1958.8,1147.1L1961.8,1147.2L1964.8,1147.1L1967.8,1147.2L1970.8,1146.7L1973.9,1146.4L1976.9,1146.5L1979.9,1146.4L1982.9,1146.7L1985.9,1146.6L1988.9,1146.9L1992,1146.9L1995,1146.8L1998,1146.5L2001,1146.4L2001,1137.1L1998,1136.3L1995,1136.1L1992,1135.5L1988.9,1136L1985.9,1137L1982.9,1137.4L1979.9,1137.5L1976.9,1137.7L1973.9,1137.7L1970.8,1138.3L1967.8,1138.6L1964.8,1139L1961.8,1139L1958.8,1138.7L1955.8,1138.3L1952.8,1137.3L1949.7,1136.8L1946.7,1136.7L1943.7,1136.8L1940.7,1137.3L1937.7,1136.8L1934.7,1136.2L1931.6,1136.1L1928.6,1136.4L1925.6,1136.9L1922.6,1137.7L1919.6,1138.5L1916.6,1138.6L1913.5,1138.7L1910.5,1138.5L1907.5,1138.2L1904.5,1139.1L1901.5,1138.7L1898.5,1138.3L1895.5,1138L1892.4,1137.3L1889.4,1136.8L1886.4,1136.2L1883.4,1136.3L1880.4,1136.5L1877.4,1136.7L1874.3,1136.7L1871.3,1137.2L1868.3,1137.1L1865.3,1137.7L1862.3,1138.1L1859.3,1139.2L1856.2,1139L1853.2,1139.5L1850.2,1138.7L1847.2,1138.4L1844.2,1138.1L1841.2,1138.2L1838.2,1138.4L1835.1,1138L1832.1,1136.9L1829.1,1136.9L1826.1,1136.2L1823.1,1136.3L1820.1,1137.3L1817,1137.7L1814,1138L1811,1137.7L1808,1138.4Z" fill="#3a1245" opacity="0.7"/>
<path d="M1808,1146.9L1811,1146.7L1814,1147L1817,1147.1L1820.1,1147.4L1823.1,1147.4L1826.1,1147.7L1829.1,1147.2L1832.1,1147.1L1835.1,1146.8L1838.2,1146.5L1841.2,1146.6L1844.2,1146.8L1847.2,1147.5L1850.2,1147.7L1853.2,1147.5L1856.2,1147.4L1859.3,1147.1L1862.3,1146.6L1865.3,1146.8L1868.3,1146.5L1871.3,1146.7L1874.3,1147.1L1877.4,1147.5L1880.4,1147.3L1883.4,1147.4L1886.4,1147L1889.4,1146.7L1892.4,1146.6L1895.5,1146.5L1898.5,1146.7L1901.5,1146.9L1904.5,1147.4L1907.5,1147.1L1910.5,1147.3L1913.5,1146.8L1916.6,1147L1919.6,1146.4L1922.6,1146.7L1925.6,1146.5L1928.6,1146.8L1931.6,1146.9L1934.7,1147L1937.7,1147.4L1940.7,1146.9L1943.7,1146.7L1946.7,1146.2L1949.7,1146.2L1952.8,1146.6L1955.8,1146.5L1958.8,1147.1L1961.8,1147.2L1964.8,1147.1L1967.8,1147.2L1970.8,1146.7L1973.9,1146.4L1976.9,1146.5L1979.9,1146.4L1982.9,1146.7L1985.9,1146.6L1988.9,1146.9L1992,1146.9L1995,1146.8L1998,1146.5L2001,1146.4L2001,1139.3L1998,1138.5L1995,1138.3L1992,1137.7L1988.9,1138.2L1985.9,1139.2L1982.9,1139.6L1979.9,1139.7L1976.9,1139.9L1973.9,1139.9L1970.8,1140.5L1967.8,1140.8L1964.8,1141.2L1961.8,1141.2L1958.8,1140.9L1955.8,1140.5L1952.8,1139.5L1949.7,1139L1946.7,1138.9L1943.7,1139L1940.7,1139.5L1937.7,1139L1934.7,1138.4L1931.6,1138.3L1928.6,1138.6L1925.6,1139.1L1922.6,1139.9L1919.6,1140.7L1916.6,1140.8L1913.5,1140.9L1910.5,1140.7L1907.5,1140.4L1904.5,1141.3L1901.5,1140.9L1898.5,1140.5L1895.5,1140.2L1892.4,1139.5L1889.4,1139L1886.4,1138.4L1883.4,1138.5L1880.4,1138.7L1877.4,1138.9L1874.3,1138.9L1871.3,1139.4L1868.3,1139.3L1865.3,1139.9L1862.3,1140.3L1859.3,1141.4L1856.2,1141.2L1853.2,1141.7L1850.2,1140.9L1847.2,1140.6L1844.2,1140.3L1841.2,1140.4L1838.2,1140.6L1835.1,1140.2L1832.1,1139.1L1829.1,1139.1L1826.1,1138.4L1823.1,1138.5L1820.1,1139.5L1817,1139.9L1814,1140.2L1811,1139.9L1808,1140.6Z" fill="#2a2c2a"/>
</g>
<g id="stitch">
<path d="M629.3,932 C629.3,927 631.3,926 636.3,926 L738.2,925.5" fill="none" stroke="#343634" stroke-width="3.4" stroke-linecap="round"/>
<path d="M630.3,1100.5 L739.2,1101.0" fill="none" stroke="#343634" stroke-width="3.2" stroke-linecap="round"/>
<path d="M629.3,931L629.7,939.3L629.7,947L628.7,954.1L630.1,962L630,969L629.5,976.9L629.6,985L628.9,992.2L629.3,1000.9L630,1007.6L630.1,1015.2L629.9,1022.9L629.1,1031.7L629.4,1038.5L630.5,1047.1L629.6,1054.9L630,1062.2L629.5,1070.3L630.3,1078L630.6,1084.8L629.9,1092.3L630.1,1100.5" fill="none" stroke="#343634" stroke-width="7.6" stroke-linecap="round" stroke-linejoin="round"/>
<path d="M738.2,926L737.6,934.2L738.1,941.6L738.8,949.8L738.2,957.7L738.8,965L739.2,972.9L738.9,982L738,989.9L738.5,997.5L738.1,1004.7L738.4,1013.9L738.4,1021.5L739.5,1029.7L738.7,1036.8L739.1,1045.4L738.5,1053.3L739.5,1061.3L738.5,1069.4L738.7,1076.5L739.4,1085.2L739.1,1093.2L739.4,1100.5" fill="none" stroke="#343634" stroke-width="7.8" stroke-linecap="round" stroke-linejoin="round"/>
<path d="M643.3,930L646.5,938.8L653.4,951.8L656.2,958.5L663.9,970.2L666.5,979.2L671.9,991.3L676.2,999.9L679.4,1011.7L685.8,1020.2 " fill="none" stroke="#2b1b2a" stroke-width="2.2" stroke-linejoin="round"/>
<path d="M685.8,1020.2L692.4,1029.5L698,1036.7L702.3,1043.4L708.4,1052.5L714.7,1059L722.9,1068.1L728.8,1074.6L733.2,1082.5" fill="none" stroke="#2b1b2a" stroke-width="2.2" stroke-linejoin="round"/>
<path d="M734.2,934L728.5,942.4L723,954.7L719.5,963.1L712.7,971.8L706,981.2L702.8,992.7L696.1,1002L692,1011.3L685.8,1020.2" fill="none" stroke="#2b1b2a" stroke-width="2.0" stroke-linejoin="round"/>
<path d="M685.8,1020.2L679.7,1028.4L675.8,1037.3L668.9,1046.4L664.7,1053.5L657.3,1061.6L652.7,1070.3L647.9,1079L643.2,1087.2L637.3,1094.5" fill="none" stroke="#2b1b2a" stroke-width="2.0" stroke-linejoin="round"/>
<path d="M874.3,931.8 C874.3,926.8 876.3,925.8 881.3,925.8 L983,925.3" fill="none" stroke="#343634" stroke-width="3.4" stroke-linecap="round"/>
<path d="M875.3,1101 L984,1101.5" fill="none" stroke="#343634" stroke-width="3.2" stroke-linecap="round"/>
<path d="M874.3,930.8L873.8,938.8L873.8,945.9L875.1,953.6L874.6,961.7L874.4,969.5L874.1,977.7L874,984.6L873.9,992.4L874.5,1001L874.5,1007.6L874.4,1016.6L874.1,1023.8L874.6,1031.6L874.6,1039.4L874.8,1047.1L875.4,1054.7L874.4,1061.7L875.6,1070L874.6,1078.4L875.1,1085.8L875.6,1093L875.1,1101" fill="none" stroke="#343634" stroke-width="7.6" stroke-linecap="round" stroke-linejoin="round"/>
<path d="M983,925.8L982.5,934L983.4,942.4L983.6,949.7L982.8,957.2L983.3,965.6L982.7,974.1L983.4,981.8L983,989.2L982.8,997.3L983.2,1005.3L983.4,1013.9L984.2,1020.9L983.6,1028.9L984,1038L983.4,1045.6L983.6,1052.5L984.3,1061L983.5,1069.1L983.7,1077L984,1085L984.3,1092.7L984.2,1101" fill="none" stroke="#343634" stroke-width="7.8" stroke-linecap="round" stroke-linejoin="round"/>
<path d="M888.3,929.8L892.5,941L897.7,950.7L904.1,958.4L905.4,968.8L911.4,980.4L917.4,989.7L922.9,998.5L927.2,1009.3L930.6,1020.4 " fill="none" stroke="#2b1b2a" stroke-width="2.2" stroke-linejoin="round"/>
<path d="M930.6,1020.4L938.1,1028.5L941.5,1037.6L948.2,1042.5L954.7,1051.7L960.2,1058.4L965,1067.6L971.9,1074L978,1083" fill="none" stroke="#2b1b2a" stroke-width="2.2" stroke-linejoin="round"/>
<path d="M979,933.8L973.3,943L967.4,952.1L962.7,961.4L958.2,973L952.5,980.4L946.3,991.3L940.1,1002.7L936.8,1010.8L930.6,1020.4" fill="none" stroke="#2b1b2a" stroke-width="2.0" stroke-linejoin="round"/>
<path d="M930.6,1020.4L926.1,1029.2L918.3,1037.3L915.8,1046.1L910.5,1055.1L902.9,1061.2L898.6,1071.7L892.6,1079.8L888.8,1086.8L882.3,1095" fill="none" stroke="#2b1b2a" stroke-width="2.0" stroke-linejoin="round"/>
</g>
<g id="buckleOver">
<path d="M405,862 L509.3,860 L509.6,869.5 L470,870 L424,870.5 L405,872Z" fill="#222224"/>
<path d="M426,1150.5 L470,1150 L527,1149 L527,1158 L432,1160Z" fill="#1d1d1f"/>
</g>
<g id="dring">
<defs><linearGradient id="rgG" x1="0" y1="0" x2="1" y2="1"><stop offset="0" stop-color="#cbc7be"/><stop offset="0.5" stop-color="#b3afa6"/><stop offset="1" stop-color="#a19e96"/></linearGradient></defs>
<path d="M806,868 C816,854 832,846 850,845 C880,845 912,862 936,884 L930,880 C905,874 880,876 850,873 C835,871 820,872 806,874Z" fill="#1f1f20"/>
<path d="M838,859 C860,853 890,858 915,874 C890,868 862,866 834,868Z" fill="#3b3b3b"/>
<path d="M796,1145 L916,1145 C900,1153 880,1160 860,1162 C840,1163 818,1159 802,1150Z" fill="#1c1c1d"/>
<path d="M820,1155 C842,1153.5 880,1152 912,1147.5 C895,1155 875,1160 860,1161.5 C845,1162 831,1160 820,1155Z" fill="#b3afa6"/>
<path d="M792.1,866.3L792.3,865.8L792.4,865.1L792.7,864L793,862.8L793.4,861.3L793.9,859.7L794.5,858L795.2,856.1L796.1,854.3L797.2,852.5L798.1,851.1L799.1,849.8L800.1,848.5L801.2,847.3L802.4,846L803.7,844.8L805.2,843.5L806.7,842.4L808.4,841.2L810.1,840.1L811.9,839L813.9,837.9L816,836.7L818.2,835.6L820.5,834.4L822.9,833.2L825.4,832.1L828.1,831L830.8,830L833.5,829.2L836.1,828.4L838.7,827.8L841.4,827.2L844.2,826.6L847,826.2L849.9,825.8L852.9,825.5L856,825.3L859.2,825.2L862.4,825.2L865.5,825.3L868.8,825.4L872.1,825.6L875.6,825.9L879.1,826.3L882.8,826.8L886.6,827.5L890.5,828.4L894.5,829.4L898.6,830.7L902.7,832.1L906.9,833.8L911.3,835.6L915.7,837.5L920.1,839.6L924.6,841.8L928.9,844.1L933.2,846.5L937.4,848.9L941.4,851.4L945.1,853.9L948.8,856.4L952.3,859L955.8,861.7L959.2,864.5L962.5,867.4L965.7,870.4L968.9,873.4L972,876.6L975.1,879.9L978.2,883.4L981.2,887L984.2,890.7L987.2,894.5L990.1,898.5L992.9,902.5L995.6,906.5L998.3,910.6L1000.8,914.7L1003.2,918.9L1005.5,923.1L1007.7,927.4L1009.8,931.8L1011.8,936.2L1013.7,940.6L1015.5,945L1017.2,949.3L1018.8,953.6L1020.3,957.8L1021.7,961.8L1023,965.9L1024.3,969.9L1025.4,974L1026.5,978L1027.5,982L1028.4,986L1029.2,990L1029.9,994L1030.4,997.9L1030.8,1001.8L1031.1,1005.6L1031.1,1009.3L1031.1,1012.9L1030.9,1016.4L1030.6,1019.7L1030.1,1023.1L1029.6,1026.3L1029.1,1029.6L1028.5,1032.9L1027.8,1036.3L1027.1,1039.9L1026.4,1043.6L1025.6,1047.5L1024.8,1051.5L1023.8,1055.7L1022.7,1059.9L1021.4,1064.2L1020,1068.5L1018.4,1072.9L1016.6,1077.1L1014.5,1081.3L1012.4,1085.5L1010,1089.5L1007.5,1093.5L1005,1097.5L1002.4,1101.3L999.7,1105.1L997,1108.7L994.3,1112.2L991.7,1115.6L989,1118.9L986.2,1122.2L983.4,1125.3L980.5,1128.4L977.6,1131.4L974.7,1134.3L971.7,1137.1L968.8,1139.8L965.7,1142.5L962.7,1145.1L959.6,1147.6L956.5,1150.1L953.3,1152.4L950.1,1154.7L946.9,1157L943.6,1159.1L940.3,1161.2L937,1163.1L933.7,1165L930.4,1166.7L927,1168.4L923.7,1169.9L920.3,1171.4L916.9,1172.7L913.6,1173.9L910.2,1175.1L906.8,1176.1L903.5,1177.1L900.1,1178L896.7,1178.8L893.2,1179.6L889.6,1180.3L886,1181L882.4,1181.5L878.8,1182L875.2,1182.4L871.7,1182.7L868.2,1183L864.7,1183.2L861.3,1183.3L858,1183.4L854.6,1183.4L851.3,1183.3L848,1183.1L844.8,1182.9L841.6,1182.5L838.4,1182.1L835.4,1181.7L832.4,1181.1L829.5,1180.5L826.7,1179.8L823.9,1178.9L821.3,1178L818.8,1177L816.3,1175.9L814,1174.8L811.8,1173.6L809.7,1172.4L807.7,1171.1L805.6,1169.7L803.4,1168L801.4,1166.1L799.6,1164.1L798,1162.2L796.6,1160.4L795.4,1158.7L794.3,1157.2L793.5,1156L792.9,1155.2L792.5,1154.6L809.5,1141.4L810.3,1142.4L811.2,1143.6L812.1,1144.9L813,1146.2L813.9,1147.5L814.9,1148.7L815.8,1149.9L816.7,1150.8L817.5,1151.6L818.4,1152.3L819.5,1153.1L820.9,1153.9L822.3,1154.8L823.8,1155.6L825.4,1156.4L827.1,1157.1L828.8,1157.8L830.6,1158.4L832.5,1159L834.5,1159.5L836.6,1160L838.9,1160.4L841.4,1160.8L844,1161.1L846.6,1161.3L849.4,1161.5L852.1,1161.7L855,1161.8L857.8,1161.8L860.7,1161.7L863.6,1161.5L866.6,1161.3L869.7,1161L872.8,1160.7L875.9,1160.2L879.1,1159.7L882.2,1159.2L885.3,1158.6L888.3,1157.9L891.3,1157.2L894.3,1156.4L897.2,1155.5L900.1,1154.6L903,1153.6L905.8,1152.6L908.6,1151.5L911.4,1150.3L914.1,1149.1L916.9,1147.7L919.6,1146.3L922.4,1144.7L925.2,1143.1L928,1141.3L930.8,1139.5L933.6,1137.6L936.4,1135.6L939.2,1133.5L941.9,1131.4L944.6,1129.2L947.3,1126.9L949.9,1124.6L952.6,1122.2L955.2,1119.7L957.7,1117.2L960.3,1114.5L962.8,1111.9L965.2,1109.1L967.6,1106.3L970,1103.4L972.3,1100.4L974.7,1097.3L977.1,1094L979.5,1090.6L981.9,1087.2L984.1,1083.8L986.3,1080.3L988.4,1076.9L990.2,1073.5L991.9,1070.1L993.4,1066.9L994.7,1063.6L995.9,1060.3L997,1056.9L997.9,1053.3L998.8,1049.7L999.6,1046.1L1000.3,1042.4L1001,1038.8L1001.6,1035.2L1002.2,1031.7L1002.7,1028.4L1003.2,1025.3L1003.7,1022.4L1004,1019.7L1004.3,1017.1L1004.4,1014.6L1004.5,1012.1L1004.5,1009.6L1004.4,1007L1004.2,1004.2L1003.8,1001.2L1003.4,998.1L1002.9,994.9L1002.2,991.6L1001.4,988.2L1000.6,984.7L999.6,981.2L998.6,977.6L997.5,973.9L996.3,970.2L995.1,966.3L993.8,962.4L992.4,958.4L991,954.4L989.5,950.4L987.9,946.4L986.2,942.5L984.5,938.6L982.7,934.8L980.8,931.1L978.8,927.5L976.7,923.8L974.4,920.1L972.1,916.4L969.7,912.8L967.2,909.2L964.7,905.8L962.1,902.4L959.5,899.2L956.9,896.1L954.3,893.1L951.7,890.3L949,887.5L946.3,884.9L943.6,882.4L940.8,879.9L937.9,877.5L934.9,875.2L931.8,872.9L928.6,870.6L925.3,868.4L921.7,866.2L917.9,864L914.1,861.8L910.1,859.7L906.2,857.7L902.3,855.9L898.5,854.2L894.8,852.6L891.4,851.3L888.2,850.2L885.1,849.3L882.1,848.5L879.1,847.8L876.1,847.3L873.2,846.9L870.2,846.5L867.3,846.2L864.4,846L861.6,845.8L859,845.7L856.5,845.6L854.1,845.7L851.8,845.8L849.5,846L847.2,846.2L845,846.5L842.8,846.9L840.7,847.4L838.5,847.8L836.5,848.4L834.6,849L832.5,849.7L830.5,850.5L828.5,851.3L826.6,852.2L824.7,853.2L823,854.1L821.3,855L819.9,855.9L818.7,856.7L817.7,857.4L816.8,858L816.1,858.7L815.5,859.3L814.9,859.8L814.4,860.5L813.8,861.1L813.3,861.9L812.8,862.5L812.6,863L812.3,863.6L812,864.4L811.6,865.3L811.3,866.4L811,867.5L810.7,868.6L810.5,869.7L810.2,870.8L809.9,871.7Z" fill="url(#rgG)" stroke="#3c3b38" stroke-width="1.4" stroke-linejoin="round"/>
<path d="M940.7,852.3L944.5,854.8L948.1,857.4L951.6,860L955,862.6L958.4,865.4L961.7,868.3L964.9,871.2L968,874.3L971.1,877.4L974.2,880.7L977.2,884.2L980.3,887.8L983.3,891.5L986.2,895.3L989.1,899.2L991.9,903.1L994.6,907.2L997.2,911.2L999.7,915.3L1002.1,919.5L1004.4,923.7L1006.6,928L1008.7,932.3L1010.6,936.7L1012.5,941.1L1014.3,945.5L1016,949.8L1017.6,954L1019.1,958.2L1020.5,962.3L1021.8,966.3L1023,970.3L1024.1,974.4L1025.2,978.4L1026.2,982.4L1027.1,986.3L1027.9,990.3L1028.6,994.2L1029.1,998.1L1029.5,1001.9L1029.7,1005.7L1029.8,1009.3L1029.7,1012.9L1029.6,1016.3L1029.2,1019.6L1028.8,1022.9L1028.3,1026.1L1027.8,1029.4L1027.2,1032.7L1026.5,1036.1L1025.9,1039.6L1025.1,1043.3L1024.4,1047.2L1023.5,1051.3L1022.5,1055.4L1021.4,1059.6L1020.2,1063.8L1018.8,1068.1L1017.2,1072.4L1015.4,1076.6L1013.4,1080.8L1011.2,1084.9L1008.9,1088.9" fill="none" stroke="#4a4844" stroke-width="2.0" stroke-linecap="round" stroke-linejoin="round" opacity="0.85"/>
<path d="M1015.2,1076.5L1013.2,1080.7L1011,1084.7L1008.7,1088.8L1006.3,1092.7L1003.7,1096.6L1001.1,1100.5L998.5,1104.2L995.8,1107.8L993.2,1111.3L990.5,1114.7L987.8,1118L985.1,1121.2L982.3,1124.4L979.4,1127.4L976.6,1130.4L973.7,1133.3L970.7,1136.1L967.8,1138.8L964.8,1141.4L961.8,1144L958.7,1146.5L955.6,1148.9L952.5,1151.3L949.3,1153.6L946.1,1155.8L942.8,1157.9L939.6,1160L936.3,1161.9L933,1163.8L929.7,1165.5L926.4,1167.1L923.1,1168.7L919.8,1170.1L916.4,1171.4L913.1,1172.6L909.8,1173.8L906.4,1174.8L903.1,1175.8L899.7,1176.7L896.4,1177.5L892.9,1178.3L889.4,1179L885.8,1179.7L882.2,1180.2L878.7,1180.7L875.1,1181.1L871.6,1181.4L868.1,1181.7L864.7,1181.9L861.3,1182L858,1182.1L854.7,1182.1L851.4,1182L848.1,1181.8L844.9,1181.6L841.7,1181.2L838.6,1180.9L835.6,1180.4L832.7,1179.9L829.8,1179.2L827,1178.5L824.3,1177.7L821.7,1176.8L819.3,1175.8L816.9,1174.8L814.6,1173.7L812.4,1172.5L810.3,1171.3L808.4,1170L806.4,1168.7L804.3,1167L802.3,1165.1L800.6,1163.3L799,1161.4L797.6,1159.6L796.4,1158L795.4,1156.5L794.6,1155.3L794,1154.4L793.5,1153.8" fill="none" stroke="#2e2d2b" stroke-width="3.2" stroke-linecap="round" stroke-linejoin="round" opacity="0.95"/>
<path d="M844.9,831.5L847.6,831.1L850.4,830.8L853.2,830.5L856.1,830.4L859.1,830.3L862.2,830.4L865.3,830.5L868.4,830.6L871.6,830.8L875,831.2L878.4,831.6L881.9,832.1L885.5,832.8L889.2,833.6L893,834.6L896.8,835.8L900.7,837.3L904.8,838.9L909,840.6L913.3,842.6L917.6,844.6L921.9,846.8L926.2,849.1L930.3,851.4L934.4,853.8L938.2,856.2L941.8,858.6L945.3,861.1L948.7,863.7L952,866.3L955.3,869L958.4,871.8L961.5,874.7L964.6,877.6L967.6,880.7L970.5,884L973.5,887.3L976.4,890.8L979.3,894.5L982.2,898.2L985,902L987.7,905.9L990.3,909.9L992.9,913.9L995.3,917.9L997.6,921.9L999.8,926L1001.9,930.2L1003.9,934.5L1005.8,938.8L1007.7,943L1009.4,947.3L1011,951.6L1012.5,955.8L1014,959.9L1015.4,963.9L1016.6,967.9L1017.8,971.9L1019,975.8L1020,979.7L1021,983.6L1021.9,987.4L1022.6,991.2L1023.3,995L1023.8,998.7L1024.2,1002.4L1024.4,1006L1024.5,1009.4L1024.4,1012.7L1024.3,1015.9L1024,1019.1L1023.6,1022.2L1023.1,1025.4L1022.6,1028.5L1022,1031.8L1021.4,1035.2L1020.8,1038.7L1020.1,1042.4L1019.3,1046.2L1018.5,1050.2L1017.5,1054.2L1016.5,1058.3L1015.3,1062.4L1014,1066.5L1012.5,1070.6L1010.8,1074.6L1008.9,1078.5L1006.8,1082.5L1004.6,1086.4L1002.2,1090.2L999.8,1094L997.2,1097.8L994.6,1101.5L992,1105L989.4,1108.5L986.8,1111.8L984.2,1115L981.5,1118.2L978.8,1121.3L976.1,1124.3L973.3,1127.2L970.5,1130L967.6,1132.8L964.7,1135.4L961.8,1138L958.9,1140.5L955.9,1143L952.9,1145.4L949.8,1147.7L946.7,1150L943.6,1152.1L940.4,1154.2L937.2,1156.2L934.1,1158.1L930.9,1159.9L927.7,1161.6L924.5,1163.2L921.3,1164.7L918.1,1166.1L914.9,1167.4L911.6,1168.6L908.4,1169.7L905.2,1170.7L901.9,1171.7L898.6,1172.6L895.3,1173.4L892,1174.2L888.5,1174.9L885.1,1175.5L881.6,1176.1L878.1,1176.6L874.6,1177L871.2,1177.3L867.8,1177.6L864.4,1177.8L861.2,1177.9L857.9,1178L854.7,1178L851.5,1177.9L848.3,1177.7L845.2,1177.5L842.2,1177.2L839.2,1176.8L836.3,1176.4L833.5,1175.8L830.8,1175.3L828.1,1174.6L825.6,1173.8L823.2,1173L820.8,1172L818.6,1171.1L816.5,1170L814.4,1168.9L812.5,1167.8L810.6,1166.6L808.8,1165.3L807,1163.9L805.2,1162.2L803.6,1160.6L802.2,1158.8L800.9,1157.2L799.8,1155.6L798.8,1154.2L797.9,1152.9L797.3,1152L796.7,1151.3" fill="none" stroke="#c9c6be" stroke-width="5.5" stroke-linecap="round" stroke-linejoin="round" opacity="1"/>
<path d="M845.6,835.6L848.2,835.3L850.8,835L853.5,834.8L856.3,834.6L859.1,834.6L862,834.7L865,834.8L868.1,835L871.2,835.2L874.5,835.6L877.7,836L881.1,836.5L884.5,837.2L888.1,838L891.6,839L895.3,840.2L899.1,841.6L903,843.1L907.1,844.9L911.3,846.8L915.5,848.9L919.7,851L923.9,853.2L927.9,855.5L931.8,857.9L935.5,860.2L939,862.6L942.4,865L945.7,867.5L948.9,870.1L952,872.7L955,875.4L958,878.3L961,881.2L963.9,884.2L966.7,887.4L969.6,890.6L972.4,894.1L975.2,897.6L978,901.3L980.7,905.1L983.3,908.9L985.9,912.7L988.3,916.7L990.7,920.6L992.9,924.5L995,928.5L997,932.6L999,936.7L1000.8,940.9L1002.6,945.1L1004.2,949.3L1005.8,953.5L1007.3,957.6L1008.7,961.7L1010,965.7L1011.3,969.6L1012.4,973.4L1013.6,977.3L1014.6,981.1L1015.5,984.9L1016.3,988.6L1017.1,992.3L1017.7,995.9L1018.2,999.4L1018.6,1002.9L1018.8,1006.3L1018.9,1009.5L1018.9,1012.6L1018.7,1015.6L1018.5,1018.5L1018.1,1021.5L1017.7,1024.5L1017.2,1027.6L1016.6,1030.8L1016,1034.2L1015.4,1037.7L1014.7,1041.4L1014,1045.2L1013.2,1049L1012.3,1052.9L1011.3,1056.9L1010.2,1060.8L1008.9,1064.7L1007.5,1068.6L1005.9,1072.4L1004.1,1076.2L1002.2,1079.9L1000,1083.7L997.8,1087.5L995.4,1091.2L992.9,1094.8L990.4,1098.4L987.9,1101.9L985.3,1105.3L982.8,1108.6L980.2,1111.8L977.6,1114.9L975,1117.9L972.3,1120.8L969.6,1123.6L966.9,1126.4L964.1,1129.1L961.3,1131.7L958.5,1134.3L955.6,1136.7L952.7,1139.1L949.8,1141.5L946.8,1143.7L943.8,1145.9L940.8,1148.1L937.7,1150.1L934.7,1152L931.6,1153.9L928.5,1155.7L925.4,1157.3L922.4,1158.9L919.3,1160.3L916.2,1161.7L913.1,1162.9L910,1164.1L906.9,1165.2L903.7,1166.2L900.6,1167.2L897.4,1168L894.2,1168.9L891,1169.6L887.6,1170.3L884.3,1171L880.9,1171.5L877.5,1172L874.1,1172.4L870.8,1172.8L867.4,1173L864.2,1173.2L861,1173.4L857.9,1173.4L854.8,1173.4L851.7,1173.3L848.6,1173.2L845.6,1173L842.7,1172.7L839.8,1172.3L837,1171.9L834.3,1171.4L831.8,1170.8L829.4,1170.2L827,1169.5L824.8,1168.7L822.6,1167.9L820.5,1166.9L818.5,1166L816.6,1165L814.8,1163.9L813.1,1162.8L811.5,1161.7L809.9,1160.5L808.4,1159.1L807,1157.6L805.7,1156L804.6,1154.5L803.5,1153L802.5,1151.6L801.6,1150.3L800.9,1149.3L800.3,1148.5" fill="none" stroke="#fcfcfc" stroke-width="3.0" stroke-linecap="round" stroke-linejoin="round" opacity="1"/>
<path d="M846,838.4L848.5,838L851,837.8L853.6,837.6L856.3,837.5L859.1,837.5L861.9,837.6L864.9,837.7L867.9,837.9L871,838.2L874.1,838.5L877.3,838.9L880.6,839.4L883.9,840.1L887.3,840.9L890.8,841.9L894.3,843.1L898,844.4L901.8,846L905.9,847.7L910,849.6L914.1,851.7L918.3,853.8L922.3,856L926.3,858.3L930.1,860.6L933.7,862.9L937.2,865.3L940.5,867.7L943.7,870.1L946.8,872.6L949.8,875.2L952.8,877.9L955.7,880.7L958.5,883.5L961.4,886.5L964.2,889.6L967,892.9L969.8,896.2L972.5,899.7L975.2,903.4L977.8,907.1L980.4,910.8L982.9,914.6L985.3,918.5L987.6,922.4L989.8,926.2L991.8,930.1L993.8,934.1L995.7,938.2L997.5,942.3L999.2,946.5L1000.8,950.6L1002.3,954.8L1003.8,958.9L1005.2,962.9L1006.5,966.8L1007.7,970.7L1008.9,974.5L1009.9,978.3L1010.9,982L1011.9,985.7L1012.7,989.4L1013.4,993L1014,996.5L1014.5,999.9L1014.8,1003.2L1015.1,1006.4L1015.2,1009.5L1015.1,1012.4L1015,1015.3L1014.8,1018.2L1014.5,1021.1L1014,1024L1013.6,1027L1013,1030.2L1012.4,1033.5L1011.8,1037.1L1011.1,1040.7L1010.4,1044.4L1009.6,1048.2L1008.8,1052.1L1007.8,1055.9L1006.7,1059.8L1005.5,1063.6L1004.2,1067.3L1002.7,1071L1001,1074.6L999.1,1078.3L997,1081.9L994.8,1085.6L992.5,1089.3L990.1,1092.9L987.6,1096.4L985.1,1099.9L982.6,1103.2L980.1,1106.5L977.6,1109.6L975,1112.6L972.5,1115.6L969.9,1118.5L967.2,1121.3L964.5,1124L961.8,1126.7L959,1129.2L956.3,1131.7L953.5,1134.2L950.6,1136.6L947.7,1138.9L944.8,1141.1L941.9,1143.3L938.9,1145.3L935.9,1147.3L932.9,1149.3L929.9,1151.1L926.9,1152.8L923.9,1154.5L920.9,1156L917.9,1157.4L914.9,1158.7L911.9,1160L908.9,1161.1L905.9,1162.2L902.8,1163.2L899.7,1164.1L896.6,1165L893.5,1165.8L890.3,1166.6L887,1167.3L883.7,1167.9L880.4,1168.5L877.1,1168.9L873.8,1169.4L870.5,1169.7L867.2,1170L864,1170.2L860.9,1170.3L857.9,1170.4L854.8,1170.4L851.8,1170.3L848.8,1170.2L845.9,1169.9L843,1169.7L840.2,1169.3L837.5,1168.9L834.9,1168.4L832.5,1167.9L830.2,1167.3L827.9,1166.6L825.8,1165.9L823.8,1165.1L821.8,1164.2L819.9,1163.3L818.1,1162.3L816.4,1161.3L814.8,1160.3L813.3,1159.3L811.9,1158.2L810.6,1156.9L809.3,1155.6L808.1,1154.1L807,1152.6L805.9,1151.2L805,1149.8L804.1,1148.6L803.4,1147.5L802.7,1146.7" fill="none" stroke="#504e49" stroke-width="2.6" stroke-linecap="round" stroke-linejoin="round" opacity="0.95"/>
<path d="M846.6,841.8L848.9,841.5L851.4,841.3L853.9,841.1L856.4,841L859,841.1L861.8,841.2L864.7,841.3L867.6,841.5L870.6,841.8L873.7,842.2L876.8,842.6L879.9,843.1L883.1,843.8L886.4,844.6L889.7,845.5L893,846.7L896.6,848L900.4,849.6L904.3,851.3L908.3,853.2L912.4,855.2L916.4,857.3L920.4,859.5L924.3,861.7L928,864L931.5,866.3L934.8,868.6L938,871L941.2,873.4L944.2,875.8L947.1,878.3L950,881L952.8,883.7L955.5,886.5L958.3,889.4L961,892.4L963.7,895.6L966.4,898.9L969.1,902.4L971.7,905.9L974.3,909.6L976.8,913.3L979.2,917L981.5,920.8L983.7,924.6L985.8,928.4L987.8,932.2L989.7,936.1L991.5,940.1L993.3,944.1L994.9,948.2L996.5,952.3L998,956.4L999.4,960.4L1000.7,964.4L1002,968.3L1003.2,972.1L1004.4,975.8L1005.4,979.6L1006.4,983.2L1007.3,986.8L1008.1,990.4L1008.8,993.8L1009.4,997.2L1009.8,1000.5L1010.2,1003.6L1010.4,1006.7L1010.5,1009.5L1010.5,1012.3L1010.4,1015L1010.2,1017.7L1009.9,1020.5L1009.5,1023.3L1009,1026.3L1008.5,1029.4L1007.9,1032.7L1007.3,1036.2L1006.7,1039.9L1006,1043.6L1005.2,1047.3L1004.4,1051L1003.5,1054.8L1002.5,1058.5L1001.3,1062.2L1000.1,1065.7L998.6,1069.2L997,1072.6L995.2,1076.2L993.2,1079.7L991.1,1083.3L988.8,1086.9L986.5,1090.4L984.1,1093.9L981.6,1097.3L979.1,1100.6L976.7,1103.8L974.3,1106.9L971.8,1109.9L969.3,1112.8L966.7,1115.6L964.2,1118.3L961.5,1121L958.9,1123.6L956.2,1126.1L953.5,1128.6L950.8,1131L948,1133.3L945.2,1135.6L942.4,1137.8L939.5,1139.9L936.6,1142L933.7,1143.9L930.8,1145.8L927.9,1147.6L925,1149.3L922.1,1150.9L919.2,1152.4L916.3,1153.7L913.4,1155L910.5,1156.3L907.5,1157.4L904.6,1158.4L901.6,1159.4L898.6,1160.4L895.6,1161.2L892.5,1162L889.4,1162.8L886.3,1163.5L883.1,1164.1L879.8,1164.6L876.6,1165.1L873.3,1165.6L870.1,1165.9L866.9,1166.2L863.8,1166.4L860.8,1166.6L857.8,1166.6L854.9,1166.6L852,1166.5L849,1166.4L846.2,1166.2L843.4,1165.9L840.7,1165.6L838.1,1165.2L835.7,1164.7L833.4,1164.2L831.2,1163.7L829.1,1163L827.1,1162.3L825.2,1161.6L823.4,1160.8L821.6,1159.9L820,1159L818.4,1158.1L816.9,1157.1L815.5,1156.2L814.4,1155.3L813.3,1154.3L812.2,1153.1L811.1,1151.7L810,1150.4L809,1149L808.1,1147.7L807.2,1146.4L806.4,1145.3L805.7,1144.4" fill="none" stroke="#a9a69e" stroke-width="5" stroke-linecap="round" stroke-linejoin="round" opacity="1"/>
<path d="M819.5,855.3L821,854.4L822.6,853.5L824.4,852.5L826.2,851.5L828.2,850.6L830.2,849.8L832.2,849L834.3,848.2L836.3,847.6L838.3,847.1L840.5,846.6L842.7,846.2L844.9,845.8L847.1,845.4L849.4,845.2L851.7,845L854.1,844.9L856.5,844.8L859,844.8L861.7,845L864.5,845.2L867.4,845.4L870.3,845.7L873.3,846L876.2,846.5L879.2,847L882.3,847.7L885.4,848.4L888.5,849.4L891.7,850.5L895.1,851.8L898.8,853.3L902.6,855L906.5,856.9L910.5,858.9L914.5,861L918.4,863.2L922.2,865.4L925.8,867.6L929.2,869.9L932.4,872.1L935.5,874.4L938.5,876.8L941.4,879.2L944.2,881.6L947,884.2L949.7,886.8L952.4,889.6L955,892.5L957.6,895.4L960.3,898.5L962.9,901.8L965.4,905.2L968,908.6L970.5,912.2L972.9,915.9L975.3,919.5L977.5,923.3L979.7,927L981.7,930.7L983.6,934.4L985.4,938.1L987.2,942L988.8,946L990.4,950L991.9,954L993.4,958.1L994.8,962L996.1,966L997.3,969.8L998.5,973.6L999.6,977.3L1000.6,980.9L1001.6,984.5L1002.5,988L1003.2,991.4L1003.9,994.7L1004.5,997.9L1004.9,1001.1L1005.2,1004.1L1005.5,1006.9L1005.6,1009.6L1005.6,1012.2L1005.5,1014.7L1005.3,1017.2L1005,1019.8L1004.7,1022.6L1004.3,1025.5L1003.8,1028.6L1003.2,1031.9L1002.6,1035.4L1002,1039L1001.3,1042.6L1000.6,1046.3L999.8,1049.9L998.9,1053.6L997.9,1057.1L996.9,1060.6L995.7,1064L994.4,1067.3L992.8,1070.6L991.1,1073.9L989.2,1077.4L987.2,1080.8L985,1084.3L982.7,1087.8L980.3,1091.2L977.9,1094.6L975.5,1097.9L973.1,1101L970.8,1104L968.4,1106.9L965.9,1109.8L963.5,1112.5L960.9,1115.2L958.4,1117.8L955.8,1120.4L953.2,1122.9L950.6,1125.3L947.9,1127.6L945.2,1129.9L942.5,1132.1L939.7,1134.3L937,1136.4L934.2,1138.4L931.3,1140.3L928.5,1142.1L925.7,1143.9L922.9,1145.5L920.1,1147.1L917.3,1148.5L914.5,1149.9L911.7,1151.1L908.9,1152.3L906.1,1153.4L903.3,1154.5L900.4,1155.4L897.5,1156.4L894.5,1157.2L891.5,1158L888.5,1158.8L885.5,1159.4L882.4,1160.1L879.2,1160.6L876,1161.1L872.9,1161.5L869.7,1161.9L866.6,1162.2L863.6,1162.4L860.7,1162.6L857.8,1162.6L855,1162.6L852.1,1162.5L849.3,1162.4L846.5,1162.2L843.9,1161.9L841.3,1161.6L838.8,1161.2L836.5,1160.8L834.3,1160.3L832.3,1159.8L830.4,1159.2L828.5,1158.6L826.8,1157.9L825.1,1157.1L823.5,1156.4L821.9,1155.5L820.4,1154.7L819.1,1153.8L817.9,1153L817,1152.3L816.1,1151.5L815.2,1150.4L814.2,1149.3L813.2,1148L812.3,1146.7L811.4,1145.4L810.5,1144.1L809.6,1142.9L808.9,1141.9" fill="none" stroke="#55534e" stroke-width="2.2" stroke-linecap="round" stroke-linejoin="round" opacity="0.9"/>
<path d="M800.1,868.7L800.3,868.1L800.5,867.2L800.8,866.1L801.1,864.9L801.5,863.6L801.9,862.2L802.4,860.8L802.9,859.5L803.5,858.2L804.2,857L804.9,855.9L805.7,854.9L806.5,853.9L807.4,852.9L808.3,852L809.3,851L810.4,850.1L811.7,849.1L813,848.2L814.5,847.2L816.2,846.2L818,845.2L819.9,844.1L821.9,843.1L824.1,842L826.3,841L828.6,840L831,839.1L833.4,838.3L835.7,837.6" fill="none" stroke="#ccc8bf" stroke-width="13" stroke-linecap="round" stroke-linejoin="round" opacity="1"/>
<path d="M835.7,837.6L838.1,837L840.6,836.4L843,835.9L845.5,835.4L848.1,835.1" fill="none" stroke="#ccc8bf" stroke-width="13" stroke-linecap="round" stroke-linejoin="round" opacity="0.6"/>
<path d="M848.1,835.1L850.8,834.8L853.5,834.6L856.2,834.4L859.1,834.4" fill="none" stroke="#ccc8bf" stroke-width="13" stroke-linecap="round" stroke-linejoin="round" opacity="0.3"/>
<path d="M809.4,864.6L809.8,863.6L810.1,862.6L810.5,861.9L810.9,861.2L811.4,860.5L812,859.7L812.6,859L813.2,858.3L813.8,857.6L814.6,856.9L815.4,856.2L816.3,855.5L817.4,854.7L818.7,853.9L820.2,853L821.8,852.1L823.6,851.1L825.5,850.1L827.5,849.2L829.6,848.3L831.6,847.5L833.7,846.7L835.8,846.1L837.9,845.5L840.1,845L842.3,844.5L844.6,844.1L846.9,843.8L849.2,843.5L851.6,843.3" fill="none" stroke="#96938c" stroke-width="3" stroke-linecap="round" stroke-linejoin="round" opacity="1"/>
<rect x="784" y="867.6" width="23" height="10" fill="#2a2c2a"/>
<path d="M778,1139.5 L822,1139.5 L822,1146 L812,1149.2 L778,1149.4Z" fill="#2a2c2a"/>
</g>
<g id="loop">
<path d="M1651.7,876C1651.5,853.7 1651.8,869 1652.2,866C1652.6,863 1653,860.5 1654,858C1655,855.5 1656.7,852.9 1658.5,851C1660.3,849.1 1661.4,848.2 1665,846.5C1668.6,844.8 1675,842.1 1680,841C1685,839.9 1689.9,839.6 1695.2,840.1C1700.5,840.6 1707.2,842.2 1712,844C1716.8,845.8 1720.5,848.5 1724,851C1727.5,853.5 1730.1,859.1 1733.3,859C1736.5,858.9 1739.2,853.3 1743,850.5C1746.8,847.7 1751.3,844 1756,842C1760.7,840 1766,838.7 1771.3,838.5C1776.6,838.3 1782.7,839.3 1788,841C1793.3,842.7 1799,845.8 1803,848.5C1807,851.2 1809.8,854.1 1812,857C1814.2,859.9 1815.6,862.5 1816.5,866C1817.4,869.5 1817.2,855.7 1817.6,878C1817.9,900.3 1818.2,963 1818.6,1000C1818.9,1037 1819.5,1076.7 1819.7,1100C1819.9,1123.3 1820.3,1131.3 1819.5,1140C1818.7,1148.7 1817.4,1148.4 1815,1152C1812.6,1155.6 1809,1158.8 1805,1161.5C1801,1164.2 1796.1,1166.7 1791,1168C1785.9,1169.3 1780.1,1169.8 1774.6,1169.6C1769.1,1169.3 1762.8,1168 1758,1166.5C1753.2,1165 1748.9,1162.2 1745.5,1160.5C1742.1,1158.8 1740.3,1156.3 1737.6,1156.5C1734.8,1156.7 1732.3,1159.6 1729,1161.5C1725.7,1163.4 1721.7,1166.5 1717.5,1168C1713.3,1169.5 1708.8,1170.6 1703.9,1170.7C1699,1170.8 1693.2,1170 1688,1168.5C1682.8,1167 1677.3,1164.4 1673,1161.5C1668.7,1158.6 1664.8,1154.9 1662,1151C1659.2,1147.1 1657.6,1146.5 1656.5,1138C1655.4,1129.5 1656,1123 1655.5,1100C1655,1077 1654.1,1037.3 1653.5,1000C1652.9,962.7 1651.9,898.3 1651.7,876Z M1673.5,880 Q1673.5,874 1679.5,874 L1789.5,874 Q1795.5,874 1795.7,880 L1801.3,1122 Q1801.7,1140 1784,1140 L1691,1140 Q1673.5,1140 1673.5,1122Z" fill="#272727" fill-rule="evenodd"/>
<defs><filter id="blur1"><feGaussianBlur stdDeviation="0.8"/></filter></defs>
<path d="M1662,1100C1661.8,1066.7 1661,938.7 1661,900C1661,861.3 1660.8,875.2 1662,868C1663.2,860.8 1664.7,859.9 1668,857C1671.3,854.1 1677.3,851.7 1682,850.5C1686.7,849.3 1691,849.4 1696,850C1701,850.6 1707,852 1712,854C1717,856 1723.7,860.7 1726,862" fill="none" stroke="#5c5c5c" stroke-width="2" stroke-linecap="round" opacity="0.85" filter="url(#blur1)"/>
<path d="M1744,860C1746.2,858.8 1752.3,854.3 1757,852.5C1761.7,850.7 1766.8,849.2 1772,849C1777.2,848.8 1783.3,850 1788,851.5C1792.7,853 1797,855.2 1800,858C1803,860.8 1804.7,861 1806,868C1807.3,875 1807.4,861.3 1808,900C1808.6,938.7 1809.2,1066.7 1809.5,1100" fill="none" stroke="#5c5c5c" stroke-width="2" stroke-linecap="round" opacity="0.85" filter="url(#blur1)"/>
<path d="M1664,1132C1664.7,1134.3 1665.7,1142 1668,1146C1670.3,1150 1674,1153.5 1678,1156C1682,1158.5 1687.3,1160 1692,1161C1696.7,1162 1701.3,1162.5 1706,1162C1710.7,1161.5 1716,1159.7 1720,1158C1724,1156.3 1728.3,1153 1730,1152" fill="none" stroke="#5c5c5c" stroke-width="2" stroke-linecap="round" opacity="0.85" filter="url(#blur1)"/>
<path d="M1745,1152C1747.2,1153 1753.2,1156.5 1758,1158C1762.8,1159.5 1768.7,1160.8 1774,1161C1779.3,1161.2 1785.3,1160.5 1790,1159C1794.7,1157.5 1798.8,1155.2 1802,1152C1805.2,1148.8 1807.8,1142 1809,1140" fill="none" stroke="#5c5c5c" stroke-width="2" stroke-linecap="round" opacity="0.85" filter="url(#blur1)"/>
<path d="M1668,878C1667.8,898.3 1667,958 1667,1000C1667,1042 1667.8,1108.3 1668,1130" fill="none" stroke="#3c3c3c" stroke-width="2" stroke-linecap="round" opacity="0.7" filter="url(#blur1)"/>
<path d="M1812.5,880C1812.7,900 1813.2,958.3 1813.5,1000C1813.8,1041.7 1814.3,1108.3 1814.5,1130" fill="none" stroke="#3c3c3c" stroke-width="2" stroke-linecap="round" opacity="0.7" filter="url(#blur1)"/>
<path d="M1684,866 C1688,863 1694,863 1698,864 L1697,867 C1692,867 1688,868 1684,868Z" fill="#d8d8d8"/>
</g>
</svg>
</body>
</html>
